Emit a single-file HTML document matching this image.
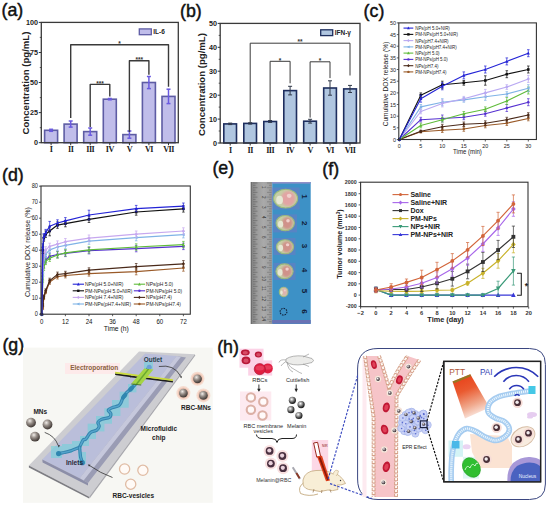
<!DOCTYPE html>
<html><head><meta charset="utf-8"><style>
html,body{margin:0;padding:0;background:#fff;}
svg{display:block;}
</style></head><body>
<svg width="550" height="507" viewBox="0 0 550 507">
<defs>
<radialGradient id="sph" cx="0.38" cy="0.32" r="0.72"><stop offset="0" stop-color="#f2eeea"/><stop offset="0.4" stop-color="#9a928c"/><stop offset="0.85" stop-color="#4e4642"/><stop offset="1" stop-color="#3a3430"/></radialGradient>
<radialGradient id="sph2" cx="0.38" cy="0.36" r="0.68"><stop offset="0" stop-color="#ffffff"/><stop offset="0.3" stop-color="#a8a0a4"/><stop offset="0.8" stop-color="#4a4044"/><stop offset="1" stop-color="#2a2226"/></radialGradient>
<radialGradient id="halo" cx="0.5" cy="0.5" r="0.5"><stop offset="0.55" stop-color="#f4c8b8"/><stop offset="1" stop-color="#fbe9e2"/></radialGradient>
<radialGradient id="rbc" cx="0.5" cy="0.5" r="0.5"><stop offset="0" stop-color="#f06070"/><stop offset="0.5" stop-color="#d8203a"/><stop offset="1" stop-color="#a01020"/></radialGradient>
<radialGradient id="tum" cx="0.55" cy="0.5" r="0.55"><stop offset="0" stop-color="#e8a0a0"/><stop offset="0.55" stop-color="#e0a8a0"/><stop offset="0.8" stop-color="#c8c898"/><stop offset="1" stop-color="#98b880"/></radialGradient>
<linearGradient id="ptt" x1="0.1" y1="0" x2="0.45" y2="1"><stop offset="0" stop-color="#e83c14"/><stop offset="0.4" stop-color="#ea5a30"/><stop offset="0.75" stop-color="#f0a88c"/><stop offset="1" stop-color="#fae6de"/></linearGradient>
<linearGradient id="ruler" x1="0" y1="0" x2="1" y2="0"><stop offset="0" stop-color="#808080"/><stop offset="0.3" stop-color="#9c9c9c"/><stop offset="0.6" stop-color="#aaaaaa"/><stop offset="0.85" stop-color="#a0a0a0"/><stop offset="1" stop-color="#969696"/></linearGradient>
<radialGradient id="nuc" cx="0.6" cy="0.65" r="0.6"><stop offset="0" stop-color="#3050b0"/><stop offset="0.6" stop-color="#5868c0"/><stop offset="1" stop-color="#a898d8"/></radialGradient>
<radialGradient id="sph3" cx="0.4" cy="0.36" r="0.66"><stop offset="0" stop-color="#ffffff"/><stop offset="0.3" stop-color="#b0b0b0"/><stop offset="0.75" stop-color="#3a3a3a"/><stop offset="1" stop-color="#1a1a1a"/></radialGradient>
<filter id="bl1" x="-50%" y="-50%" width="200%" height="200%"><feGaussianBlur stdDeviation="1.0"/></filter>
<filter id="bl05" x="-50%" y="-50%" width="200%" height="200%"><feGaussianBlur stdDeviation="0.5"/></filter>
</defs>
<rect x="0.0" y="0.0" width="550.0" height="507.0" fill="#ffffff" stroke="none" stroke-width="1" />
<text x="1.5" y="16.3" font-size="17.8" text-anchor="start" font-weight="normal" fill="#111" font-family='"Liberation Sans", sans-serif' stroke="#111" stroke-width="0.45">(a)</text>
<rect x="44.6" y="130.3" width="13.0" height="12.4" fill="#c0bdea" stroke="#5e5ca4" stroke-width="1.6" />
<line x1="51.1" y1="129.3" x2="51.1" y2="131.3" stroke="#6a5ae0" stroke-width="1.5" />
<line x1="49.1" y1="129.3" x2="53.1" y2="129.3" stroke="#6a5ae0" stroke-width="1.5" />
<line x1="49.1" y1="131.3" x2="53.1" y2="131.3" stroke="#6a5ae0" stroke-width="1.5" />
<line x1="51.1" y1="142.7" x2="51.1" y2="145.2" stroke="#333" stroke-width="1" />
<text x="51.1" y="152.2" font-size="8.2" text-anchor="middle" font-weight="bold" fill="#222" font-family='"Liberation Serif", serif' letter-spacing="-0.6">I</text>
<rect x="64.1" y="124.1" width="13.0" height="18.6" fill="#c0bdea" stroke="#5e5ca4" stroke-width="1.6" />
<line x1="70.7" y1="121.0" x2="70.7" y2="127.1" stroke="#6a5ae0" stroke-width="1.5" />
<line x1="68.7" y1="121.0" x2="72.7" y2="121.0" stroke="#6a5ae0" stroke-width="1.5" />
<line x1="68.7" y1="127.1" x2="72.7" y2="127.1" stroke="#6a5ae0" stroke-width="1.5" />
<line x1="70.7" y1="142.7" x2="70.7" y2="145.2" stroke="#333" stroke-width="1" />
<text x="70.7" y="152.2" font-size="8.2" text-anchor="middle" font-weight="bold" fill="#222" font-family='"Liberation Serif", serif' letter-spacing="-0.6">II</text>
<rect x="83.7" y="131.6" width="13.0" height="11.1" fill="#c0bdea" stroke="#5e5ca4" stroke-width="1.6" />
<line x1="90.2" y1="128.0" x2="90.2" y2="135.2" stroke="#6a5ae0" stroke-width="1.5" />
<line x1="88.2" y1="128.0" x2="92.2" y2="128.0" stroke="#6a5ae0" stroke-width="1.5" />
<line x1="88.2" y1="135.2" x2="92.2" y2="135.2" stroke="#6a5ae0" stroke-width="1.5" />
<line x1="90.2" y1="142.7" x2="90.2" y2="145.2" stroke="#333" stroke-width="1" />
<text x="90.2" y="152.2" font-size="8.2" text-anchor="middle" font-weight="bold" fill="#222" font-family='"Liberation Serif", serif' letter-spacing="-0.6">III</text>
<rect x="103.3" y="99.2" width="13.0" height="43.5" fill="#c0bdea" stroke="#5e5ca4" stroke-width="1.6" />
<line x1="109.8" y1="98.5" x2="109.8" y2="99.8" stroke="#6a5ae0" stroke-width="1.5" />
<line x1="107.8" y1="98.5" x2="111.8" y2="98.5" stroke="#6a5ae0" stroke-width="1.5" />
<line x1="107.8" y1="99.8" x2="111.8" y2="99.8" stroke="#6a5ae0" stroke-width="1.5" />
<line x1="109.8" y1="142.7" x2="109.8" y2="145.2" stroke="#333" stroke-width="1" />
<text x="109.8" y="152.2" font-size="8.2" text-anchor="middle" font-weight="bold" fill="#222" font-family='"Liberation Serif", serif' letter-spacing="-0.6">IV</text>
<rect x="122.9" y="134.6" width="13.0" height="8.1" fill="#c0bdea" stroke="#5e5ca4" stroke-width="1.6" />
<line x1="129.4" y1="131.0" x2="129.4" y2="138.2" stroke="#6a5ae0" stroke-width="1.5" />
<line x1="127.4" y1="131.0" x2="131.4" y2="131.0" stroke="#6a5ae0" stroke-width="1.5" />
<line x1="127.4" y1="138.2" x2="131.4" y2="138.2" stroke="#6a5ae0" stroke-width="1.5" />
<line x1="129.4" y1="142.7" x2="129.4" y2="145.2" stroke="#333" stroke-width="1" />
<text x="129.4" y="152.2" font-size="8.2" text-anchor="middle" font-weight="bold" fill="#222" font-family='"Liberation Serif", serif' letter-spacing="-0.6">V</text>
<rect x="142.4" y="82.5" width="13.0" height="60.1" fill="#c0bdea" stroke="#5e5ca4" stroke-width="1.6" />
<line x1="148.9" y1="76.5" x2="148.9" y2="88.6" stroke="#6a5ae0" stroke-width="1.5" />
<line x1="146.9" y1="76.5" x2="150.9" y2="76.5" stroke="#6a5ae0" stroke-width="1.5" />
<line x1="146.9" y1="88.6" x2="150.9" y2="88.6" stroke="#6a5ae0" stroke-width="1.5" />
<line x1="148.9" y1="142.7" x2="148.9" y2="145.2" stroke="#333" stroke-width="1" />
<text x="148.9" y="152.2" font-size="8.2" text-anchor="middle" font-weight="bold" fill="#222" font-family='"Liberation Serif", serif' letter-spacing="-0.6">VI</text>
<rect x="162.0" y="96.4" width="13.0" height="46.3" fill="#c0bdea" stroke="#5e5ca4" stroke-width="1.6" />
<line x1="168.5" y1="89.2" x2="168.5" y2="103.6" stroke="#6a5ae0" stroke-width="1.5" />
<line x1="166.5" y1="89.2" x2="170.5" y2="89.2" stroke="#6a5ae0" stroke-width="1.5" />
<line x1="166.5" y1="103.6" x2="170.5" y2="103.6" stroke="#6a5ae0" stroke-width="1.5" />
<line x1="168.5" y1="142.7" x2="168.5" y2="145.2" stroke="#333" stroke-width="1" />
<text x="168.5" y="152.2" font-size="8.2" text-anchor="middle" font-weight="bold" fill="#222" font-family='"Liberation Serif", serif' letter-spacing="-0.6">VII</text>
<rect x="41.3" y="22.4" width="137.0" height="120.3" fill="none" stroke="#3a3a3a" stroke-width="1.3" />
<line x1="38.8" y1="142.7" x2="41.3" y2="142.7" stroke="#333" stroke-width="1" />
<text x="38.0" y="145.2" font-size="7.2" text-anchor="end" font-weight="bold" fill="#222" font-family='"Liberation Sans", sans-serif' >0</text>
<line x1="38.8" y1="112.6" x2="41.3" y2="112.6" stroke="#333" stroke-width="1" />
<text x="38.0" y="115.1" font-size="7.2" text-anchor="end" font-weight="bold" fill="#222" font-family='"Liberation Sans", sans-serif' >25</text>
<line x1="38.8" y1="82.5" x2="41.3" y2="82.5" stroke="#333" stroke-width="1" />
<text x="38.0" y="85.0" font-size="7.2" text-anchor="end" font-weight="bold" fill="#222" font-family='"Liberation Sans", sans-serif' >50</text>
<line x1="38.8" y1="52.5" x2="41.3" y2="52.5" stroke="#333" stroke-width="1" />
<text x="38.0" y="55.0" font-size="7.2" text-anchor="end" font-weight="bold" fill="#222" font-family='"Liberation Sans", sans-serif' >75</text>
<line x1="38.8" y1="22.4" x2="41.3" y2="22.4" stroke="#333" stroke-width="1" />
<text x="38.0" y="24.9" font-size="7.2" text-anchor="end" font-weight="bold" fill="#222" font-family='"Liberation Sans", sans-serif' >100</text>
<line x1="39.8" y1="127.7" x2="41.3" y2="127.7" stroke="#333" stroke-width="0.8" />
<line x1="39.8" y1="97.6" x2="41.3" y2="97.6" stroke="#333" stroke-width="0.8" />
<line x1="39.8" y1="67.5" x2="41.3" y2="67.5" stroke="#333" stroke-width="0.8" />
<line x1="39.8" y1="37.4" x2="41.3" y2="37.4" stroke="#333" stroke-width="0.8" />
<text x="28.6" y="83.0" font-size="9.6" text-anchor="middle" font-weight="bold" fill="#222" font-family='"Liberation Sans", sans-serif' transform="rotate(-90 28.6 83)">Concentration (pg/mL)</text>
<rect x="139.3" y="28.9" width="12.0" height="5.8" fill="#c0bdea" stroke="#5e5ca4" stroke-width="1.3" />
<text x="153.3" y="34.2" font-size="6.5" text-anchor="start" font-weight="bold" fill="#222" font-family='"Liberation Sans", sans-serif' >IL-6</text>
<polyline points="70.7,118.0 70.7,44.7 168.5,44.7 168.5,86.7" fill="none" stroke="#3a3a3a" stroke-width="1.4" stroke-linejoin="round" />
<text x="119.6" y="45.9" font-size="6.5" text-anchor="middle" font-weight="bold" fill="#333" font-family='"Liberation Sans", sans-serif' >*</text>
<polyline points="90.2,126.9 90.2,84.4 109.8,84.4 109.8,96.4" fill="none" stroke="#3a3a3a" stroke-width="1.4" stroke-linejoin="round" />
<text x="100.0" y="85.6" font-size="6.5" text-anchor="middle" font-weight="bold" fill="#333" font-family='"Liberation Sans", sans-serif' >***</text>
<polyline points="129.4,132.0 129.4,60.7 148.9,60.7 148.9,74.7" fill="none" stroke="#3a3a3a" stroke-width="1.4" stroke-linejoin="round" />
<text x="139.2" y="61.9" font-size="6.5" text-anchor="middle" font-weight="bold" fill="#333" font-family='"Liberation Sans", sans-serif' >***</text>
<text x="180.0" y="16.5" font-size="17.8" text-anchor="start" font-weight="normal" fill="#111" font-family='"Liberation Sans", sans-serif' stroke="#111" stroke-width="0.45">(b)</text>
<rect x="223.8" y="123.9" width="12.7" height="19.1" fill="#b0c6e0" stroke="#1e2e5e" stroke-width="1.6" />
<line x1="230.2" y1="123.1" x2="230.2" y2="124.6" stroke="#303848" stroke-width="1.0" />
<line x1="228.2" y1="123.1" x2="232.2" y2="123.1" stroke="#303848" stroke-width="1.0" />
<line x1="228.2" y1="124.6" x2="232.2" y2="124.6" stroke="#303848" stroke-width="1.0" />
<line x1="230.2" y1="143.0" x2="230.2" y2="145.5" stroke="#333" stroke-width="1" />
<text x="230.2" y="152.5" font-size="8.2" text-anchor="middle" font-weight="bold" fill="#222" font-family='"Liberation Serif", serif' letter-spacing="-0.6">I</text>
<rect x="243.8" y="123.4" width="12.7" height="19.6" fill="#b0c6e0" stroke="#1e2e5e" stroke-width="1.6" />
<line x1="250.2" y1="122.7" x2="250.2" y2="124.1" stroke="#303848" stroke-width="1.0" />
<line x1="248.2" y1="122.7" x2="252.2" y2="122.7" stroke="#303848" stroke-width="1.0" />
<line x1="248.2" y1="124.1" x2="252.2" y2="124.1" stroke="#303848" stroke-width="1.0" />
<line x1="250.2" y1="143.0" x2="250.2" y2="145.5" stroke="#333" stroke-width="1" />
<text x="250.2" y="152.5" font-size="8.2" text-anchor="middle" font-weight="bold" fill="#222" font-family='"Liberation Serif", serif' letter-spacing="-0.6">II</text>
<rect x="263.8" y="121.5" width="12.7" height="21.5" fill="#b0c6e0" stroke="#1e2e5e" stroke-width="1.6" />
<line x1="270.1" y1="120.5" x2="270.1" y2="122.4" stroke="#303848" stroke-width="1.0" />
<line x1="268.1" y1="120.5" x2="272.1" y2="120.5" stroke="#303848" stroke-width="1.0" />
<line x1="268.1" y1="122.4" x2="272.1" y2="122.4" stroke="#303848" stroke-width="1.0" />
<line x1="270.1" y1="143.0" x2="270.1" y2="145.5" stroke="#333" stroke-width="1" />
<text x="270.1" y="152.5" font-size="8.2" text-anchor="middle" font-weight="bold" fill="#222" font-family='"Liberation Serif", serif' letter-spacing="-0.6">III</text>
<rect x="283.8" y="90.6" width="12.7" height="52.4" fill="#b0c6e0" stroke="#1e2e5e" stroke-width="1.6" />
<line x1="290.1" y1="86.3" x2="290.1" y2="94.9" stroke="#303848" stroke-width="1.0" />
<line x1="288.1" y1="86.3" x2="292.1" y2="86.3" stroke="#303848" stroke-width="1.0" />
<line x1="288.1" y1="94.9" x2="292.1" y2="94.9" stroke="#303848" stroke-width="1.0" />
<line x1="290.1" y1="143.0" x2="290.1" y2="145.5" stroke="#333" stroke-width="1" />
<text x="290.1" y="152.5" font-size="8.2" text-anchor="middle" font-weight="bold" fill="#222" font-family='"Liberation Serif", serif' letter-spacing="-0.6">IV</text>
<rect x="303.7" y="121.2" width="12.7" height="21.8" fill="#b0c6e0" stroke="#1e2e5e" stroke-width="1.6" />
<line x1="310.1" y1="119.3" x2="310.1" y2="123.1" stroke="#303848" stroke-width="1.0" />
<line x1="308.1" y1="119.3" x2="312.1" y2="119.3" stroke="#303848" stroke-width="1.0" />
<line x1="308.1" y1="123.1" x2="312.1" y2="123.1" stroke="#303848" stroke-width="1.0" />
<line x1="310.1" y1="143.0" x2="310.1" y2="145.5" stroke="#333" stroke-width="1" />
<text x="310.1" y="152.5" font-size="8.2" text-anchor="middle" font-weight="bold" fill="#222" font-family='"Liberation Serif", serif' letter-spacing="-0.6">V</text>
<rect x="323.7" y="88.0" width="12.7" height="55.0" fill="#b0c6e0" stroke="#1e2e5e" stroke-width="1.6" />
<line x1="330.0" y1="80.8" x2="330.0" y2="95.2" stroke="#303848" stroke-width="1.0" />
<line x1="328.0" y1="80.8" x2="332.0" y2="80.8" stroke="#303848" stroke-width="1.0" />
<line x1="328.0" y1="95.2" x2="332.0" y2="95.2" stroke="#303848" stroke-width="1.0" />
<line x1="330.0" y1="143.0" x2="330.0" y2="145.5" stroke="#333" stroke-width="1" />
<text x="330.0" y="152.5" font-size="8.2" text-anchor="middle" font-weight="bold" fill="#222" font-family='"Liberation Serif", serif' letter-spacing="-0.6">VI</text>
<rect x="343.7" y="88.9" width="12.7" height="54.1" fill="#b0c6e0" stroke="#1e2e5e" stroke-width="1.6" />
<line x1="350.0" y1="85.4" x2="350.0" y2="92.5" stroke="#303848" stroke-width="1.0" />
<line x1="348.0" y1="85.4" x2="352.0" y2="85.4" stroke="#303848" stroke-width="1.0" />
<line x1="348.0" y1="92.5" x2="352.0" y2="92.5" stroke="#303848" stroke-width="1.0" />
<line x1="350.0" y1="143.0" x2="350.0" y2="145.5" stroke="#333" stroke-width="1" />
<text x="350.0" y="152.5" font-size="8.2" text-anchor="middle" font-weight="bold" fill="#222" font-family='"Liberation Serif", serif' letter-spacing="-0.6">VII</text>
<rect x="220.2" y="23.4" width="139.8" height="119.6" fill="none" stroke="#3a3a3a" stroke-width="1.3" />
<line x1="217.7" y1="143.0" x2="220.2" y2="143.0" stroke="#333" stroke-width="1" />
<text x="216.9" y="145.5" font-size="7.2" text-anchor="end" font-weight="bold" fill="#222" font-family='"Liberation Sans", sans-serif' >0</text>
<line x1="217.7" y1="119.1" x2="220.2" y2="119.1" stroke="#333" stroke-width="1" />
<text x="216.9" y="121.6" font-size="7.2" text-anchor="end" font-weight="bold" fill="#222" font-family='"Liberation Sans", sans-serif' >10</text>
<line x1="217.7" y1="95.2" x2="220.2" y2="95.2" stroke="#333" stroke-width="1" />
<text x="216.9" y="97.7" font-size="7.2" text-anchor="end" font-weight="bold" fill="#222" font-family='"Liberation Sans", sans-serif' >20</text>
<line x1="217.7" y1="71.2" x2="220.2" y2="71.2" stroke="#333" stroke-width="1" />
<text x="216.9" y="73.7" font-size="7.2" text-anchor="end" font-weight="bold" fill="#222" font-family='"Liberation Sans", sans-serif' >30</text>
<line x1="217.7" y1="47.3" x2="220.2" y2="47.3" stroke="#333" stroke-width="1" />
<text x="216.9" y="49.8" font-size="7.2" text-anchor="end" font-weight="bold" fill="#222" font-family='"Liberation Sans", sans-serif' >40</text>
<line x1="217.7" y1="23.4" x2="220.2" y2="23.4" stroke="#333" stroke-width="1" />
<text x="216.9" y="25.9" font-size="7.2" text-anchor="end" font-weight="bold" fill="#222" font-family='"Liberation Sans", sans-serif' >50</text>
<line x1="218.7" y1="131.0" x2="220.2" y2="131.0" stroke="#333" stroke-width="0.8" />
<line x1="218.7" y1="107.1" x2="220.2" y2="107.1" stroke="#333" stroke-width="0.8" />
<line x1="218.7" y1="83.2" x2="220.2" y2="83.2" stroke="#333" stroke-width="0.8" />
<line x1="218.7" y1="59.3" x2="220.2" y2="59.3" stroke="#333" stroke-width="0.8" />
<line x1="218.7" y1="35.4" x2="220.2" y2="35.4" stroke="#333" stroke-width="0.8" />
<text x="205.3" y="84.5" font-size="9.6" text-anchor="middle" font-weight="bold" fill="#222" font-family='"Liberation Sans", sans-serif' transform="rotate(-90 205.3 84.5)">Concentration (pg/mL)</text>
<rect x="320.7" y="29.8" width="12.0" height="5.8" fill="#b0c6e0" stroke="#1e2e5e" stroke-width="1.3" />
<text x="334.7" y="35.1" font-size="6.5" text-anchor="start" font-weight="bold" fill="#222" font-family='"Liberation Sans", sans-serif' >IFN-γ</text>
<polyline points="250.2,122.0 250.2,43.2 350.0,43.2 350.0,75.5" fill="none" stroke="#3a3a3a" stroke-width="1.0" stroke-linejoin="round" />
<text x="300.1" y="44.4" font-size="6.5" text-anchor="middle" font-weight="bold" fill="#333" font-family='"Liberation Sans", sans-serif' >**</text>
<polyline points="270.1,120.2 270.1,61.3 290.1,61.3 290.1,83.3" fill="none" stroke="#3a3a3a" stroke-width="1.0" stroke-linejoin="round" />
<text x="280.1" y="62.5" font-size="6.5" text-anchor="middle" font-weight="bold" fill="#333" font-family='"Liberation Sans", sans-serif' >*</text>
<polyline points="310.1,117.6 310.1,61.8 330.0,61.8 330.0,78.1" fill="none" stroke="#3a3a3a" stroke-width="1.0" stroke-linejoin="round" />
<text x="320.1" y="63.0" font-size="6.5" text-anchor="middle" font-weight="bold" fill="#333" font-family='"Liberation Sans", sans-serif' >*</text>
<text x="363.6" y="16.6" font-size="17.8" text-anchor="start" font-weight="normal" fill="#111" font-family='"Liberation Sans", sans-serif' stroke="#111" stroke-width="0.45">(c)</text>
<polyline points="399.3,139.5 420.8,131.8 442.3,130.2 463.8,129.0 485.3,125.5 506.8,123.2 528.3,118.5" fill="none" stroke="#9a5a28" stroke-width="1.1" stroke-linejoin="round" />
<line x1="420.8" y1="130.6" x2="420.8" y2="133.0" stroke="#9a5a28" stroke-width="0.7" />
<line x1="419.5" y1="130.6" x2="422.1" y2="130.6" stroke="#9a5a28" stroke-width="0.7" />
<line x1="419.5" y1="133.0" x2="422.1" y2="133.0" stroke="#9a5a28" stroke-width="0.7" />
<line x1="442.3" y1="127.8" x2="442.3" y2="132.5" stroke="#9a5a28" stroke-width="0.7" />
<line x1="441.0" y1="127.8" x2="443.6" y2="127.8" stroke="#9a5a28" stroke-width="0.7" />
<line x1="441.0" y1="132.5" x2="443.6" y2="132.5" stroke="#9a5a28" stroke-width="0.7" />
<line x1="463.8" y1="126.7" x2="463.8" y2="131.3" stroke="#9a5a28" stroke-width="0.7" />
<line x1="462.5" y1="126.7" x2="465.1" y2="126.7" stroke="#9a5a28" stroke-width="0.7" />
<line x1="462.5" y1="131.3" x2="465.1" y2="131.3" stroke="#9a5a28" stroke-width="0.7" />
<line x1="485.3" y1="123.2" x2="485.3" y2="127.8" stroke="#9a5a28" stroke-width="0.7" />
<line x1="484.0" y1="123.2" x2="486.6" y2="123.2" stroke="#9a5a28" stroke-width="0.7" />
<line x1="484.0" y1="127.8" x2="486.6" y2="127.8" stroke="#9a5a28" stroke-width="0.7" />
<line x1="506.8" y1="120.8" x2="506.8" y2="125.5" stroke="#9a5a28" stroke-width="0.7" />
<line x1="505.5" y1="120.8" x2="508.1" y2="120.8" stroke="#9a5a28" stroke-width="0.7" />
<line x1="505.5" y1="125.5" x2="508.1" y2="125.5" stroke="#9a5a28" stroke-width="0.7" />
<line x1="528.3" y1="116.2" x2="528.3" y2="120.8" stroke="#9a5a28" stroke-width="0.7" />
<line x1="527.0" y1="116.2" x2="529.6" y2="116.2" stroke="#9a5a28" stroke-width="0.7" />
<line x1="527.0" y1="120.8" x2="529.6" y2="120.8" stroke="#9a5a28" stroke-width="0.7" />
<circle cx="399.3" cy="139.5" r="1.3" fill="#9a5a28" stroke="none" stroke-width="1" />
<circle cx="420.8" cy="131.8" r="1.3" fill="#9a5a28" stroke="none" stroke-width="1" />
<circle cx="442.3" cy="130.2" r="1.3" fill="#9a5a28" stroke="none" stroke-width="1" />
<circle cx="463.8" cy="129.0" r="1.3" fill="#9a5a28" stroke="none" stroke-width="1" />
<circle cx="485.3" cy="125.5" r="1.3" fill="#9a5a28" stroke="none" stroke-width="1" />
<circle cx="506.8" cy="123.2" r="1.3" fill="#9a5a28" stroke="none" stroke-width="1" />
<circle cx="528.3" cy="118.5" r="1.3" fill="#9a5a28" stroke="none" stroke-width="1" />
<polyline points="399.3,139.5 420.8,131.3 442.3,126.7 463.8,124.3 485.3,123.2 506.8,119.7 528.3,115.0" fill="none" stroke="#4a2a1a" stroke-width="1.1" stroke-linejoin="round" />
<line x1="420.8" y1="130.2" x2="420.8" y2="132.5" stroke="#4a2a1a" stroke-width="0.7" />
<line x1="419.5" y1="130.2" x2="422.1" y2="130.2" stroke="#4a2a1a" stroke-width="0.7" />
<line x1="419.5" y1="132.5" x2="422.1" y2="132.5" stroke="#4a2a1a" stroke-width="0.7" />
<line x1="442.3" y1="124.3" x2="442.3" y2="129.0" stroke="#4a2a1a" stroke-width="0.7" />
<line x1="441.0" y1="124.3" x2="443.6" y2="124.3" stroke="#4a2a1a" stroke-width="0.7" />
<line x1="441.0" y1="129.0" x2="443.6" y2="129.0" stroke="#4a2a1a" stroke-width="0.7" />
<line x1="463.8" y1="122.0" x2="463.8" y2="126.7" stroke="#4a2a1a" stroke-width="0.7" />
<line x1="462.5" y1="122.0" x2="465.1" y2="122.0" stroke="#4a2a1a" stroke-width="0.7" />
<line x1="462.5" y1="126.7" x2="465.1" y2="126.7" stroke="#4a2a1a" stroke-width="0.7" />
<line x1="485.3" y1="120.8" x2="485.3" y2="125.5" stroke="#4a2a1a" stroke-width="0.7" />
<line x1="484.0" y1="120.8" x2="486.6" y2="120.8" stroke="#4a2a1a" stroke-width="0.7" />
<line x1="484.0" y1="125.5" x2="486.6" y2="125.5" stroke="#4a2a1a" stroke-width="0.7" />
<line x1="506.8" y1="117.3" x2="506.8" y2="122.0" stroke="#4a2a1a" stroke-width="0.7" />
<line x1="505.5" y1="117.3" x2="508.1" y2="117.3" stroke="#4a2a1a" stroke-width="0.7" />
<line x1="505.5" y1="122.0" x2="508.1" y2="122.0" stroke="#4a2a1a" stroke-width="0.7" />
<line x1="528.3" y1="112.7" x2="528.3" y2="117.3" stroke="#4a2a1a" stroke-width="0.7" />
<line x1="527.0" y1="112.7" x2="529.6" y2="112.7" stroke="#4a2a1a" stroke-width="0.7" />
<line x1="527.0" y1="117.3" x2="529.6" y2="117.3" stroke="#4a2a1a" stroke-width="0.7" />
<polygon points="399.3,137.7 400.9,139.5 399.3,141.3 397.7,139.5" fill="#4a2a1a" stroke="none" stroke-width="1" />
<polygon points="420.8,129.5 422.4,131.3 420.8,133.2 419.2,131.3" fill="#4a2a1a" stroke="none" stroke-width="1" />
<polygon points="442.3,124.9 443.9,126.7 442.3,128.5 440.7,126.7" fill="#4a2a1a" stroke="none" stroke-width="1" />
<polygon points="463.8,122.5 465.4,124.3 463.8,126.2 462.2,124.3" fill="#4a2a1a" stroke="none" stroke-width="1" />
<polygon points="485.3,121.4 486.9,123.2 485.3,125.0 483.7,123.2" fill="#4a2a1a" stroke="none" stroke-width="1" />
<polygon points="506.8,117.9 508.4,119.7 506.8,121.5 505.2,119.7" fill="#4a2a1a" stroke="none" stroke-width="1" />
<polygon points="528.3,113.2 529.9,115.0 528.3,116.8 526.7,115.0" fill="#4a2a1a" stroke="none" stroke-width="1" />
<polyline points="399.3,139.5 420.8,119.7 442.3,118.5 463.8,117.3 485.3,113.8 506.8,108.0 528.3,102.2" fill="none" stroke="#5530d0" stroke-width="1.1" stroke-linejoin="round" />
<line x1="420.8" y1="117.3" x2="420.8" y2="122.0" stroke="#5530d0" stroke-width="0.7" />
<line x1="419.5" y1="117.3" x2="422.1" y2="117.3" stroke="#5530d0" stroke-width="0.7" />
<line x1="419.5" y1="122.0" x2="422.1" y2="122.0" stroke="#5530d0" stroke-width="0.7" />
<line x1="442.3" y1="115.0" x2="442.3" y2="122.0" stroke="#5530d0" stroke-width="0.7" />
<line x1="441.0" y1="115.0" x2="443.6" y2="115.0" stroke="#5530d0" stroke-width="0.7" />
<line x1="441.0" y1="122.0" x2="443.6" y2="122.0" stroke="#5530d0" stroke-width="0.7" />
<line x1="463.8" y1="115.0" x2="463.8" y2="119.7" stroke="#5530d0" stroke-width="0.7" />
<line x1="462.5" y1="115.0" x2="465.1" y2="115.0" stroke="#5530d0" stroke-width="0.7" />
<line x1="462.5" y1="119.7" x2="465.1" y2="119.7" stroke="#5530d0" stroke-width="0.7" />
<line x1="485.3" y1="111.5" x2="485.3" y2="116.2" stroke="#5530d0" stroke-width="0.7" />
<line x1="484.0" y1="111.5" x2="486.6" y2="111.5" stroke="#5530d0" stroke-width="0.7" />
<line x1="484.0" y1="116.2" x2="486.6" y2="116.2" stroke="#5530d0" stroke-width="0.7" />
<line x1="506.8" y1="104.5" x2="506.8" y2="111.5" stroke="#5530d0" stroke-width="0.7" />
<line x1="505.5" y1="104.5" x2="508.1" y2="104.5" stroke="#5530d0" stroke-width="0.7" />
<line x1="505.5" y1="111.5" x2="508.1" y2="111.5" stroke="#5530d0" stroke-width="0.7" />
<line x1="528.3" y1="98.7" x2="528.3" y2="105.7" stroke="#5530d0" stroke-width="0.7" />
<line x1="527.0" y1="98.7" x2="529.6" y2="98.7" stroke="#5530d0" stroke-width="0.7" />
<line x1="527.0" y1="105.7" x2="529.6" y2="105.7" stroke="#5530d0" stroke-width="0.7" />
<circle cx="399.3" cy="139.5" r="1.3" fill="#5530d0" stroke="none" stroke-width="1" />
<circle cx="420.8" cy="119.7" r="1.3" fill="#5530d0" stroke="none" stroke-width="1" />
<circle cx="442.3" cy="118.5" r="1.3" fill="#5530d0" stroke="none" stroke-width="1" />
<circle cx="463.8" cy="117.3" r="1.3" fill="#5530d0" stroke="none" stroke-width="1" />
<circle cx="485.3" cy="113.8" r="1.3" fill="#5530d0" stroke="none" stroke-width="1" />
<circle cx="506.8" cy="108.0" r="1.3" fill="#5530d0" stroke="none" stroke-width="1" />
<circle cx="528.3" cy="102.2" r="1.3" fill="#5530d0" stroke="none" stroke-width="1" />
<polyline points="399.3,139.5 420.8,125.5 442.3,119.7 463.8,113.8 485.3,109.2 506.8,101.0 528.3,90.5" fill="none" stroke="#5fbb3a" stroke-width="1.1" stroke-linejoin="round" />
<line x1="420.8" y1="123.2" x2="420.8" y2="127.8" stroke="#5fbb3a" stroke-width="0.7" />
<line x1="419.5" y1="123.2" x2="422.1" y2="123.2" stroke="#5fbb3a" stroke-width="0.7" />
<line x1="419.5" y1="127.8" x2="422.1" y2="127.8" stroke="#5fbb3a" stroke-width="0.7" />
<line x1="442.3" y1="117.3" x2="442.3" y2="122.0" stroke="#5fbb3a" stroke-width="0.7" />
<line x1="441.0" y1="117.3" x2="443.6" y2="117.3" stroke="#5fbb3a" stroke-width="0.7" />
<line x1="441.0" y1="122.0" x2="443.6" y2="122.0" stroke="#5fbb3a" stroke-width="0.7" />
<line x1="463.8" y1="111.5" x2="463.8" y2="116.2" stroke="#5fbb3a" stroke-width="0.7" />
<line x1="462.5" y1="111.5" x2="465.1" y2="111.5" stroke="#5fbb3a" stroke-width="0.7" />
<line x1="462.5" y1="116.2" x2="465.1" y2="116.2" stroke="#5fbb3a" stroke-width="0.7" />
<line x1="485.3" y1="106.9" x2="485.3" y2="111.5" stroke="#5fbb3a" stroke-width="0.7" />
<line x1="484.0" y1="106.9" x2="486.6" y2="106.9" stroke="#5fbb3a" stroke-width="0.7" />
<line x1="484.0" y1="111.5" x2="486.6" y2="111.5" stroke="#5fbb3a" stroke-width="0.7" />
<line x1="506.8" y1="97.5" x2="506.8" y2="104.5" stroke="#5fbb3a" stroke-width="0.7" />
<line x1="505.5" y1="97.5" x2="508.1" y2="97.5" stroke="#5fbb3a" stroke-width="0.7" />
<line x1="505.5" y1="104.5" x2="508.1" y2="104.5" stroke="#5fbb3a" stroke-width="0.7" />
<line x1="528.3" y1="87.0" x2="528.3" y2="94.0" stroke="#5fbb3a" stroke-width="0.7" />
<line x1="527.0" y1="87.0" x2="529.6" y2="87.0" stroke="#5fbb3a" stroke-width="0.7" />
<line x1="527.0" y1="94.0" x2="529.6" y2="94.0" stroke="#5fbb3a" stroke-width="0.7" />
<polygon points="399.3,137.8 400.9,140.8 397.7,140.8" fill="#5fbb3a" stroke="none" stroke-width="1" />
<polygon points="420.8,123.8 422.4,126.8 419.2,126.8" fill="#5fbb3a" stroke="none" stroke-width="1" />
<polygon points="442.3,118.0 443.9,121.0 440.7,121.0" fill="#5fbb3a" stroke="none" stroke-width="1" />
<polygon points="463.8,112.2 465.4,115.1 462.2,115.1" fill="#5fbb3a" stroke="none" stroke-width="1" />
<polygon points="485.3,107.5 486.9,110.5 483.7,110.5" fill="#5fbb3a" stroke="none" stroke-width="1" />
<polygon points="506.8,99.3 508.4,102.3 505.2,102.3" fill="#5fbb3a" stroke="none" stroke-width="1" />
<polygon points="528.3,88.8 529.9,91.8 526.7,91.8" fill="#5fbb3a" stroke="none" stroke-width="1" />
<polyline points="399.3,139.5 420.8,106.9 442.3,102.2 463.8,99.9 485.3,96.8 506.8,94.0 528.3,88.2" fill="none" stroke="#7fb3e6" stroke-width="1.1" stroke-linejoin="round" />
<line x1="420.8" y1="104.5" x2="420.8" y2="109.2" stroke="#7fb3e6" stroke-width="0.7" />
<line x1="419.5" y1="104.5" x2="422.1" y2="104.5" stroke="#7fb3e6" stroke-width="0.7" />
<line x1="419.5" y1="109.2" x2="422.1" y2="109.2" stroke="#7fb3e6" stroke-width="0.7" />
<line x1="442.3" y1="98.7" x2="442.3" y2="105.7" stroke="#7fb3e6" stroke-width="0.7" />
<line x1="441.0" y1="98.7" x2="443.6" y2="98.7" stroke="#7fb3e6" stroke-width="0.7" />
<line x1="441.0" y1="105.7" x2="443.6" y2="105.7" stroke="#7fb3e6" stroke-width="0.7" />
<line x1="463.8" y1="97.5" x2="463.8" y2="102.2" stroke="#7fb3e6" stroke-width="0.7" />
<line x1="462.5" y1="97.5" x2="465.1" y2="97.5" stroke="#7fb3e6" stroke-width="0.7" />
<line x1="462.5" y1="102.2" x2="465.1" y2="102.2" stroke="#7fb3e6" stroke-width="0.7" />
<line x1="485.3" y1="93.3" x2="485.3" y2="100.3" stroke="#7fb3e6" stroke-width="0.7" />
<line x1="484.0" y1="93.3" x2="486.6" y2="93.3" stroke="#7fb3e6" stroke-width="0.7" />
<line x1="484.0" y1="100.3" x2="486.6" y2="100.3" stroke="#7fb3e6" stroke-width="0.7" />
<line x1="506.8" y1="91.7" x2="506.8" y2="96.4" stroke="#7fb3e6" stroke-width="0.7" />
<line x1="505.5" y1="91.7" x2="508.1" y2="91.7" stroke="#7fb3e6" stroke-width="0.7" />
<line x1="505.5" y1="96.4" x2="508.1" y2="96.4" stroke="#7fb3e6" stroke-width="0.7" />
<line x1="528.3" y1="84.7" x2="528.3" y2="91.7" stroke="#7fb3e6" stroke-width="0.7" />
<line x1="527.0" y1="84.7" x2="529.6" y2="84.7" stroke="#7fb3e6" stroke-width="0.7" />
<line x1="527.0" y1="91.7" x2="529.6" y2="91.7" stroke="#7fb3e6" stroke-width="0.7" />
<polygon points="397.6,139.5 400.6,137.9 400.6,141.1" fill="#7fb3e6" stroke="none" stroke-width="1" />
<polygon points="419.1,106.9 422.1,105.3 422.1,108.4" fill="#7fb3e6" stroke="none" stroke-width="1" />
<polygon points="440.6,102.2 443.6,100.6 443.6,103.7" fill="#7fb3e6" stroke="none" stroke-width="1" />
<polygon points="462.1,99.9 465.1,98.3 465.1,101.4" fill="#7fb3e6" stroke="none" stroke-width="1" />
<polygon points="483.6,96.8 486.6,95.3 486.6,98.4" fill="#7fb3e6" stroke="none" stroke-width="1" />
<polygon points="505.1,94.0 508.1,92.5 508.1,95.6" fill="#7fb3e6" stroke="none" stroke-width="1" />
<polygon points="526.6,88.2 529.6,86.6 529.6,89.8" fill="#7fb3e6" stroke="none" stroke-width="1" />
<polyline points="399.3,139.5 420.8,111.5 442.3,103.4 463.8,98.7 485.3,92.9 506.8,87.0 528.3,78.9" fill="none" stroke="#b9a9f2" stroke-width="1.1" stroke-linejoin="round" />
<line x1="420.8" y1="109.2" x2="420.8" y2="113.8" stroke="#b9a9f2" stroke-width="0.7" />
<line x1="419.5" y1="109.2" x2="422.1" y2="109.2" stroke="#b9a9f2" stroke-width="0.7" />
<line x1="419.5" y1="113.8" x2="422.1" y2="113.8" stroke="#b9a9f2" stroke-width="0.7" />
<line x1="442.3" y1="99.9" x2="442.3" y2="106.9" stroke="#b9a9f2" stroke-width="0.7" />
<line x1="441.0" y1="99.9" x2="443.6" y2="99.9" stroke="#b9a9f2" stroke-width="0.7" />
<line x1="441.0" y1="106.9" x2="443.6" y2="106.9" stroke="#b9a9f2" stroke-width="0.7" />
<line x1="463.8" y1="96.4" x2="463.8" y2="101.0" stroke="#b9a9f2" stroke-width="0.7" />
<line x1="462.5" y1="96.4" x2="465.1" y2="96.4" stroke="#b9a9f2" stroke-width="0.7" />
<line x1="462.5" y1="101.0" x2="465.1" y2="101.0" stroke="#b9a9f2" stroke-width="0.7" />
<line x1="485.3" y1="89.4" x2="485.3" y2="96.4" stroke="#b9a9f2" stroke-width="0.7" />
<line x1="484.0" y1="89.4" x2="486.6" y2="89.4" stroke="#b9a9f2" stroke-width="0.7" />
<line x1="484.0" y1="96.4" x2="486.6" y2="96.4" stroke="#b9a9f2" stroke-width="0.7" />
<line x1="506.8" y1="84.7" x2="506.8" y2="89.4" stroke="#b9a9f2" stroke-width="0.7" />
<line x1="505.5" y1="84.7" x2="508.1" y2="84.7" stroke="#b9a9f2" stroke-width="0.7" />
<line x1="505.5" y1="89.4" x2="508.1" y2="89.4" stroke="#b9a9f2" stroke-width="0.7" />
<line x1="528.3" y1="75.4" x2="528.3" y2="82.4" stroke="#b9a9f2" stroke-width="0.7" />
<line x1="527.0" y1="75.4" x2="529.6" y2="75.4" stroke="#b9a9f2" stroke-width="0.7" />
<line x1="527.0" y1="82.4" x2="529.6" y2="82.4" stroke="#b9a9f2" stroke-width="0.7" />
<polygon points="399.3,137.7 400.9,139.5 399.3,141.3 397.7,139.5" fill="#b9a9f2" stroke="none" stroke-width="1" />
<polygon points="420.8,109.7 422.4,111.5 420.8,113.3 419.2,111.5" fill="#b9a9f2" stroke="none" stroke-width="1" />
<polygon points="442.3,101.5 443.9,103.4 442.3,105.2 440.7,103.4" fill="#b9a9f2" stroke="none" stroke-width="1" />
<polygon points="463.8,96.9 465.4,98.7 463.8,100.5 462.2,98.7" fill="#b9a9f2" stroke="none" stroke-width="1" />
<polygon points="485.3,91.0 486.9,92.9 485.3,94.7 483.7,92.9" fill="#b9a9f2" stroke="none" stroke-width="1" />
<polygon points="506.8,85.2 508.4,87.0 506.8,88.8 505.2,87.0" fill="#b9a9f2" stroke="none" stroke-width="1" />
<polygon points="528.3,77.0 529.9,78.9 528.3,80.7 526.7,78.9" fill="#b9a9f2" stroke="none" stroke-width="1" />
<polyline points="399.3,139.5 420.8,95.2 442.3,84.7 463.8,82.8 485.3,80.5 506.8,74.2 528.3,69.5" fill="none" stroke="#111111" stroke-width="1.1" stroke-linejoin="round" />
<line x1="420.8" y1="92.9" x2="420.8" y2="97.5" stroke="#111111" stroke-width="0.7" />
<line x1="419.5" y1="92.9" x2="422.1" y2="92.9" stroke="#111111" stroke-width="0.7" />
<line x1="419.5" y1="97.5" x2="422.1" y2="97.5" stroke="#111111" stroke-width="0.7" />
<line x1="442.3" y1="81.2" x2="442.3" y2="88.2" stroke="#111111" stroke-width="0.7" />
<line x1="441.0" y1="81.2" x2="443.6" y2="81.2" stroke="#111111" stroke-width="0.7" />
<line x1="441.0" y1="88.2" x2="443.6" y2="88.2" stroke="#111111" stroke-width="0.7" />
<line x1="463.8" y1="80.5" x2="463.8" y2="85.2" stroke="#111111" stroke-width="0.7" />
<line x1="462.5" y1="80.5" x2="465.1" y2="80.5" stroke="#111111" stroke-width="0.7" />
<line x1="462.5" y1="85.2" x2="465.1" y2="85.2" stroke="#111111" stroke-width="0.7" />
<line x1="485.3" y1="75.8" x2="485.3" y2="85.2" stroke="#111111" stroke-width="0.7" />
<line x1="484.0" y1="75.8" x2="486.6" y2="75.8" stroke="#111111" stroke-width="0.7" />
<line x1="484.0" y1="85.2" x2="486.6" y2="85.2" stroke="#111111" stroke-width="0.7" />
<line x1="506.8" y1="70.7" x2="506.8" y2="77.7" stroke="#111111" stroke-width="0.7" />
<line x1="505.5" y1="70.7" x2="508.1" y2="70.7" stroke="#111111" stroke-width="0.7" />
<line x1="505.5" y1="77.7" x2="508.1" y2="77.7" stroke="#111111" stroke-width="0.7" />
<line x1="528.3" y1="66.0" x2="528.3" y2="73.0" stroke="#111111" stroke-width="0.7" />
<line x1="527.0" y1="66.0" x2="529.6" y2="66.0" stroke="#111111" stroke-width="0.7" />
<line x1="527.0" y1="73.0" x2="529.6" y2="73.0" stroke="#111111" stroke-width="0.7" />
<rect x="398.0" y="138.2" width="2.6" height="2.6" fill="#111111" stroke="none" stroke-width="1" />
<rect x="419.5" y="93.9" width="2.6" height="2.6" fill="#111111" stroke="none" stroke-width="1" />
<rect x="441.0" y="83.4" width="2.6" height="2.6" fill="#111111" stroke="none" stroke-width="1" />
<rect x="462.5" y="81.5" width="2.6" height="2.6" fill="#111111" stroke="none" stroke-width="1" />
<rect x="484.0" y="79.2" width="2.6" height="2.6" fill="#111111" stroke="none" stroke-width="1" />
<rect x="505.5" y="72.9" width="2.6" height="2.6" fill="#111111" stroke="none" stroke-width="1" />
<rect x="527.0" y="68.2" width="2.6" height="2.6" fill="#111111" stroke="none" stroke-width="1" />
<polyline points="399.3,139.5 420.8,98.7 442.3,86.3 463.8,75.4 485.3,69.5 506.8,61.4 528.3,53.2" fill="none" stroke="#2323d6" stroke-width="1.1" stroke-linejoin="round" />
<line x1="420.8" y1="95.2" x2="420.8" y2="102.2" stroke="#2323d6" stroke-width="0.7" />
<line x1="419.5" y1="95.2" x2="422.1" y2="95.2" stroke="#2323d6" stroke-width="0.7" />
<line x1="419.5" y1="102.2" x2="422.1" y2="102.2" stroke="#2323d6" stroke-width="0.7" />
<line x1="442.3" y1="82.8" x2="442.3" y2="89.8" stroke="#2323d6" stroke-width="0.7" />
<line x1="441.0" y1="82.8" x2="443.6" y2="82.8" stroke="#2323d6" stroke-width="0.7" />
<line x1="441.0" y1="89.8" x2="443.6" y2="89.8" stroke="#2323d6" stroke-width="0.7" />
<line x1="463.8" y1="71.9" x2="463.8" y2="78.9" stroke="#2323d6" stroke-width="0.7" />
<line x1="462.5" y1="71.9" x2="465.1" y2="71.9" stroke="#2323d6" stroke-width="0.7" />
<line x1="462.5" y1="78.9" x2="465.1" y2="78.9" stroke="#2323d6" stroke-width="0.7" />
<line x1="485.3" y1="66.0" x2="485.3" y2="73.0" stroke="#2323d6" stroke-width="0.7" />
<line x1="484.0" y1="66.0" x2="486.6" y2="66.0" stroke="#2323d6" stroke-width="0.7" />
<line x1="484.0" y1="73.0" x2="486.6" y2="73.0" stroke="#2323d6" stroke-width="0.7" />
<line x1="506.8" y1="57.9" x2="506.8" y2="64.9" stroke="#2323d6" stroke-width="0.7" />
<line x1="505.5" y1="57.9" x2="508.1" y2="57.9" stroke="#2323d6" stroke-width="0.7" />
<line x1="505.5" y1="64.9" x2="508.1" y2="64.9" stroke="#2323d6" stroke-width="0.7" />
<line x1="528.3" y1="49.7" x2="528.3" y2="56.7" stroke="#2323d6" stroke-width="0.7" />
<line x1="527.0" y1="49.7" x2="529.6" y2="49.7" stroke="#2323d6" stroke-width="0.7" />
<line x1="527.0" y1="56.7" x2="529.6" y2="56.7" stroke="#2323d6" stroke-width="0.7" />
<polygon points="399.3,137.8 400.9,140.8 397.7,140.8" fill="#2323d6" stroke="none" stroke-width="1" />
<polygon points="420.8,97.0 422.4,100.0 419.2,100.0" fill="#2323d6" stroke="none" stroke-width="1" />
<polygon points="442.3,84.6 443.9,87.6 440.7,87.6" fill="#2323d6" stroke="none" stroke-width="1" />
<polygon points="463.8,73.7 465.4,76.7 462.2,76.7" fill="#2323d6" stroke="none" stroke-width="1" />
<polygon points="485.3,67.9 486.9,70.8 483.7,70.8" fill="#2323d6" stroke="none" stroke-width="1" />
<polygon points="506.8,59.7 508.4,62.7 505.2,62.7" fill="#2323d6" stroke="none" stroke-width="1" />
<polygon points="528.3,51.5 529.9,54.5 526.7,54.5" fill="#2323d6" stroke="none" stroke-width="1" />
<rect x="398.8" y="22.9" width="137.6" height="116.6" fill="none" stroke="#333" stroke-width="1.1" />
<line x1="396.8" y1="139.5" x2="398.8" y2="139.5" stroke="#333" stroke-width="0.8" />
<text transform="translate(396.0 141.6) scale(0.9 1)" font-size="6.0" text-anchor="end" font-weight="normal" fill="#222" font-family='"Liberation Sans", sans-serif'>0</text>
<line x1="396.8" y1="127.8" x2="398.8" y2="127.8" stroke="#333" stroke-width="0.8" />
<text transform="translate(396.0 129.9) scale(0.9 1)" font-size="6.0" text-anchor="end" font-weight="normal" fill="#222" font-family='"Liberation Sans", sans-serif'>5</text>
<line x1="396.8" y1="116.2" x2="398.8" y2="116.2" stroke="#333" stroke-width="0.8" />
<text transform="translate(396.0 118.3) scale(0.9 1)" font-size="6.0" text-anchor="end" font-weight="normal" fill="#222" font-family='"Liberation Sans", sans-serif'>10</text>
<line x1="396.8" y1="104.5" x2="398.8" y2="104.5" stroke="#333" stroke-width="0.8" />
<text transform="translate(396.0 106.6) scale(0.9 1)" font-size="6.0" text-anchor="end" font-weight="normal" fill="#222" font-family='"Liberation Sans", sans-serif'>15</text>
<line x1="396.8" y1="92.9" x2="398.8" y2="92.9" stroke="#333" stroke-width="0.8" />
<text transform="translate(396.0 95.0) scale(0.9 1)" font-size="6.0" text-anchor="end" font-weight="normal" fill="#222" font-family='"Liberation Sans", sans-serif'>20</text>
<line x1="396.8" y1="81.2" x2="398.8" y2="81.2" stroke="#333" stroke-width="0.8" />
<text transform="translate(396.0 83.3) scale(0.9 1)" font-size="6.0" text-anchor="end" font-weight="normal" fill="#222" font-family='"Liberation Sans", sans-serif'>25</text>
<line x1="396.8" y1="69.5" x2="398.8" y2="69.5" stroke="#333" stroke-width="0.8" />
<text transform="translate(396.0 71.6) scale(0.9 1)" font-size="6.0" text-anchor="end" font-weight="normal" fill="#222" font-family='"Liberation Sans", sans-serif'>30</text>
<line x1="396.8" y1="57.9" x2="398.8" y2="57.9" stroke="#333" stroke-width="0.8" />
<text transform="translate(396.0 60.0) scale(0.9 1)" font-size="6.0" text-anchor="end" font-weight="normal" fill="#222" font-family='"Liberation Sans", sans-serif'>35</text>
<line x1="396.8" y1="46.2" x2="398.8" y2="46.2" stroke="#333" stroke-width="0.8" />
<text transform="translate(396.0 48.3) scale(0.9 1)" font-size="6.0" text-anchor="end" font-weight="normal" fill="#222" font-family='"Liberation Sans", sans-serif'>40</text>
<line x1="396.8" y1="34.6" x2="398.8" y2="34.6" stroke="#333" stroke-width="0.8" />
<text transform="translate(396.0 36.7) scale(0.9 1)" font-size="6.0" text-anchor="end" font-weight="normal" fill="#222" font-family='"Liberation Sans", sans-serif'>45</text>
<line x1="396.8" y1="22.9" x2="398.8" y2="22.9" stroke="#333" stroke-width="0.8" />
<text transform="translate(396.0 25.0) scale(0.9 1)" font-size="6.0" text-anchor="end" font-weight="normal" fill="#222" font-family='"Liberation Sans", sans-serif'>50</text>
<line x1="399.3" y1="139.5" x2="399.3" y2="141.5" stroke="#333" stroke-width="0.8" />
<text transform="translate(399.3 147.8) scale(0.9 1)" font-size="6.0" text-anchor="middle" font-weight="normal" fill="#222" font-family='"Liberation Sans", sans-serif'>0</text>
<line x1="420.8" y1="139.5" x2="420.8" y2="141.5" stroke="#333" stroke-width="0.8" />
<text transform="translate(420.8 147.8) scale(0.9 1)" font-size="6.0" text-anchor="middle" font-weight="normal" fill="#222" font-family='"Liberation Sans", sans-serif'>5</text>
<line x1="442.3" y1="139.5" x2="442.3" y2="141.5" stroke="#333" stroke-width="0.8" />
<text transform="translate(442.3 147.8) scale(0.9 1)" font-size="6.0" text-anchor="middle" font-weight="normal" fill="#222" font-family='"Liberation Sans", sans-serif'>10</text>
<line x1="463.8" y1="139.5" x2="463.8" y2="141.5" stroke="#333" stroke-width="0.8" />
<text transform="translate(463.8 147.8) scale(0.9 1)" font-size="6.0" text-anchor="middle" font-weight="normal" fill="#222" font-family='"Liberation Sans", sans-serif'>15</text>
<line x1="485.3" y1="139.5" x2="485.3" y2="141.5" stroke="#333" stroke-width="0.8" />
<text transform="translate(485.3 147.8) scale(0.9 1)" font-size="6.0" text-anchor="middle" font-weight="normal" fill="#222" font-family='"Liberation Sans", sans-serif'>20</text>
<line x1="506.8" y1="139.5" x2="506.8" y2="141.5" stroke="#333" stroke-width="0.8" />
<text transform="translate(506.8 147.8) scale(0.9 1)" font-size="6.0" text-anchor="middle" font-weight="normal" fill="#222" font-family='"Liberation Sans", sans-serif'>25</text>
<line x1="528.3" y1="139.5" x2="528.3" y2="141.5" stroke="#333" stroke-width="0.8" />
<text transform="translate(528.3 147.8) scale(0.9 1)" font-size="6.0" text-anchor="middle" font-weight="normal" fill="#222" font-family='"Liberation Sans", sans-serif'>30</text>
<text transform="translate(467.5 153.5) scale(0.95 1)" font-size="6.4" text-anchor="middle" font-weight="normal" fill="#222" font-family='"Liberation Sans", sans-serif'>Time (min)</text>
<text transform="translate(388.3 84) rotate(-90)" font-size="6.6" text-anchor="middle" fill="#222" font-family='"Liberation Sans", sans-serif'>Cumulative DOX release (%)</text>
<line x1="403.5" y1="28.1" x2="413.3" y2="28.1" stroke="#2323d6" stroke-width="1.1" />
<polygon points="408.4,26.5 409.8,29.3 407.0,29.3" fill="#2323d6" stroke="none" stroke-width="1" />
<text transform="translate(415.2 30.0) scale(0.84 1)" font-size="5.3" text-anchor="start" font-weight="normal" fill="#222" font-family='"Liberation Sans", sans-serif'>NPs(pH 5.0+NIR)</text>
<line x1="403.5" y1="34.4" x2="413.3" y2="34.4" stroke="#111111" stroke-width="1.1" />
<rect x="407.2" y="33.2" width="2.4" height="2.4" fill="#111111" stroke="none" stroke-width="1" />
<text transform="translate(415.2 36.3) scale(0.84 1)" font-size="5.3" text-anchor="start" font-weight="normal" fill="#222" font-family='"Liberation Sans", sans-serif'>PM-NPs(pH 5.0+NIR)</text>
<line x1="403.5" y1="40.6" x2="413.3" y2="40.6" stroke="#b9a9f2" stroke-width="1.1" />
<polygon points="408.4,38.9 409.8,40.6 408.4,42.3 407.0,40.6" fill="#b9a9f2" stroke="none" stroke-width="1" />
<text transform="translate(415.2 42.5) scale(0.84 1)" font-size="5.3" text-anchor="start" font-weight="normal" fill="#222" font-family='"Liberation Sans", sans-serif'>NPs(pH7.4+NIR)</text>
<line x1="403.5" y1="46.9" x2="413.3" y2="46.9" stroke="#7fb3e6" stroke-width="1.1" />
<polygon points="406.8,46.9 409.6,45.4 409.6,48.3" fill="#7fb3e6" stroke="none" stroke-width="1" />
<text transform="translate(415.2 48.8) scale(0.84 1)" font-size="5.3" text-anchor="start" font-weight="normal" fill="#222" font-family='"Liberation Sans", sans-serif'>PM-NPs(pH7.4+NIR)</text>
<line x1="403.5" y1="53.1" x2="413.3" y2="53.1" stroke="#5fbb3a" stroke-width="1.1" />
<polygon points="408.4,51.6 409.8,54.3 407.0,54.3" fill="#5fbb3a" stroke="none" stroke-width="1" />
<text transform="translate(415.2 55.0) scale(0.84 1)" font-size="5.3" text-anchor="start" font-weight="normal" fill="#222" font-family='"Liberation Sans", sans-serif'>NPs(pH 5.0)</text>
<line x1="403.5" y1="59.4" x2="413.3" y2="59.4" stroke="#5530d0" stroke-width="1.1" />
<circle cx="408.4" cy="59.4" r="1.2" fill="#5530d0" stroke="none" stroke-width="1" />
<text transform="translate(415.2 61.3) scale(0.84 1)" font-size="5.3" text-anchor="start" font-weight="normal" fill="#222" font-family='"Liberation Sans", sans-serif'>PM-NPs(pH 5.0)</text>
<line x1="403.5" y1="65.7" x2="413.3" y2="65.7" stroke="#4a2a1a" stroke-width="1.1" />
<polygon points="408.4,64.0 409.8,65.7 408.4,67.3 407.0,65.7" fill="#4a2a1a" stroke="none" stroke-width="1" />
<text transform="translate(415.2 67.6) scale(0.84 1)" font-size="5.3" text-anchor="start" font-weight="normal" fill="#222" font-family='"Liberation Sans", sans-serif'>NPs(pH7.4)</text>
<line x1="403.5" y1="71.9" x2="413.3" y2="71.9" stroke="#9a5a28" stroke-width="1.1" />
<circle cx="408.4" cy="71.9" r="1.2" fill="#9a5a28" stroke="none" stroke-width="1" />
<text transform="translate(415.2 73.8) scale(0.84 1)" font-size="5.3" text-anchor="start" font-weight="normal" fill="#222" font-family='"Liberation Sans", sans-serif'>PM-NPs(pH7.4)</text>
<text x="2.0" y="180.5" font-size="17.8" text-anchor="start" font-weight="normal" fill="#111" font-family='"Liberation Sans", sans-serif' stroke="#111" stroke-width="0.45">(d)</text>
<polyline points="41.8,314.2 42.8,308.0 43.8,297.9 45.7,292.0 49.7,281.9 57.5,276.6 65.4,275.5 89.0,273.7 136.2,271.6 183.4,268.0" fill="none" stroke="#9a5a28" stroke-width="1.2" stroke-linejoin="round" />
<line x1="42.8" y1="306.4" x2="42.8" y2="309.6" stroke="#9a5a28" stroke-width="0.7" />
<line x1="41.5" y1="306.4" x2="44.1" y2="306.4" stroke="#9a5a28" stroke-width="0.7" />
<line x1="41.5" y1="309.6" x2="44.1" y2="309.6" stroke="#9a5a28" stroke-width="0.7" />
<line x1="43.8" y1="296.3" x2="43.8" y2="299.5" stroke="#9a5a28" stroke-width="0.7" />
<line x1="42.5" y1="296.3" x2="45.1" y2="296.3" stroke="#9a5a28" stroke-width="0.7" />
<line x1="42.5" y1="299.5" x2="45.1" y2="299.5" stroke="#9a5a28" stroke-width="0.7" />
<line x1="45.7" y1="290.4" x2="45.7" y2="293.6" stroke="#9a5a28" stroke-width="0.7" />
<line x1="44.4" y1="290.4" x2="47.0" y2="290.4" stroke="#9a5a28" stroke-width="0.7" />
<line x1="44.4" y1="293.6" x2="47.0" y2="293.6" stroke="#9a5a28" stroke-width="0.7" />
<line x1="49.7" y1="279.5" x2="49.7" y2="284.3" stroke="#9a5a28" stroke-width="0.7" />
<line x1="48.4" y1="279.5" x2="51.0" y2="279.5" stroke="#9a5a28" stroke-width="0.7" />
<line x1="48.4" y1="284.3" x2="51.0" y2="284.3" stroke="#9a5a28" stroke-width="0.7" />
<line x1="57.5" y1="274.2" x2="57.5" y2="279.0" stroke="#9a5a28" stroke-width="0.7" />
<line x1="56.2" y1="274.2" x2="58.8" y2="274.2" stroke="#9a5a28" stroke-width="0.7" />
<line x1="56.2" y1="279.0" x2="58.8" y2="279.0" stroke="#9a5a28" stroke-width="0.7" />
<line x1="65.4" y1="273.1" x2="65.4" y2="277.9" stroke="#9a5a28" stroke-width="0.7" />
<line x1="64.1" y1="273.1" x2="66.7" y2="273.1" stroke="#9a5a28" stroke-width="0.7" />
<line x1="64.1" y1="277.9" x2="66.7" y2="277.9" stroke="#9a5a28" stroke-width="0.7" />
<line x1="89.0" y1="271.3" x2="89.0" y2="276.1" stroke="#9a5a28" stroke-width="0.7" />
<line x1="87.7" y1="271.3" x2="90.3" y2="271.3" stroke="#9a5a28" stroke-width="0.7" />
<line x1="87.7" y1="276.1" x2="90.3" y2="276.1" stroke="#9a5a28" stroke-width="0.7" />
<line x1="136.2" y1="268.4" x2="136.2" y2="274.8" stroke="#9a5a28" stroke-width="0.7" />
<line x1="134.9" y1="268.4" x2="137.5" y2="268.4" stroke="#9a5a28" stroke-width="0.7" />
<line x1="134.9" y1="274.8" x2="137.5" y2="274.8" stroke="#9a5a28" stroke-width="0.7" />
<line x1="183.4" y1="264.8" x2="183.4" y2="271.2" stroke="#9a5a28" stroke-width="0.7" />
<line x1="182.1" y1="264.8" x2="184.7" y2="264.8" stroke="#9a5a28" stroke-width="0.7" />
<line x1="182.1" y1="271.2" x2="184.7" y2="271.2" stroke="#9a5a28" stroke-width="0.7" />
<circle cx="41.8" cy="314.2" r="1.3" fill="#9a5a28" stroke="none" stroke-width="1" />
<circle cx="42.8" cy="308.0" r="1.3" fill="#9a5a28" stroke="none" stroke-width="1" />
<circle cx="43.8" cy="297.9" r="1.3" fill="#9a5a28" stroke="none" stroke-width="1" />
<circle cx="45.7" cy="292.0" r="1.3" fill="#9a5a28" stroke="none" stroke-width="1" />
<circle cx="49.7" cy="281.9" r="1.3" fill="#9a5a28" stroke="none" stroke-width="1" />
<circle cx="57.5" cy="276.6" r="1.3" fill="#9a5a28" stroke="none" stroke-width="1" />
<circle cx="65.4" cy="275.5" r="1.3" fill="#9a5a28" stroke="none" stroke-width="1" />
<circle cx="89.0" cy="273.7" r="1.3" fill="#9a5a28" stroke="none" stroke-width="1" />
<circle cx="136.2" cy="271.6" r="1.3" fill="#9a5a28" stroke="none" stroke-width="1" />
<circle cx="183.4" cy="268.0" r="1.3" fill="#9a5a28" stroke="none" stroke-width="1" />
<polyline points="41.8,314.2 42.8,305.1 43.8,296.6 45.7,290.5 49.7,280.6 57.5,274.5 65.4,273.7 89.0,270.2 136.2,266.7 183.4,263.8" fill="none" stroke="#4a2a1a" stroke-width="1.2" stroke-linejoin="round" />
<line x1="42.8" y1="303.5" x2="42.8" y2="306.7" stroke="#4a2a1a" stroke-width="0.7" />
<line x1="41.5" y1="303.5" x2="44.1" y2="303.5" stroke="#4a2a1a" stroke-width="0.7" />
<line x1="41.5" y1="306.7" x2="44.1" y2="306.7" stroke="#4a2a1a" stroke-width="0.7" />
<line x1="43.8" y1="295.0" x2="43.8" y2="298.2" stroke="#4a2a1a" stroke-width="0.7" />
<line x1="42.5" y1="295.0" x2="45.1" y2="295.0" stroke="#4a2a1a" stroke-width="0.7" />
<line x1="42.5" y1="298.2" x2="45.1" y2="298.2" stroke="#4a2a1a" stroke-width="0.7" />
<line x1="45.7" y1="288.9" x2="45.7" y2="292.1" stroke="#4a2a1a" stroke-width="0.7" />
<line x1="44.4" y1="288.9" x2="47.0" y2="288.9" stroke="#4a2a1a" stroke-width="0.7" />
<line x1="44.4" y1="292.1" x2="47.0" y2="292.1" stroke="#4a2a1a" stroke-width="0.7" />
<line x1="49.7" y1="278.2" x2="49.7" y2="283.0" stroke="#4a2a1a" stroke-width="0.7" />
<line x1="48.4" y1="278.2" x2="51.0" y2="278.2" stroke="#4a2a1a" stroke-width="0.7" />
<line x1="48.4" y1="283.0" x2="51.0" y2="283.0" stroke="#4a2a1a" stroke-width="0.7" />
<line x1="57.5" y1="272.1" x2="57.5" y2="276.9" stroke="#4a2a1a" stroke-width="0.7" />
<line x1="56.2" y1="272.1" x2="58.8" y2="272.1" stroke="#4a2a1a" stroke-width="0.7" />
<line x1="56.2" y1="276.9" x2="58.8" y2="276.9" stroke="#4a2a1a" stroke-width="0.7" />
<line x1="65.4" y1="271.3" x2="65.4" y2="276.1" stroke="#4a2a1a" stroke-width="0.7" />
<line x1="64.1" y1="271.3" x2="66.7" y2="271.3" stroke="#4a2a1a" stroke-width="0.7" />
<line x1="64.1" y1="276.1" x2="66.7" y2="276.1" stroke="#4a2a1a" stroke-width="0.7" />
<line x1="89.0" y1="267.8" x2="89.0" y2="272.6" stroke="#4a2a1a" stroke-width="0.7" />
<line x1="87.7" y1="267.8" x2="90.3" y2="267.8" stroke="#4a2a1a" stroke-width="0.7" />
<line x1="87.7" y1="272.6" x2="90.3" y2="272.6" stroke="#4a2a1a" stroke-width="0.7" />
<line x1="136.2" y1="263.5" x2="136.2" y2="269.9" stroke="#4a2a1a" stroke-width="0.7" />
<line x1="134.9" y1="263.5" x2="137.5" y2="263.5" stroke="#4a2a1a" stroke-width="0.7" />
<line x1="134.9" y1="269.9" x2="137.5" y2="269.9" stroke="#4a2a1a" stroke-width="0.7" />
<line x1="183.4" y1="260.6" x2="183.4" y2="267.0" stroke="#4a2a1a" stroke-width="0.7" />
<line x1="182.1" y1="260.6" x2="184.7" y2="260.6" stroke="#4a2a1a" stroke-width="0.7" />
<line x1="182.1" y1="267.0" x2="184.7" y2="267.0" stroke="#4a2a1a" stroke-width="0.7" />
<polygon points="41.8,312.4 43.4,314.2 41.8,316.0 40.2,314.2" fill="#4a2a1a" stroke="none" stroke-width="1" />
<polygon points="42.8,303.3 44.3,305.1 42.8,306.9 41.2,305.1" fill="#4a2a1a" stroke="none" stroke-width="1" />
<polygon points="43.8,294.8 45.3,296.6 43.8,298.4 42.2,296.6" fill="#4a2a1a" stroke="none" stroke-width="1" />
<polygon points="45.7,288.7 47.3,290.5 45.7,292.3 44.2,290.5" fill="#4a2a1a" stroke="none" stroke-width="1" />
<polygon points="49.7,278.8 51.2,280.6 49.7,282.4 48.1,280.6" fill="#4a2a1a" stroke="none" stroke-width="1" />
<polygon points="57.5,272.7 59.1,274.5 57.5,276.3 56.0,274.5" fill="#4a2a1a" stroke="none" stroke-width="1" />
<polygon points="65.4,271.9 67.0,273.7 65.4,275.5 63.8,273.7" fill="#4a2a1a" stroke="none" stroke-width="1" />
<polygon points="89.0,268.4 90.6,270.2 89.0,272.0 87.4,270.2" fill="#4a2a1a" stroke="none" stroke-width="1" />
<polygon points="136.2,264.9 137.8,266.7 136.2,268.5 134.7,266.7" fill="#4a2a1a" stroke="none" stroke-width="1" />
<polygon points="183.4,262.0 185.0,263.8 183.4,265.6 181.9,263.8" fill="#4a2a1a" stroke="none" stroke-width="1" />
<polyline points="41.8,314.2 42.8,273.1 43.8,264.6 45.7,260.0 49.7,256.3 57.5,254.5 65.4,253.4 89.0,250.7 136.2,248.6 183.4,246.4" fill="none" stroke="#5530d0" stroke-width="1.2" stroke-linejoin="round" />
<line x1="42.8" y1="269.9" x2="42.8" y2="276.3" stroke="#5530d0" stroke-width="0.7" />
<line x1="41.5" y1="269.9" x2="44.1" y2="269.9" stroke="#5530d0" stroke-width="0.7" />
<line x1="41.5" y1="276.3" x2="44.1" y2="276.3" stroke="#5530d0" stroke-width="0.7" />
<line x1="43.8" y1="261.4" x2="43.8" y2="267.8" stroke="#5530d0" stroke-width="0.7" />
<line x1="42.5" y1="261.4" x2="45.1" y2="261.4" stroke="#5530d0" stroke-width="0.7" />
<line x1="42.5" y1="267.8" x2="45.1" y2="267.8" stroke="#5530d0" stroke-width="0.7" />
<line x1="45.7" y1="256.8" x2="45.7" y2="263.2" stroke="#5530d0" stroke-width="0.7" />
<line x1="44.4" y1="256.8" x2="47.0" y2="256.8" stroke="#5530d0" stroke-width="0.7" />
<line x1="44.4" y1="263.2" x2="47.0" y2="263.2" stroke="#5530d0" stroke-width="0.7" />
<line x1="49.7" y1="253.1" x2="49.7" y2="259.5" stroke="#5530d0" stroke-width="0.7" />
<line x1="48.4" y1="253.1" x2="51.0" y2="253.1" stroke="#5530d0" stroke-width="0.7" />
<line x1="48.4" y1="259.5" x2="51.0" y2="259.5" stroke="#5530d0" stroke-width="0.7" />
<line x1="57.5" y1="251.3" x2="57.5" y2="257.7" stroke="#5530d0" stroke-width="0.7" />
<line x1="56.2" y1="251.3" x2="58.8" y2="251.3" stroke="#5530d0" stroke-width="0.7" />
<line x1="56.2" y1="257.7" x2="58.8" y2="257.7" stroke="#5530d0" stroke-width="0.7" />
<line x1="65.4" y1="250.2" x2="65.4" y2="256.6" stroke="#5530d0" stroke-width="0.7" />
<line x1="64.1" y1="250.2" x2="66.7" y2="250.2" stroke="#5530d0" stroke-width="0.7" />
<line x1="64.1" y1="256.6" x2="66.7" y2="256.6" stroke="#5530d0" stroke-width="0.7" />
<line x1="89.0" y1="247.5" x2="89.0" y2="253.9" stroke="#5530d0" stroke-width="0.7" />
<line x1="87.7" y1="247.5" x2="90.3" y2="247.5" stroke="#5530d0" stroke-width="0.7" />
<line x1="87.7" y1="253.9" x2="90.3" y2="253.9" stroke="#5530d0" stroke-width="0.7" />
<line x1="136.2" y1="245.4" x2="136.2" y2="251.8" stroke="#5530d0" stroke-width="0.7" />
<line x1="134.9" y1="245.4" x2="137.5" y2="245.4" stroke="#5530d0" stroke-width="0.7" />
<line x1="134.9" y1="251.8" x2="137.5" y2="251.8" stroke="#5530d0" stroke-width="0.7" />
<line x1="183.4" y1="243.2" x2="183.4" y2="249.6" stroke="#5530d0" stroke-width="0.7" />
<line x1="182.1" y1="243.2" x2="184.7" y2="243.2" stroke="#5530d0" stroke-width="0.7" />
<line x1="182.1" y1="249.6" x2="184.7" y2="249.6" stroke="#5530d0" stroke-width="0.7" />
<circle cx="41.8" cy="314.2" r="1.3" fill="#5530d0" stroke="none" stroke-width="1" />
<circle cx="42.8" cy="273.1" r="1.3" fill="#5530d0" stroke="none" stroke-width="1" />
<circle cx="43.8" cy="264.6" r="1.3" fill="#5530d0" stroke="none" stroke-width="1" />
<circle cx="45.7" cy="260.0" r="1.3" fill="#5530d0" stroke="none" stroke-width="1" />
<circle cx="49.7" cy="256.3" r="1.3" fill="#5530d0" stroke="none" stroke-width="1" />
<circle cx="57.5" cy="254.5" r="1.3" fill="#5530d0" stroke="none" stroke-width="1" />
<circle cx="65.4" cy="253.4" r="1.3" fill="#5530d0" stroke="none" stroke-width="1" />
<circle cx="89.0" cy="250.7" r="1.3" fill="#5530d0" stroke="none" stroke-width="1" />
<circle cx="136.2" cy="248.6" r="1.3" fill="#5530d0" stroke="none" stroke-width="1" />
<circle cx="183.4" cy="246.4" r="1.3" fill="#5530d0" stroke="none" stroke-width="1" />
<polyline points="41.8,314.2 42.8,279.0 43.8,267.3 45.7,261.4 49.7,258.2 57.5,255.0 65.4,252.8 89.0,249.9 136.2,247.0 183.4,244.6" fill="none" stroke="#5fbb3a" stroke-width="1.2" stroke-linejoin="round" />
<line x1="42.8" y1="275.8" x2="42.8" y2="282.2" stroke="#5fbb3a" stroke-width="0.7" />
<line x1="41.5" y1="275.8" x2="44.1" y2="275.8" stroke="#5fbb3a" stroke-width="0.7" />
<line x1="41.5" y1="282.2" x2="44.1" y2="282.2" stroke="#5fbb3a" stroke-width="0.7" />
<line x1="43.8" y1="264.1" x2="43.8" y2="270.5" stroke="#5fbb3a" stroke-width="0.7" />
<line x1="42.5" y1="264.1" x2="45.1" y2="264.1" stroke="#5fbb3a" stroke-width="0.7" />
<line x1="42.5" y1="270.5" x2="45.1" y2="270.5" stroke="#5fbb3a" stroke-width="0.7" />
<line x1="45.7" y1="258.2" x2="45.7" y2="264.6" stroke="#5fbb3a" stroke-width="0.7" />
<line x1="44.4" y1="258.2" x2="47.0" y2="258.2" stroke="#5fbb3a" stroke-width="0.7" />
<line x1="44.4" y1="264.6" x2="47.0" y2="264.6" stroke="#5fbb3a" stroke-width="0.7" />
<line x1="49.7" y1="255.0" x2="49.7" y2="261.4" stroke="#5fbb3a" stroke-width="0.7" />
<line x1="48.4" y1="255.0" x2="51.0" y2="255.0" stroke="#5fbb3a" stroke-width="0.7" />
<line x1="48.4" y1="261.4" x2="51.0" y2="261.4" stroke="#5fbb3a" stroke-width="0.7" />
<line x1="57.5" y1="251.8" x2="57.5" y2="258.2" stroke="#5fbb3a" stroke-width="0.7" />
<line x1="56.2" y1="251.8" x2="58.8" y2="251.8" stroke="#5fbb3a" stroke-width="0.7" />
<line x1="56.2" y1="258.2" x2="58.8" y2="258.2" stroke="#5fbb3a" stroke-width="0.7" />
<line x1="65.4" y1="249.6" x2="65.4" y2="256.0" stroke="#5fbb3a" stroke-width="0.7" />
<line x1="64.1" y1="249.6" x2="66.7" y2="249.6" stroke="#5fbb3a" stroke-width="0.7" />
<line x1="64.1" y1="256.0" x2="66.7" y2="256.0" stroke="#5fbb3a" stroke-width="0.7" />
<line x1="89.0" y1="246.7" x2="89.0" y2="253.1" stroke="#5fbb3a" stroke-width="0.7" />
<line x1="87.7" y1="246.7" x2="90.3" y2="246.7" stroke="#5fbb3a" stroke-width="0.7" />
<line x1="87.7" y1="253.1" x2="90.3" y2="253.1" stroke="#5fbb3a" stroke-width="0.7" />
<line x1="136.2" y1="243.8" x2="136.2" y2="250.2" stroke="#5fbb3a" stroke-width="0.7" />
<line x1="134.9" y1="243.8" x2="137.5" y2="243.8" stroke="#5fbb3a" stroke-width="0.7" />
<line x1="134.9" y1="250.2" x2="137.5" y2="250.2" stroke="#5fbb3a" stroke-width="0.7" />
<line x1="183.4" y1="241.4" x2="183.4" y2="247.8" stroke="#5fbb3a" stroke-width="0.7" />
<line x1="182.1" y1="241.4" x2="184.7" y2="241.4" stroke="#5fbb3a" stroke-width="0.7" />
<line x1="182.1" y1="247.8" x2="184.7" y2="247.8" stroke="#5fbb3a" stroke-width="0.7" />
<polygon points="41.8,312.5 43.4,315.5 40.2,315.5" fill="#5fbb3a" stroke="none" stroke-width="1" />
<polygon points="42.8,277.3 44.3,280.3 41.2,280.3" fill="#5fbb3a" stroke="none" stroke-width="1" />
<polygon points="43.8,265.6 45.3,268.6 42.2,268.6" fill="#5fbb3a" stroke="none" stroke-width="1" />
<polygon points="45.7,259.7 47.3,262.7 44.2,262.7" fill="#5fbb3a" stroke="none" stroke-width="1" />
<polygon points="49.7,256.5 51.2,259.5 48.1,259.5" fill="#5fbb3a" stroke="none" stroke-width="1" />
<polygon points="57.5,253.3 59.1,256.3 56.0,256.3" fill="#5fbb3a" stroke="none" stroke-width="1" />
<polygon points="65.4,251.1 67.0,254.1 63.8,254.1" fill="#5fbb3a" stroke="none" stroke-width="1" />
<polygon points="89.0,248.2 90.6,251.2 87.4,251.2" fill="#5fbb3a" stroke="none" stroke-width="1" />
<polygon points="136.2,245.3 137.8,248.3 134.7,248.3" fill="#5fbb3a" stroke="none" stroke-width="1" />
<polygon points="183.4,242.9 185.0,245.9 181.9,245.9" fill="#5fbb3a" stroke="none" stroke-width="1" />
<polyline points="41.8,314.2 42.8,273.1 43.8,260.0 45.7,254.2 49.7,249.9 57.5,247.0 65.4,245.4 89.0,241.1 136.2,237.6 183.4,234.7" fill="none" stroke="#7fb3e6" stroke-width="1.2" stroke-linejoin="round" />
<line x1="42.8" y1="269.9" x2="42.8" y2="276.3" stroke="#7fb3e6" stroke-width="0.7" />
<line x1="41.5" y1="269.9" x2="44.1" y2="269.9" stroke="#7fb3e6" stroke-width="0.7" />
<line x1="41.5" y1="276.3" x2="44.1" y2="276.3" stroke="#7fb3e6" stroke-width="0.7" />
<line x1="43.8" y1="256.8" x2="43.8" y2="263.2" stroke="#7fb3e6" stroke-width="0.7" />
<line x1="42.5" y1="256.8" x2="45.1" y2="256.8" stroke="#7fb3e6" stroke-width="0.7" />
<line x1="42.5" y1="263.2" x2="45.1" y2="263.2" stroke="#7fb3e6" stroke-width="0.7" />
<line x1="45.7" y1="251.0" x2="45.7" y2="257.4" stroke="#7fb3e6" stroke-width="0.7" />
<line x1="44.4" y1="251.0" x2="47.0" y2="251.0" stroke="#7fb3e6" stroke-width="0.7" />
<line x1="44.4" y1="257.4" x2="47.0" y2="257.4" stroke="#7fb3e6" stroke-width="0.7" />
<line x1="49.7" y1="246.7" x2="49.7" y2="253.1" stroke="#7fb3e6" stroke-width="0.7" />
<line x1="48.4" y1="246.7" x2="51.0" y2="246.7" stroke="#7fb3e6" stroke-width="0.7" />
<line x1="48.4" y1="253.1" x2="51.0" y2="253.1" stroke="#7fb3e6" stroke-width="0.7" />
<line x1="57.5" y1="243.8" x2="57.5" y2="250.2" stroke="#7fb3e6" stroke-width="0.7" />
<line x1="56.2" y1="243.8" x2="58.8" y2="243.8" stroke="#7fb3e6" stroke-width="0.7" />
<line x1="56.2" y1="250.2" x2="58.8" y2="250.2" stroke="#7fb3e6" stroke-width="0.7" />
<line x1="65.4" y1="242.2" x2="65.4" y2="248.6" stroke="#7fb3e6" stroke-width="0.7" />
<line x1="64.1" y1="242.2" x2="66.7" y2="242.2" stroke="#7fb3e6" stroke-width="0.7" />
<line x1="64.1" y1="248.6" x2="66.7" y2="248.6" stroke="#7fb3e6" stroke-width="0.7" />
<line x1="89.0" y1="237.9" x2="89.0" y2="244.3" stroke="#7fb3e6" stroke-width="0.7" />
<line x1="87.7" y1="237.9" x2="90.3" y2="237.9" stroke="#7fb3e6" stroke-width="0.7" />
<line x1="87.7" y1="244.3" x2="90.3" y2="244.3" stroke="#7fb3e6" stroke-width="0.7" />
<line x1="136.2" y1="234.4" x2="136.2" y2="240.8" stroke="#7fb3e6" stroke-width="0.7" />
<line x1="134.9" y1="234.4" x2="137.5" y2="234.4" stroke="#7fb3e6" stroke-width="0.7" />
<line x1="134.9" y1="240.8" x2="137.5" y2="240.8" stroke="#7fb3e6" stroke-width="0.7" />
<line x1="183.4" y1="231.5" x2="183.4" y2="237.9" stroke="#7fb3e6" stroke-width="0.7" />
<line x1="182.1" y1="231.5" x2="184.7" y2="231.5" stroke="#7fb3e6" stroke-width="0.7" />
<line x1="182.1" y1="237.9" x2="184.7" y2="237.9" stroke="#7fb3e6" stroke-width="0.7" />
<polygon points="40.1,314.2 43.1,312.6 43.1,315.8" fill="#7fb3e6" stroke="none" stroke-width="1" />
<polygon points="41.1,273.1 44.1,271.5 44.1,274.6" fill="#7fb3e6" stroke="none" stroke-width="1" />
<polygon points="42.1,260.0 45.1,258.4 45.1,261.5" fill="#7fb3e6" stroke="none" stroke-width="1" />
<polygon points="44.0,254.2 47.0,252.6 47.0,255.8" fill="#7fb3e6" stroke="none" stroke-width="1" />
<polygon points="48.0,249.9 51.0,248.3 51.0,251.4" fill="#7fb3e6" stroke="none" stroke-width="1" />
<polygon points="55.8,247.0 58.8,245.4 58.8,248.6" fill="#7fb3e6" stroke="none" stroke-width="1" />
<polygon points="63.7,245.4 66.7,243.8 66.7,247.0" fill="#7fb3e6" stroke="none" stroke-width="1" />
<polygon points="87.3,241.1 90.3,239.5 90.3,242.6" fill="#7fb3e6" stroke="none" stroke-width="1" />
<polygon points="134.5,237.6 137.5,236.0 137.5,239.1" fill="#7fb3e6" stroke="none" stroke-width="1" />
<polygon points="181.7,234.7 184.7,233.1 184.7,236.2" fill="#7fb3e6" stroke="none" stroke-width="1" />
<polyline points="41.8,314.2 42.8,267.0 43.8,255.6 45.7,249.9 49.7,246.4 57.5,244.1 65.4,241.7 89.0,238.2 136.2,234.2 183.4,231.0" fill="none" stroke="#c7a8ef" stroke-width="1.2" stroke-linejoin="round" />
<line x1="42.8" y1="263.8" x2="42.8" y2="270.2" stroke="#c7a8ef" stroke-width="0.7" />
<line x1="41.5" y1="263.8" x2="44.1" y2="263.8" stroke="#c7a8ef" stroke-width="0.7" />
<line x1="41.5" y1="270.2" x2="44.1" y2="270.2" stroke="#c7a8ef" stroke-width="0.7" />
<line x1="43.8" y1="252.4" x2="43.8" y2="258.8" stroke="#c7a8ef" stroke-width="0.7" />
<line x1="42.5" y1="252.4" x2="45.1" y2="252.4" stroke="#c7a8ef" stroke-width="0.7" />
<line x1="42.5" y1="258.8" x2="45.1" y2="258.8" stroke="#c7a8ef" stroke-width="0.7" />
<line x1="45.7" y1="246.7" x2="45.7" y2="253.1" stroke="#c7a8ef" stroke-width="0.7" />
<line x1="44.4" y1="246.7" x2="47.0" y2="246.7" stroke="#c7a8ef" stroke-width="0.7" />
<line x1="44.4" y1="253.1" x2="47.0" y2="253.1" stroke="#c7a8ef" stroke-width="0.7" />
<line x1="49.7" y1="243.2" x2="49.7" y2="249.6" stroke="#c7a8ef" stroke-width="0.7" />
<line x1="48.4" y1="243.2" x2="51.0" y2="243.2" stroke="#c7a8ef" stroke-width="0.7" />
<line x1="48.4" y1="249.6" x2="51.0" y2="249.6" stroke="#c7a8ef" stroke-width="0.7" />
<line x1="57.5" y1="240.9" x2="57.5" y2="247.3" stroke="#c7a8ef" stroke-width="0.7" />
<line x1="56.2" y1="240.9" x2="58.8" y2="240.9" stroke="#c7a8ef" stroke-width="0.7" />
<line x1="56.2" y1="247.3" x2="58.8" y2="247.3" stroke="#c7a8ef" stroke-width="0.7" />
<line x1="65.4" y1="238.5" x2="65.4" y2="244.9" stroke="#c7a8ef" stroke-width="0.7" />
<line x1="64.1" y1="238.5" x2="66.7" y2="238.5" stroke="#c7a8ef" stroke-width="0.7" />
<line x1="64.1" y1="244.9" x2="66.7" y2="244.9" stroke="#c7a8ef" stroke-width="0.7" />
<line x1="89.0" y1="235.0" x2="89.0" y2="241.4" stroke="#c7a8ef" stroke-width="0.7" />
<line x1="87.7" y1="235.0" x2="90.3" y2="235.0" stroke="#c7a8ef" stroke-width="0.7" />
<line x1="87.7" y1="241.4" x2="90.3" y2="241.4" stroke="#c7a8ef" stroke-width="0.7" />
<line x1="136.2" y1="231.0" x2="136.2" y2="237.4" stroke="#c7a8ef" stroke-width="0.7" />
<line x1="134.9" y1="231.0" x2="137.5" y2="231.0" stroke="#c7a8ef" stroke-width="0.7" />
<line x1="134.9" y1="237.4" x2="137.5" y2="237.4" stroke="#c7a8ef" stroke-width="0.7" />
<line x1="183.4" y1="227.8" x2="183.4" y2="234.2" stroke="#c7a8ef" stroke-width="0.7" />
<line x1="182.1" y1="227.8" x2="184.7" y2="227.8" stroke="#c7a8ef" stroke-width="0.7" />
<line x1="182.1" y1="234.2" x2="184.7" y2="234.2" stroke="#c7a8ef" stroke-width="0.7" />
<polygon points="41.8,312.4 43.4,314.2 41.8,316.0 40.2,314.2" fill="#c7a8ef" stroke="none" stroke-width="1" />
<polygon points="42.8,265.2 44.3,267.0 42.8,268.8 41.2,267.0" fill="#c7a8ef" stroke="none" stroke-width="1" />
<polygon points="43.8,253.8 45.3,255.6 43.8,257.5 42.2,255.6" fill="#c7a8ef" stroke="none" stroke-width="1" />
<polygon points="45.7,248.1 47.3,249.9 45.7,251.7 44.2,249.9" fill="#c7a8ef" stroke="none" stroke-width="1" />
<polygon points="49.7,244.5 51.2,246.4 49.7,248.2 48.1,246.4" fill="#c7a8ef" stroke="none" stroke-width="1" />
<polygon points="57.5,242.3 59.1,244.1 57.5,245.9 56.0,244.1" fill="#c7a8ef" stroke="none" stroke-width="1" />
<polygon points="65.4,239.9 67.0,241.7 65.4,243.5 63.8,241.7" fill="#c7a8ef" stroke="none" stroke-width="1" />
<polygon points="89.0,236.4 90.6,238.2 89.0,240.0 87.4,238.2" fill="#c7a8ef" stroke="none" stroke-width="1" />
<polygon points="136.2,232.4 137.8,234.2 136.2,236.0 134.7,234.2" fill="#c7a8ef" stroke="none" stroke-width="1" />
<polygon points="183.4,229.2 185.0,231.0 183.4,232.8 181.9,231.0" fill="#c7a8ef" stroke="none" stroke-width="1" />
<polyline points="41.8,314.2 42.8,250.2 43.8,238.0 45.7,234.2 49.7,231.0 57.5,225.1 65.4,223.6 89.0,219.3 136.2,212.0 183.4,208.9" fill="none" stroke="#111111" stroke-width="1.2" stroke-linejoin="round" />
<line x1="42.8" y1="247.0" x2="42.8" y2="253.4" stroke="#111111" stroke-width="0.7" />
<line x1="41.5" y1="247.0" x2="44.1" y2="247.0" stroke="#111111" stroke-width="0.7" />
<line x1="41.5" y1="253.4" x2="44.1" y2="253.4" stroke="#111111" stroke-width="0.7" />
<line x1="43.8" y1="234.8" x2="43.8" y2="241.2" stroke="#111111" stroke-width="0.7" />
<line x1="42.5" y1="234.8" x2="45.1" y2="234.8" stroke="#111111" stroke-width="0.7" />
<line x1="42.5" y1="241.2" x2="45.1" y2="241.2" stroke="#111111" stroke-width="0.7" />
<line x1="45.7" y1="231.0" x2="45.7" y2="237.4" stroke="#111111" stroke-width="0.7" />
<line x1="44.4" y1="231.0" x2="47.0" y2="231.0" stroke="#111111" stroke-width="0.7" />
<line x1="44.4" y1="237.4" x2="47.0" y2="237.4" stroke="#111111" stroke-width="0.7" />
<line x1="49.7" y1="226.2" x2="49.7" y2="235.8" stroke="#111111" stroke-width="0.7" />
<line x1="48.4" y1="226.2" x2="51.0" y2="226.2" stroke="#111111" stroke-width="0.7" />
<line x1="48.4" y1="235.8" x2="51.0" y2="235.8" stroke="#111111" stroke-width="0.7" />
<line x1="57.5" y1="221.9" x2="57.5" y2="228.3" stroke="#111111" stroke-width="0.7" />
<line x1="56.2" y1="221.9" x2="58.8" y2="221.9" stroke="#111111" stroke-width="0.7" />
<line x1="56.2" y1="228.3" x2="58.8" y2="228.3" stroke="#111111" stroke-width="0.7" />
<line x1="65.4" y1="220.4" x2="65.4" y2="226.8" stroke="#111111" stroke-width="0.7" />
<line x1="64.1" y1="220.4" x2="66.7" y2="220.4" stroke="#111111" stroke-width="0.7" />
<line x1="64.1" y1="226.8" x2="66.7" y2="226.8" stroke="#111111" stroke-width="0.7" />
<line x1="89.0" y1="216.1" x2="89.0" y2="222.5" stroke="#111111" stroke-width="0.7" />
<line x1="87.7" y1="216.1" x2="90.3" y2="216.1" stroke="#111111" stroke-width="0.7" />
<line x1="87.7" y1="222.5" x2="90.3" y2="222.5" stroke="#111111" stroke-width="0.7" />
<line x1="136.2" y1="208.8" x2="136.2" y2="215.2" stroke="#111111" stroke-width="0.7" />
<line x1="134.9" y1="208.8" x2="137.5" y2="208.8" stroke="#111111" stroke-width="0.7" />
<line x1="134.9" y1="215.2" x2="137.5" y2="215.2" stroke="#111111" stroke-width="0.7" />
<line x1="183.4" y1="205.7" x2="183.4" y2="212.1" stroke="#111111" stroke-width="0.7" />
<line x1="182.1" y1="205.7" x2="184.7" y2="205.7" stroke="#111111" stroke-width="0.7" />
<line x1="182.1" y1="212.1" x2="184.7" y2="212.1" stroke="#111111" stroke-width="0.7" />
<rect x="40.5" y="312.9" width="2.6" height="2.6" fill="#111111" stroke="none" stroke-width="1" />
<rect x="41.5" y="248.9" width="2.6" height="2.6" fill="#111111" stroke="none" stroke-width="1" />
<rect x="42.5" y="236.7" width="2.6" height="2.6" fill="#111111" stroke="none" stroke-width="1" />
<rect x="44.4" y="232.9" width="2.6" height="2.6" fill="#111111" stroke="none" stroke-width="1" />
<rect x="48.4" y="229.7" width="2.6" height="2.6" fill="#111111" stroke="none" stroke-width="1" />
<rect x="56.2" y="223.8" width="2.6" height="2.6" fill="#111111" stroke="none" stroke-width="1" />
<rect x="64.1" y="222.3" width="2.6" height="2.6" fill="#111111" stroke="none" stroke-width="1" />
<rect x="87.7" y="218.0" width="2.6" height="2.6" fill="#111111" stroke="none" stroke-width="1" />
<rect x="134.9" y="210.7" width="2.6" height="2.6" fill="#111111" stroke="none" stroke-width="1" />
<rect x="182.1" y="207.6" width="2.6" height="2.6" fill="#111111" stroke="none" stroke-width="1" />
<polyline points="41.8,314.2 42.8,247.0 43.8,236.8 45.7,232.6 49.7,226.2 57.5,223.0 65.4,220.8 89.0,215.0 136.2,208.6 183.4,206.2" fill="none" stroke="#2323d6" stroke-width="1.2" stroke-linejoin="round" />
<line x1="42.8" y1="243.8" x2="42.8" y2="250.2" stroke="#2323d6" stroke-width="0.7" />
<line x1="41.5" y1="243.8" x2="44.1" y2="243.8" stroke="#2323d6" stroke-width="0.7" />
<line x1="41.5" y1="250.2" x2="44.1" y2="250.2" stroke="#2323d6" stroke-width="0.7" />
<line x1="43.8" y1="233.6" x2="43.8" y2="240.0" stroke="#2323d6" stroke-width="0.7" />
<line x1="42.5" y1="233.6" x2="45.1" y2="233.6" stroke="#2323d6" stroke-width="0.7" />
<line x1="42.5" y1="240.0" x2="45.1" y2="240.0" stroke="#2323d6" stroke-width="0.7" />
<line x1="45.7" y1="229.4" x2="45.7" y2="235.8" stroke="#2323d6" stroke-width="0.7" />
<line x1="44.4" y1="229.4" x2="47.0" y2="229.4" stroke="#2323d6" stroke-width="0.7" />
<line x1="44.4" y1="235.8" x2="47.0" y2="235.8" stroke="#2323d6" stroke-width="0.7" />
<line x1="49.7" y1="221.4" x2="49.7" y2="231.0" stroke="#2323d6" stroke-width="0.7" />
<line x1="48.4" y1="221.4" x2="51.0" y2="221.4" stroke="#2323d6" stroke-width="0.7" />
<line x1="48.4" y1="231.0" x2="51.0" y2="231.0" stroke="#2323d6" stroke-width="0.7" />
<line x1="57.5" y1="219.8" x2="57.5" y2="226.2" stroke="#2323d6" stroke-width="0.7" />
<line x1="56.2" y1="219.8" x2="58.8" y2="219.8" stroke="#2323d6" stroke-width="0.7" />
<line x1="56.2" y1="226.2" x2="58.8" y2="226.2" stroke="#2323d6" stroke-width="0.7" />
<line x1="65.4" y1="217.6" x2="65.4" y2="224.0" stroke="#2323d6" stroke-width="0.7" />
<line x1="64.1" y1="217.6" x2="66.7" y2="217.6" stroke="#2323d6" stroke-width="0.7" />
<line x1="64.1" y1="224.0" x2="66.7" y2="224.0" stroke="#2323d6" stroke-width="0.7" />
<line x1="89.0" y1="210.2" x2="89.0" y2="219.8" stroke="#2323d6" stroke-width="0.7" />
<line x1="87.7" y1="210.2" x2="90.3" y2="210.2" stroke="#2323d6" stroke-width="0.7" />
<line x1="87.7" y1="219.8" x2="90.3" y2="219.8" stroke="#2323d6" stroke-width="0.7" />
<line x1="136.2" y1="205.4" x2="136.2" y2="211.8" stroke="#2323d6" stroke-width="0.7" />
<line x1="134.9" y1="205.4" x2="137.5" y2="205.4" stroke="#2323d6" stroke-width="0.7" />
<line x1="134.9" y1="211.8" x2="137.5" y2="211.8" stroke="#2323d6" stroke-width="0.7" />
<line x1="183.4" y1="203.0" x2="183.4" y2="209.4" stroke="#2323d6" stroke-width="0.7" />
<line x1="182.1" y1="203.0" x2="184.7" y2="203.0" stroke="#2323d6" stroke-width="0.7" />
<line x1="182.1" y1="209.4" x2="184.7" y2="209.4" stroke="#2323d6" stroke-width="0.7" />
<polygon points="41.8,312.5 43.4,315.5 40.2,315.5" fill="#2323d6" stroke="none" stroke-width="1" />
<polygon points="42.8,245.3 44.3,248.3 41.2,248.3" fill="#2323d6" stroke="none" stroke-width="1" />
<polygon points="43.8,235.1 45.3,238.1 42.2,238.1" fill="#2323d6" stroke="none" stroke-width="1" />
<polygon points="45.7,230.9 47.3,233.9 44.2,233.9" fill="#2323d6" stroke="none" stroke-width="1" />
<polygon points="49.7,224.5 51.2,227.5 48.1,227.5" fill="#2323d6" stroke="none" stroke-width="1" />
<polygon points="57.5,221.3 59.1,224.3 56.0,224.3" fill="#2323d6" stroke="none" stroke-width="1" />
<polygon points="65.4,219.1 67.0,222.1 63.8,222.1" fill="#2323d6" stroke="none" stroke-width="1" />
<polygon points="89.0,213.3 90.6,216.3 87.4,216.3" fill="#2323d6" stroke="none" stroke-width="1" />
<polygon points="136.2,206.9 137.8,209.9 134.7,209.9" fill="#2323d6" stroke="none" stroke-width="1" />
<polygon points="183.4,204.5 185.0,207.5 181.9,207.5" fill="#2323d6" stroke="none" stroke-width="1" />
<rect x="41.0" y="186.0" width="149.3" height="128.2" fill="none" stroke="#333" stroke-width="1.1" />
<line x1="39.0" y1="314.2" x2="41.0" y2="314.2" stroke="#333" stroke-width="0.8" />
<text transform="translate(38.0 316.4) scale(0.9 1)" font-size="6.3" text-anchor="end" font-weight="normal" fill="#222" font-family='"Liberation Sans", sans-serif'>0</text>
<line x1="39.0" y1="298.2" x2="41.0" y2="298.2" stroke="#333" stroke-width="0.8" />
<text transform="translate(38.0 300.4) scale(0.9 1)" font-size="6.3" text-anchor="end" font-weight="normal" fill="#222" font-family='"Liberation Sans", sans-serif'>10</text>
<line x1="39.0" y1="282.2" x2="41.0" y2="282.2" stroke="#333" stroke-width="0.8" />
<text transform="translate(38.0 284.4) scale(0.9 1)" font-size="6.3" text-anchor="end" font-weight="normal" fill="#222" font-family='"Liberation Sans", sans-serif'>20</text>
<line x1="39.0" y1="266.2" x2="41.0" y2="266.2" stroke="#333" stroke-width="0.8" />
<text transform="translate(38.0 268.4) scale(0.9 1)" font-size="6.3" text-anchor="end" font-weight="normal" fill="#222" font-family='"Liberation Sans", sans-serif'>30</text>
<line x1="39.0" y1="250.2" x2="41.0" y2="250.2" stroke="#333" stroke-width="0.8" />
<text transform="translate(38.0 252.4) scale(0.9 1)" font-size="6.3" text-anchor="end" font-weight="normal" fill="#222" font-family='"Liberation Sans", sans-serif'>40</text>
<line x1="39.0" y1="234.2" x2="41.0" y2="234.2" stroke="#333" stroke-width="0.8" />
<text transform="translate(38.0 236.4) scale(0.9 1)" font-size="6.3" text-anchor="end" font-weight="normal" fill="#222" font-family='"Liberation Sans", sans-serif'>50</text>
<line x1="39.0" y1="218.2" x2="41.0" y2="218.2" stroke="#333" stroke-width="0.8" />
<text transform="translate(38.0 220.4) scale(0.9 1)" font-size="6.3" text-anchor="end" font-weight="normal" fill="#222" font-family='"Liberation Sans", sans-serif'>60</text>
<line x1="39.0" y1="202.2" x2="41.0" y2="202.2" stroke="#333" stroke-width="0.8" />
<text transform="translate(38.0 204.4) scale(0.9 1)" font-size="6.3" text-anchor="end" font-weight="normal" fill="#222" font-family='"Liberation Sans", sans-serif'>70</text>
<line x1="39.0" y1="186.2" x2="41.0" y2="186.2" stroke="#333" stroke-width="0.8" />
<text transform="translate(38.0 188.4) scale(0.9 1)" font-size="6.3" text-anchor="end" font-weight="normal" fill="#222" font-family='"Liberation Sans", sans-serif'>80</text>
<line x1="41.8" y1="314.2" x2="41.8" y2="316.2" stroke="#333" stroke-width="0.8" />
<text transform="translate(41.8 323.9) scale(0.92 1)" font-size="6.6" text-anchor="middle" font-weight="normal" fill="#111" font-family='"Liberation Sans", sans-serif'>0</text>
<line x1="65.4" y1="314.2" x2="65.4" y2="316.2" stroke="#333" stroke-width="0.8" />
<text transform="translate(65.4 323.9) scale(0.92 1)" font-size="6.6" text-anchor="middle" font-weight="normal" fill="#111" font-family='"Liberation Sans", sans-serif'>12</text>
<line x1="89.0" y1="314.2" x2="89.0" y2="316.2" stroke="#333" stroke-width="0.8" />
<text transform="translate(89.0 323.9) scale(0.92 1)" font-size="6.6" text-anchor="middle" font-weight="normal" fill="#111" font-family='"Liberation Sans", sans-serif'>24</text>
<line x1="112.6" y1="314.2" x2="112.6" y2="316.2" stroke="#333" stroke-width="0.8" />
<text transform="translate(112.6 323.9) scale(0.92 1)" font-size="6.6" text-anchor="middle" font-weight="normal" fill="#111" font-family='"Liberation Sans", sans-serif'>36</text>
<line x1="136.2" y1="314.2" x2="136.2" y2="316.2" stroke="#333" stroke-width="0.8" />
<text transform="translate(136.2 323.9) scale(0.92 1)" font-size="6.6" text-anchor="middle" font-weight="normal" fill="#111" font-family='"Liberation Sans", sans-serif'>48</text>
<line x1="159.8" y1="314.2" x2="159.8" y2="316.2" stroke="#333" stroke-width="0.8" />
<text transform="translate(159.8 323.9) scale(0.92 1)" font-size="6.6" text-anchor="middle" font-weight="normal" fill="#111" font-family='"Liberation Sans", sans-serif'>60</text>
<line x1="183.4" y1="314.2" x2="183.4" y2="316.2" stroke="#333" stroke-width="0.8" />
<text transform="translate(183.4 323.9) scale(0.92 1)" font-size="6.6" text-anchor="middle" font-weight="normal" fill="#111" font-family='"Liberation Sans", sans-serif'>72</text>
<text transform="translate(116.3 330.8) scale(0.97 1)" font-size="7.0" text-anchor="middle" font-weight="normal" fill="#111" font-family='"Liberation Sans", sans-serif'>Time (h)</text>
<text transform="translate(29.5 252) rotate(-90)" font-size="7.0" text-anchor="middle" fill="#222" font-family='"Liberation Sans", sans-serif'>Cumulative DOX release (%)</text>
<line x1="72.7" y1="284.2" x2="84.0" y2="284.2" stroke="#2323d6" stroke-width="1.1" />
<polygon points="78.3,282.6 79.7,285.4 76.9,285.4" fill="#2323d6" stroke="none" stroke-width="1" />
<text transform="translate(85.0 286.1) scale(0.88 1)" font-size="5.6" text-anchor="start" font-weight="normal" fill="#222" font-family='"Liberation Sans", sans-serif'>NPs(pH 5.0+NIR)</text>
<line x1="72.7" y1="290.8" x2="84.0" y2="290.8" stroke="#111111" stroke-width="1.1" />
<rect x="77.1" y="289.6" width="2.4" height="2.4" fill="#111111" stroke="none" stroke-width="1" />
<text transform="translate(85.0 292.7) scale(0.88 1)" font-size="5.6" text-anchor="start" font-weight="normal" fill="#222" font-family='"Liberation Sans", sans-serif'>PM-NPs(pH 5.0+NIR)</text>
<line x1="72.7" y1="297.4" x2="84.0" y2="297.4" stroke="#c7a8ef" stroke-width="1.1" />
<polygon points="78.3,295.7 79.7,297.4 78.3,299.1 76.9,297.4" fill="#c7a8ef" stroke="none" stroke-width="1" />
<text transform="translate(85.0 299.3) scale(0.88 1)" font-size="5.6" text-anchor="start" font-weight="normal" fill="#222" font-family='"Liberation Sans", sans-serif'>NPs(pH 7.4+NIR)</text>
<line x1="72.7" y1="304.0" x2="84.0" y2="304.0" stroke="#7fb3e6" stroke-width="1.1" />
<polygon points="76.7,304.0 79.5,302.6 79.5,305.4" fill="#7fb3e6" stroke="none" stroke-width="1" />
<text transform="translate(85.0 305.9) scale(0.88 1)" font-size="5.6" text-anchor="start" font-weight="normal" fill="#222" font-family='"Liberation Sans", sans-serif'>PM-NPs(pH7.4+NIR)</text>
<line x1="133.8" y1="284.2" x2="145.1" y2="284.2" stroke="#5fbb3a" stroke-width="1.1" />
<polygon points="139.4,282.6 140.8,285.4 138.0,285.4" fill="#5fbb3a" stroke="none" stroke-width="1" />
<text transform="translate(146.1 286.1) scale(0.88 1)" font-size="5.6" text-anchor="start" font-weight="normal" fill="#222" font-family='"Liberation Sans", sans-serif'>NPs(pH 5.0)</text>
<line x1="133.8" y1="290.8" x2="145.1" y2="290.8" stroke="#5530d0" stroke-width="1.1" />
<circle cx="139.4" cy="290.8" r="1.2" fill="#5530d0" stroke="none" stroke-width="1" />
<text transform="translate(146.1 292.7) scale(0.88 1)" font-size="5.6" text-anchor="start" font-weight="normal" fill="#222" font-family='"Liberation Sans", sans-serif'>PM-NPs(pH 5.0)</text>
<line x1="133.8" y1="297.4" x2="145.1" y2="297.4" stroke="#4a2a1a" stroke-width="1.1" />
<polygon points="139.4,295.7 140.8,297.4 139.4,299.1 138.0,297.4" fill="#4a2a1a" stroke="none" stroke-width="1" />
<text transform="translate(146.1 299.3) scale(0.88 1)" font-size="5.6" text-anchor="start" font-weight="normal" fill="#222" font-family='"Liberation Sans", sans-serif'>NPs(pH7.4)</text>
<line x1="133.8" y1="304.0" x2="145.1" y2="304.0" stroke="#9a5a28" stroke-width="1.1" />
<circle cx="139.4" cy="304.0" r="1.2" fill="#9a5a28" stroke="none" stroke-width="1" />
<text transform="translate(146.1 305.9) scale(0.88 1)" font-size="5.6" text-anchor="start" font-weight="normal" fill="#222" font-family='"Liberation Sans", sans-serif'>PM-NPs(pH7.4)</text>
<text x="212.4" y="173.5" font-size="17.8" text-anchor="start" font-weight="normal" fill="#111" font-family='"Liberation Sans", sans-serif' stroke="#111" stroke-width="0.45">(e)</text>
<rect x="250.8" y="182.0" width="21.4" height="142.0" fill="url(#ruler)" stroke="none" stroke-width="1" />
<line x1="251.3" y1="182.0" x2="251.3" y2="324.0" stroke="#6a6a6a" stroke-width="1.0" />
<line x1="253.0" y1="183.0" x2="257.5" y2="183.0" stroke="#5a5a5a" stroke-width="0.5" />
<line x1="267.0" y1="183.0" x2="271.5" y2="183.0" stroke="#6a6a6a" stroke-width="0.5" />
<line x1="253.0" y1="185.3" x2="255.5" y2="185.3" stroke="#5a5a5a" stroke-width="0.5" />
<line x1="269.0" y1="185.3" x2="271.5" y2="185.3" stroke="#6a6a6a" stroke-width="0.5" />
<line x1="253.0" y1="187.7" x2="257.5" y2="187.7" stroke="#5a5a5a" stroke-width="0.5" />
<line x1="267.0" y1="187.7" x2="271.5" y2="187.7" stroke="#6a6a6a" stroke-width="0.5" />
<line x1="253.0" y1="190.1" x2="255.5" y2="190.1" stroke="#5a5a5a" stroke-width="0.5" />
<line x1="269.0" y1="190.1" x2="271.5" y2="190.1" stroke="#6a6a6a" stroke-width="0.5" />
<line x1="253.0" y1="192.4" x2="257.5" y2="192.4" stroke="#5a5a5a" stroke-width="0.5" />
<line x1="267.0" y1="192.4" x2="271.5" y2="192.4" stroke="#6a6a6a" stroke-width="0.5" />
<line x1="253.0" y1="194.8" x2="255.5" y2="194.8" stroke="#5a5a5a" stroke-width="0.5" />
<line x1="269.0" y1="194.8" x2="271.5" y2="194.8" stroke="#6a6a6a" stroke-width="0.5" />
<line x1="253.0" y1="197.1" x2="257.5" y2="197.1" stroke="#5a5a5a" stroke-width="0.5" />
<line x1="267.0" y1="197.1" x2="271.5" y2="197.1" stroke="#6a6a6a" stroke-width="0.5" />
<line x1="253.0" y1="199.4" x2="255.5" y2="199.4" stroke="#5a5a5a" stroke-width="0.5" />
<line x1="269.0" y1="199.4" x2="271.5" y2="199.4" stroke="#6a6a6a" stroke-width="0.5" />
<line x1="253.0" y1="201.8" x2="257.5" y2="201.8" stroke="#5a5a5a" stroke-width="0.5" />
<line x1="267.0" y1="201.8" x2="271.5" y2="201.8" stroke="#6a6a6a" stroke-width="0.5" />
<line x1="253.0" y1="204.2" x2="255.5" y2="204.2" stroke="#5a5a5a" stroke-width="0.5" />
<line x1="269.0" y1="204.2" x2="271.5" y2="204.2" stroke="#6a6a6a" stroke-width="0.5" />
<line x1="253.0" y1="206.5" x2="257.5" y2="206.5" stroke="#5a5a5a" stroke-width="0.5" />
<line x1="267.0" y1="206.5" x2="271.5" y2="206.5" stroke="#6a6a6a" stroke-width="0.5" />
<line x1="253.0" y1="208.8" x2="255.5" y2="208.8" stroke="#5a5a5a" stroke-width="0.5" />
<line x1="269.0" y1="208.8" x2="271.5" y2="208.8" stroke="#6a6a6a" stroke-width="0.5" />
<line x1="253.0" y1="211.2" x2="257.5" y2="211.2" stroke="#5a5a5a" stroke-width="0.5" />
<line x1="267.0" y1="211.2" x2="271.5" y2="211.2" stroke="#6a6a6a" stroke-width="0.5" />
<line x1="253.0" y1="213.6" x2="255.5" y2="213.6" stroke="#5a5a5a" stroke-width="0.5" />
<line x1="269.0" y1="213.6" x2="271.5" y2="213.6" stroke="#6a6a6a" stroke-width="0.5" />
<line x1="253.0" y1="215.9" x2="257.5" y2="215.9" stroke="#5a5a5a" stroke-width="0.5" />
<line x1="267.0" y1="215.9" x2="271.5" y2="215.9" stroke="#6a6a6a" stroke-width="0.5" />
<line x1="253.0" y1="218.2" x2="255.5" y2="218.2" stroke="#5a5a5a" stroke-width="0.5" />
<line x1="269.0" y1="218.2" x2="271.5" y2="218.2" stroke="#6a6a6a" stroke-width="0.5" />
<line x1="253.0" y1="220.6" x2="257.5" y2="220.6" stroke="#5a5a5a" stroke-width="0.5" />
<line x1="267.0" y1="220.6" x2="271.5" y2="220.6" stroke="#6a6a6a" stroke-width="0.5" />
<line x1="253.0" y1="222.9" x2="255.5" y2="222.9" stroke="#5a5a5a" stroke-width="0.5" />
<line x1="269.0" y1="222.9" x2="271.5" y2="222.9" stroke="#6a6a6a" stroke-width="0.5" />
<line x1="253.0" y1="225.3" x2="257.5" y2="225.3" stroke="#5a5a5a" stroke-width="0.5" />
<line x1="267.0" y1="225.3" x2="271.5" y2="225.3" stroke="#6a6a6a" stroke-width="0.5" />
<line x1="253.0" y1="227.7" x2="255.5" y2="227.7" stroke="#5a5a5a" stroke-width="0.5" />
<line x1="269.0" y1="227.7" x2="271.5" y2="227.7" stroke="#6a6a6a" stroke-width="0.5" />
<line x1="253.0" y1="230.0" x2="257.5" y2="230.0" stroke="#5a5a5a" stroke-width="0.5" />
<line x1="267.0" y1="230.0" x2="271.5" y2="230.0" stroke="#6a6a6a" stroke-width="0.5" />
<line x1="253.0" y1="232.3" x2="255.5" y2="232.3" stroke="#5a5a5a" stroke-width="0.5" />
<line x1="269.0" y1="232.3" x2="271.5" y2="232.3" stroke="#6a6a6a" stroke-width="0.5" />
<line x1="253.0" y1="234.7" x2="257.5" y2="234.7" stroke="#5a5a5a" stroke-width="0.5" />
<line x1="267.0" y1="234.7" x2="271.5" y2="234.7" stroke="#6a6a6a" stroke-width="0.5" />
<line x1="253.0" y1="237.1" x2="255.5" y2="237.1" stroke="#5a5a5a" stroke-width="0.5" />
<line x1="269.0" y1="237.1" x2="271.5" y2="237.1" stroke="#6a6a6a" stroke-width="0.5" />
<line x1="253.0" y1="239.4" x2="257.5" y2="239.4" stroke="#5a5a5a" stroke-width="0.5" />
<line x1="267.0" y1="239.4" x2="271.5" y2="239.4" stroke="#6a6a6a" stroke-width="0.5" />
<line x1="253.0" y1="241.8" x2="255.5" y2="241.8" stroke="#5a5a5a" stroke-width="0.5" />
<line x1="269.0" y1="241.8" x2="271.5" y2="241.8" stroke="#6a6a6a" stroke-width="0.5" />
<line x1="253.0" y1="244.1" x2="257.5" y2="244.1" stroke="#5a5a5a" stroke-width="0.5" />
<line x1="267.0" y1="244.1" x2="271.5" y2="244.1" stroke="#6a6a6a" stroke-width="0.5" />
<line x1="253.0" y1="246.4" x2="255.5" y2="246.4" stroke="#5a5a5a" stroke-width="0.5" />
<line x1="269.0" y1="246.4" x2="271.5" y2="246.4" stroke="#6a6a6a" stroke-width="0.5" />
<line x1="253.0" y1="248.8" x2="257.5" y2="248.8" stroke="#5a5a5a" stroke-width="0.5" />
<line x1="267.0" y1="248.8" x2="271.5" y2="248.8" stroke="#6a6a6a" stroke-width="0.5" />
<line x1="253.0" y1="251.2" x2="255.5" y2="251.2" stroke="#5a5a5a" stroke-width="0.5" />
<line x1="269.0" y1="251.2" x2="271.5" y2="251.2" stroke="#6a6a6a" stroke-width="0.5" />
<line x1="253.0" y1="253.5" x2="257.5" y2="253.5" stroke="#5a5a5a" stroke-width="0.5" />
<line x1="267.0" y1="253.5" x2="271.5" y2="253.5" stroke="#6a6a6a" stroke-width="0.5" />
<line x1="253.0" y1="255.9" x2="255.5" y2="255.9" stroke="#5a5a5a" stroke-width="0.5" />
<line x1="269.0" y1="255.9" x2="271.5" y2="255.9" stroke="#6a6a6a" stroke-width="0.5" />
<line x1="253.0" y1="258.2" x2="257.5" y2="258.2" stroke="#5a5a5a" stroke-width="0.5" />
<line x1="267.0" y1="258.2" x2="271.5" y2="258.2" stroke="#6a6a6a" stroke-width="0.5" />
<line x1="253.0" y1="260.6" x2="255.5" y2="260.6" stroke="#5a5a5a" stroke-width="0.5" />
<line x1="269.0" y1="260.6" x2="271.5" y2="260.6" stroke="#6a6a6a" stroke-width="0.5" />
<line x1="253.0" y1="262.9" x2="257.5" y2="262.9" stroke="#5a5a5a" stroke-width="0.5" />
<line x1="267.0" y1="262.9" x2="271.5" y2="262.9" stroke="#6a6a6a" stroke-width="0.5" />
<line x1="253.0" y1="265.2" x2="255.5" y2="265.2" stroke="#5a5a5a" stroke-width="0.5" />
<line x1="269.0" y1="265.2" x2="271.5" y2="265.2" stroke="#6a6a6a" stroke-width="0.5" />
<line x1="253.0" y1="267.6" x2="257.5" y2="267.6" stroke="#5a5a5a" stroke-width="0.5" />
<line x1="267.0" y1="267.6" x2="271.5" y2="267.6" stroke="#6a6a6a" stroke-width="0.5" />
<line x1="253.0" y1="269.9" x2="255.5" y2="269.9" stroke="#5a5a5a" stroke-width="0.5" />
<line x1="269.0" y1="269.9" x2="271.5" y2="269.9" stroke="#6a6a6a" stroke-width="0.5" />
<line x1="253.0" y1="272.3" x2="257.5" y2="272.3" stroke="#5a5a5a" stroke-width="0.5" />
<line x1="267.0" y1="272.3" x2="271.5" y2="272.3" stroke="#6a6a6a" stroke-width="0.5" />
<line x1="253.0" y1="274.6" x2="255.5" y2="274.6" stroke="#5a5a5a" stroke-width="0.5" />
<line x1="269.0" y1="274.6" x2="271.5" y2="274.6" stroke="#6a6a6a" stroke-width="0.5" />
<line x1="253.0" y1="277.0" x2="257.5" y2="277.0" stroke="#5a5a5a" stroke-width="0.5" />
<line x1="267.0" y1="277.0" x2="271.5" y2="277.0" stroke="#6a6a6a" stroke-width="0.5" />
<line x1="253.0" y1="279.4" x2="255.5" y2="279.4" stroke="#5a5a5a" stroke-width="0.5" />
<line x1="269.0" y1="279.4" x2="271.5" y2="279.4" stroke="#6a6a6a" stroke-width="0.5" />
<line x1="253.0" y1="281.7" x2="257.5" y2="281.7" stroke="#5a5a5a" stroke-width="0.5" />
<line x1="267.0" y1="281.7" x2="271.5" y2="281.7" stroke="#6a6a6a" stroke-width="0.5" />
<line x1="253.0" y1="284.1" x2="255.5" y2="284.1" stroke="#5a5a5a" stroke-width="0.5" />
<line x1="269.0" y1="284.1" x2="271.5" y2="284.1" stroke="#6a6a6a" stroke-width="0.5" />
<line x1="253.0" y1="286.4" x2="257.5" y2="286.4" stroke="#5a5a5a" stroke-width="0.5" />
<line x1="267.0" y1="286.4" x2="271.5" y2="286.4" stroke="#6a6a6a" stroke-width="0.5" />
<line x1="253.0" y1="288.8" x2="255.5" y2="288.8" stroke="#5a5a5a" stroke-width="0.5" />
<line x1="269.0" y1="288.8" x2="271.5" y2="288.8" stroke="#6a6a6a" stroke-width="0.5" />
<line x1="253.0" y1="291.1" x2="257.5" y2="291.1" stroke="#5a5a5a" stroke-width="0.5" />
<line x1="267.0" y1="291.1" x2="271.5" y2="291.1" stroke="#6a6a6a" stroke-width="0.5" />
<line x1="253.0" y1="293.4" x2="255.5" y2="293.4" stroke="#5a5a5a" stroke-width="0.5" />
<line x1="269.0" y1="293.4" x2="271.5" y2="293.4" stroke="#6a6a6a" stroke-width="0.5" />
<line x1="253.0" y1="295.8" x2="257.5" y2="295.8" stroke="#5a5a5a" stroke-width="0.5" />
<line x1="267.0" y1="295.8" x2="271.5" y2="295.8" stroke="#6a6a6a" stroke-width="0.5" />
<line x1="253.0" y1="298.1" x2="255.5" y2="298.1" stroke="#5a5a5a" stroke-width="0.5" />
<line x1="269.0" y1="298.1" x2="271.5" y2="298.1" stroke="#6a6a6a" stroke-width="0.5" />
<line x1="253.0" y1="300.5" x2="257.5" y2="300.5" stroke="#5a5a5a" stroke-width="0.5" />
<line x1="267.0" y1="300.5" x2="271.5" y2="300.5" stroke="#6a6a6a" stroke-width="0.5" />
<line x1="253.0" y1="302.9" x2="255.5" y2="302.9" stroke="#5a5a5a" stroke-width="0.5" />
<line x1="269.0" y1="302.9" x2="271.5" y2="302.9" stroke="#6a6a6a" stroke-width="0.5" />
<line x1="253.0" y1="305.2" x2="257.5" y2="305.2" stroke="#5a5a5a" stroke-width="0.5" />
<line x1="267.0" y1="305.2" x2="271.5" y2="305.2" stroke="#6a6a6a" stroke-width="0.5" />
<line x1="253.0" y1="307.6" x2="255.5" y2="307.6" stroke="#5a5a5a" stroke-width="0.5" />
<line x1="269.0" y1="307.6" x2="271.5" y2="307.6" stroke="#6a6a6a" stroke-width="0.5" />
<line x1="253.0" y1="309.9" x2="257.5" y2="309.9" stroke="#5a5a5a" stroke-width="0.5" />
<line x1="267.0" y1="309.9" x2="271.5" y2="309.9" stroke="#6a6a6a" stroke-width="0.5" />
<line x1="253.0" y1="312.2" x2="255.5" y2="312.2" stroke="#5a5a5a" stroke-width="0.5" />
<line x1="269.0" y1="312.2" x2="271.5" y2="312.2" stroke="#6a6a6a" stroke-width="0.5" />
<line x1="253.0" y1="314.6" x2="257.5" y2="314.6" stroke="#5a5a5a" stroke-width="0.5" />
<line x1="267.0" y1="314.6" x2="271.5" y2="314.6" stroke="#6a6a6a" stroke-width="0.5" />
<line x1="253.0" y1="317.0" x2="255.5" y2="317.0" stroke="#5a5a5a" stroke-width="0.5" />
<line x1="269.0" y1="317.0" x2="271.5" y2="317.0" stroke="#6a6a6a" stroke-width="0.5" />
<line x1="253.0" y1="319.3" x2="257.5" y2="319.3" stroke="#5a5a5a" stroke-width="0.5" />
<line x1="267.0" y1="319.3" x2="271.5" y2="319.3" stroke="#6a6a6a" stroke-width="0.5" />
<line x1="253.0" y1="321.6" x2="255.5" y2="321.6" stroke="#5a5a5a" stroke-width="0.5" />
<line x1="269.0" y1="321.6" x2="271.5" y2="321.6" stroke="#6a6a6a" stroke-width="0.5" />
<text transform="translate(262.3 186.0) rotate(90)" font-size="4.6" fill="#333" font-family='"Liberation Sans", sans-serif'>1</text>
<text transform="translate(262.3 196.0) rotate(90)" font-size="4.6" fill="#333" font-family='"Liberation Sans", sans-serif'>2</text>
<text transform="translate(262.3 206.0) rotate(90)" font-size="4.6" fill="#333" font-family='"Liberation Sans", sans-serif'>3</text>
<text transform="translate(262.3 216.0) rotate(90)" font-size="4.6" fill="#333" font-family='"Liberation Sans", sans-serif'>4</text>
<text transform="translate(262.3 226.0) rotate(90)" font-size="4.6" fill="#333" font-family='"Liberation Sans", sans-serif'>5</text>
<text transform="translate(262.3 236.0) rotate(90)" font-size="4.6" fill="#333" font-family='"Liberation Sans", sans-serif'>6</text>
<text transform="translate(262.3 246.0) rotate(90)" font-size="4.6" fill="#333" font-family='"Liberation Sans", sans-serif'>7</text>
<text transform="translate(262.3 256.0) rotate(90)" font-size="4.6" fill="#333" font-family='"Liberation Sans", sans-serif'>8</text>
<text transform="translate(262.3 266.0) rotate(90)" font-size="4.6" fill="#333" font-family='"Liberation Sans", sans-serif'>9</text>
<text transform="translate(262.3 276.0) rotate(90)" font-size="4.6" fill="#333" font-family='"Liberation Sans", sans-serif'>10</text>
<text transform="translate(262.3 286.0) rotate(90)" font-size="4.6" fill="#333" font-family='"Liberation Sans", sans-serif'>11</text>
<text transform="translate(262.3 296.0) rotate(90)" font-size="4.6" fill="#333" font-family='"Liberation Sans", sans-serif'>12</text>
<text transform="translate(262.3 306.0) rotate(90)" font-size="4.6" fill="#333" font-family='"Liberation Sans", sans-serif'>13</text>
<text transform="translate(262.3 316.0) rotate(90)" font-size="4.6" fill="#333" font-family='"Liberation Sans", sans-serif'>14</text>
<rect x="272.2" y="182.0" width="38.5" height="142.0" fill="#3d91c6" stroke="none" stroke-width="1" />
<rect x="272.2" y="320.0" width="38.5" height="3.6" fill="#6a72b4" stroke="none" stroke-width="1" />
<rect x="272.2" y="182.0" width="38.5" height="1.6" fill="#8f90c8" stroke="none" stroke-width="1" />
<rect x="271.6" y="187.5" width="28.0" height="22.0" fill="#8a6cc0" stroke="none" stroke-width="1" opacity="0.35"/>
<rect x="273.0" y="214.4" width="24.0" height="18.0" fill="#8a6cc0" stroke="none" stroke-width="1" opacity="0.35"/>
<rect x="273.5" y="238.0" width="22.0" height="17.0" fill="#8a6cc0" stroke="none" stroke-width="1" opacity="0.35"/>
<rect x="273.5" y="262.9" width="22.0" height="17.0" fill="#8a6cc0" stroke="none" stroke-width="1" opacity="0.35"/>
<ellipse cx="285.6" cy="198.6" rx="12.0" ry="9.4" fill="#c6cea6" stroke="#98bc7c" stroke-width="1.1" filter="url(#bl05)"/>
<ellipse cx="288.2" cy="198.6" rx="7.2" ry="7.5" fill="#e2a4a4" filter="url(#bl1)"/>
<ellipse cx="279.6" cy="200.0" rx="3.4" ry="4.2" fill="#e6e8d4" filter="url(#bl05)"/>
<ellipse cx="289.2" cy="195.8" rx="2.4" ry="2.1" fill="#f0d0cc" filter="url(#bl05)"/>
<ellipse cx="285.2" cy="223.1" rx="9.2" ry="7.6" fill="#c6cea6" stroke="#98bc7c" stroke-width="1.1" filter="url(#bl05)"/>
<ellipse cx="287.2" cy="223.1" rx="5.5" ry="6.1" fill="#d0928a" filter="url(#bl1)"/>
<ellipse cx="280.6" cy="224.2" rx="2.6" ry="3.4" fill="#e6e8d4" filter="url(#bl05)"/>
<ellipse cx="288.0" cy="220.8" rx="1.8" ry="1.7" fill="#f0d0cc" filter="url(#bl05)"/>
<ellipse cx="285" cy="246.8" rx="8.6" ry="7.0" fill="#c6cea6" stroke="#98bc7c" stroke-width="1.1" filter="url(#bl05)"/>
<ellipse cx="286.9" cy="246.8" rx="5.2" ry="5.6" fill="#d0928a" filter="url(#bl1)"/>
<ellipse cx="280.7" cy="247.9" rx="2.4" ry="3.1" fill="#e6e8d4" filter="url(#bl05)"/>
<ellipse cx="287.6" cy="244.7" rx="1.7" ry="1.5" fill="#f0d0cc" filter="url(#bl05)"/>
<ellipse cx="284.5" cy="271.3" rx="8.6" ry="7.4" fill="#c6cea6" stroke="#98bc7c" stroke-width="1.1" filter="url(#bl05)"/>
<ellipse cx="286.4" cy="271.3" rx="5.2" ry="5.9" fill="#d0928a" filter="url(#bl1)"/>
<ellipse cx="280.2" cy="272.4" rx="2.4" ry="3.3" fill="#e6e8d4" filter="url(#bl05)"/>
<ellipse cx="287.1" cy="269.1" rx="1.7" ry="1.6" fill="#f0d0cc" filter="url(#bl05)"/>
<ellipse cx="283.6" cy="291.9" rx="4.3" ry="4.7" fill="#c6cea6" stroke="#98bc7c" stroke-width="1.1" filter="url(#bl05)"/>
<ellipse cx="284.5" cy="291.9" rx="2.6" ry="3.8" fill="#e0b0b0" filter="url(#bl1)"/>
<ellipse cx="281.5" cy="292.6" rx="1.2" ry="2.1" fill="#e6e8d4" filter="url(#bl05)"/>
<ellipse cx="284.9" cy="290.5" rx="0.9" ry="1.0" fill="#f0d0cc" filter="url(#bl05)"/>
<circle cx="283.5" cy="311.7" r="3.4" fill="none" stroke="#10203a" stroke-width="1.1" stroke-dasharray="1.6 1"/>
<text transform="translate(302.2 194.3) rotate(90)" font-size="8" font-weight="bold" fill="#10203a" font-family='"Liberation Sans", sans-serif'>1</text>
<text transform="translate(302.2 221.0) rotate(90)" font-size="8" font-weight="bold" fill="#10203a" font-family='"Liberation Sans", sans-serif'>2</text>
<text transform="translate(302.2 243.7) rotate(90)" font-size="8" font-weight="bold" fill="#10203a" font-family='"Liberation Sans", sans-serif'>3</text>
<text transform="translate(302.2 267.7) rotate(90)" font-size="8" font-weight="bold" fill="#10203a" font-family='"Liberation Sans", sans-serif'>4</text>
<text transform="translate(302.2 288.8) rotate(90)" font-size="8" font-weight="bold" fill="#10203a" font-family='"Liberation Sans", sans-serif'>5</text>
<text transform="translate(302.2 309.2) rotate(90)" font-size="8" font-weight="bold" fill="#10203a" font-family='"Liberation Sans", sans-serif'>6</text>
<text x="322.3" y="174.8" font-size="17.8" text-anchor="start" font-weight="normal" fill="#111" font-family='"Liberation Sans", sans-serif' stroke="#111" stroke-width="0.45">(f)</text>
<polyline points="375.9,289.5 391.2,295.1 406.5,295.1 421.7,295.1 437.0,295.1 452.3,295.1 467.6,295.1 482.9,295.1 498.1,295.1 513.4,295.1" fill="none" stroke="#3838d8" stroke-width="1.15" stroke-linejoin="round" />
<line x1="375.9" y1="287.2" x2="375.9" y2="291.7" stroke="#3838d8" stroke-width="0.7" />
<line x1="374.3" y1="287.2" x2="377.5" y2="287.2" stroke="#3838d8" stroke-width="0.7" />
<line x1="374.3" y1="291.7" x2="377.5" y2="291.7" stroke="#3838d8" stroke-width="0.7" />
<polygon points="375.9,287.0 378.2,291.4 373.6,291.4" fill="#3838d8" stroke="none" stroke-width="1" />
<polygon points="391.2,292.6 393.5,297.0 388.9,297.0" fill="#3838d8" stroke="none" stroke-width="1" />
<polygon points="406.5,292.6 408.7,297.0 404.2,297.0" fill="#3838d8" stroke="none" stroke-width="1" />
<polygon points="421.7,292.6 424.0,297.0 419.5,297.0" fill="#3838d8" stroke="none" stroke-width="1" />
<polygon points="437.0,292.6 439.3,297.0 434.7,297.0" fill="#3838d8" stroke="none" stroke-width="1" />
<polygon points="452.3,292.6 454.6,297.0 450.0,297.0" fill="#3838d8" stroke="none" stroke-width="1" />
<polygon points="467.6,292.6 469.9,297.0 465.3,297.0" fill="#3838d8" stroke="none" stroke-width="1" />
<polygon points="482.9,292.6 485.1,297.0 480.6,297.0" fill="#3838d8" stroke="none" stroke-width="1" />
<polygon points="498.1,292.6 500.4,297.0 495.9,297.0" fill="#3838d8" stroke="none" stroke-width="1" />
<polygon points="513.4,292.6 515.7,297.0 511.1,297.0" fill="#3838d8" stroke="none" stroke-width="1" />
<polyline points="375.9,289.5 391.2,295.1 406.5,295.1 421.7,295.1 437.0,295.1 452.3,295.1 467.6,295.1 482.9,295.1 498.1,288.5 513.4,271.0" fill="none" stroke="#3a9a78" stroke-width="1.15" stroke-linejoin="round" />
<line x1="375.9" y1="287.2" x2="375.9" y2="291.7" stroke="#3a9a78" stroke-width="0.7" />
<line x1="374.3" y1="287.2" x2="377.5" y2="287.2" stroke="#3a9a78" stroke-width="0.7" />
<line x1="374.3" y1="291.7" x2="377.5" y2="291.7" stroke="#3a9a78" stroke-width="0.7" />
<line x1="498.1" y1="281.2" x2="498.1" y2="295.8" stroke="#3a9a78" stroke-width="0.7" />
<line x1="496.5" y1="281.2" x2="499.7" y2="281.2" stroke="#3a9a78" stroke-width="0.7" />
<line x1="496.5" y1="295.8" x2="499.7" y2="295.8" stroke="#3a9a78" stroke-width="0.7" />
<line x1="513.4" y1="257.0" x2="513.4" y2="285.1" stroke="#3a9a78" stroke-width="0.7" />
<line x1="511.8" y1="257.0" x2="515.0" y2="257.0" stroke="#3a9a78" stroke-width="0.7" />
<line x1="511.8" y1="285.1" x2="515.0" y2="285.1" stroke="#3a9a78" stroke-width="0.7" />
<polygon points="375.9,291.9 378.2,287.6 373.6,287.6" fill="#3a9a78" stroke="none" stroke-width="1" />
<polygon points="391.2,297.6 393.5,293.2 388.9,293.2" fill="#3a9a78" stroke="none" stroke-width="1" />
<polygon points="406.5,297.6 408.7,293.2 404.2,293.2" fill="#3a9a78" stroke="none" stroke-width="1" />
<polygon points="421.7,297.6 424.0,293.2 419.5,293.2" fill="#3a9a78" stroke="none" stroke-width="1" />
<polygon points="437.0,297.6 439.3,293.2 434.7,293.2" fill="#3a9a78" stroke="none" stroke-width="1" />
<polygon points="452.3,297.6 454.6,293.2 450.0,293.2" fill="#3a9a78" stroke="none" stroke-width="1" />
<polygon points="467.6,297.6 469.9,293.2 465.3,293.2" fill="#3a9a78" stroke="none" stroke-width="1" />
<polygon points="482.9,297.6 485.1,293.2 480.6,293.2" fill="#3a9a78" stroke="none" stroke-width="1" />
<polygon points="498.1,291.0 500.4,286.6 495.9,286.6" fill="#3a9a78" stroke="none" stroke-width="1" />
<polygon points="513.4,273.5 515.7,269.1 511.1,269.1" fill="#3a9a78" stroke="none" stroke-width="1" />
<polyline points="375.9,290.6 391.2,291.2 406.5,291.4 421.7,291.2 437.0,290.3 452.3,290.0 467.6,283.3 482.9,273.3 498.1,260.8 513.4,244.4" fill="none" stroke="#c8b22a" stroke-width="1.15" stroke-linejoin="round" />
<line x1="375.9" y1="288.3" x2="375.9" y2="292.8" stroke="#c8b22a" stroke-width="0.7" />
<line x1="374.3" y1="288.3" x2="377.5" y2="288.3" stroke="#c8b22a" stroke-width="0.7" />
<line x1="374.3" y1="292.8" x2="377.5" y2="292.8" stroke="#c8b22a" stroke-width="0.7" />
<line x1="391.2" y1="289.5" x2="391.2" y2="292.8" stroke="#c8b22a" stroke-width="0.7" />
<line x1="389.6" y1="289.5" x2="392.8" y2="289.5" stroke="#c8b22a" stroke-width="0.7" />
<line x1="389.6" y1="292.8" x2="392.8" y2="292.8" stroke="#c8b22a" stroke-width="0.7" />
<line x1="406.5" y1="289.7" x2="406.5" y2="293.1" stroke="#c8b22a" stroke-width="0.7" />
<line x1="404.9" y1="289.7" x2="408.1" y2="289.7" stroke="#c8b22a" stroke-width="0.7" />
<line x1="404.9" y1="293.1" x2="408.1" y2="293.1" stroke="#c8b22a" stroke-width="0.7" />
<line x1="421.7" y1="289.5" x2="421.7" y2="292.8" stroke="#c8b22a" stroke-width="0.7" />
<line x1="420.1" y1="289.5" x2="423.3" y2="289.5" stroke="#c8b22a" stroke-width="0.7" />
<line x1="420.1" y1="292.8" x2="423.3" y2="292.8" stroke="#c8b22a" stroke-width="0.7" />
<line x1="437.0" y1="288.6" x2="437.0" y2="292.0" stroke="#c8b22a" stroke-width="0.7" />
<line x1="435.4" y1="288.6" x2="438.6" y2="288.6" stroke="#c8b22a" stroke-width="0.7" />
<line x1="435.4" y1="292.0" x2="438.6" y2="292.0" stroke="#c8b22a" stroke-width="0.7" />
<line x1="452.3" y1="288.3" x2="452.3" y2="291.7" stroke="#c8b22a" stroke-width="0.7" />
<line x1="450.7" y1="288.3" x2="453.9" y2="288.3" stroke="#c8b22a" stroke-width="0.7" />
<line x1="450.7" y1="291.7" x2="453.9" y2="291.7" stroke="#c8b22a" stroke-width="0.7" />
<line x1="467.6" y1="281.6" x2="467.6" y2="285.0" stroke="#c8b22a" stroke-width="0.7" />
<line x1="466.0" y1="281.6" x2="469.2" y2="281.6" stroke="#c8b22a" stroke-width="0.7" />
<line x1="466.0" y1="285.0" x2="469.2" y2="285.0" stroke="#c8b22a" stroke-width="0.7" />
<line x1="482.9" y1="268.3" x2="482.9" y2="278.4" stroke="#c8b22a" stroke-width="0.7" />
<line x1="481.3" y1="268.3" x2="484.5" y2="268.3" stroke="#c8b22a" stroke-width="0.7" />
<line x1="481.3" y1="278.4" x2="484.5" y2="278.4" stroke="#c8b22a" stroke-width="0.7" />
<line x1="498.1" y1="253.5" x2="498.1" y2="268.2" stroke="#c8b22a" stroke-width="0.7" />
<line x1="496.5" y1="253.5" x2="499.7" y2="253.5" stroke="#c8b22a" stroke-width="0.7" />
<line x1="496.5" y1="268.2" x2="499.7" y2="268.2" stroke="#c8b22a" stroke-width="0.7" />
<line x1="513.4" y1="235.9" x2="513.4" y2="252.8" stroke="#c8b22a" stroke-width="0.7" />
<line x1="511.8" y1="235.9" x2="515.0" y2="235.9" stroke="#c8b22a" stroke-width="0.7" />
<line x1="511.8" y1="252.8" x2="515.0" y2="252.8" stroke="#c8b22a" stroke-width="0.7" />
<polygon points="375.9,287.9 378.2,290.6 375.9,293.3 373.6,290.6" fill="#c8b22a" stroke="none" stroke-width="1" />
<polygon points="391.2,288.5 393.5,291.2 391.2,293.8 388.9,291.2" fill="#c8b22a" stroke="none" stroke-width="1" />
<polygon points="406.5,288.8 408.7,291.4 406.5,294.1 404.2,291.4" fill="#c8b22a" stroke="none" stroke-width="1" />
<polygon points="421.7,288.5 424.0,291.2 421.7,293.8 419.5,291.2" fill="#c8b22a" stroke="none" stroke-width="1" />
<polygon points="437.0,287.7 439.3,290.3 437.0,293.0 434.7,290.3" fill="#c8b22a" stroke="none" stroke-width="1" />
<polygon points="452.3,287.4 454.6,290.0 452.3,292.7 450.0,290.0" fill="#c8b22a" stroke="none" stroke-width="1" />
<polygon points="467.6,280.6 469.9,283.3 467.6,285.9 465.3,283.3" fill="#c8b22a" stroke="none" stroke-width="1" />
<polygon points="482.9,270.7 485.1,273.3 482.9,276.0 480.6,273.3" fill="#c8b22a" stroke="none" stroke-width="1" />
<polygon points="498.1,258.2 500.4,260.8 498.1,263.5 495.9,260.8" fill="#c8b22a" stroke="none" stroke-width="1" />
<polygon points="513.4,241.7 515.7,244.4 513.4,247.0 511.1,244.4" fill="#c8b22a" stroke="none" stroke-width="1" />
<polyline points="375.9,289.5 391.2,289.5 406.5,289.5 421.7,287.0 437.0,283.3 452.3,278.8 467.6,271.4 482.9,262.0 498.1,250.0 513.4,236.8" fill="none" stroke="#333333" stroke-width="1.15" stroke-linejoin="round" />
<line x1="375.9" y1="287.2" x2="375.9" y2="291.7" stroke="#333333" stroke-width="0.7" />
<line x1="374.3" y1="287.2" x2="377.5" y2="287.2" stroke="#333333" stroke-width="0.7" />
<line x1="374.3" y1="291.7" x2="377.5" y2="291.7" stroke="#333333" stroke-width="0.7" />
<line x1="391.2" y1="287.2" x2="391.2" y2="291.7" stroke="#333333" stroke-width="0.7" />
<line x1="389.6" y1="287.2" x2="392.8" y2="287.2" stroke="#333333" stroke-width="0.7" />
<line x1="389.6" y1="291.7" x2="392.8" y2="291.7" stroke="#333333" stroke-width="0.7" />
<line x1="406.5" y1="287.2" x2="406.5" y2="291.7" stroke="#333333" stroke-width="0.7" />
<line x1="404.9" y1="287.2" x2="408.1" y2="287.2" stroke="#333333" stroke-width="0.7" />
<line x1="404.9" y1="291.7" x2="408.1" y2="291.7" stroke="#333333" stroke-width="0.7" />
<line x1="421.7" y1="282.5" x2="421.7" y2="291.5" stroke="#333333" stroke-width="0.7" />
<line x1="420.1" y1="282.5" x2="423.3" y2="282.5" stroke="#333333" stroke-width="0.7" />
<line x1="420.1" y1="291.5" x2="423.3" y2="291.5" stroke="#333333" stroke-width="0.7" />
<line x1="437.0" y1="277.6" x2="437.0" y2="288.9" stroke="#333333" stroke-width="0.7" />
<line x1="435.4" y1="277.6" x2="438.6" y2="277.6" stroke="#333333" stroke-width="0.7" />
<line x1="435.4" y1="288.9" x2="438.6" y2="288.9" stroke="#333333" stroke-width="0.7" />
<line x1="452.3" y1="271.4" x2="452.3" y2="286.1" stroke="#333333" stroke-width="0.7" />
<line x1="450.7" y1="271.4" x2="453.9" y2="271.4" stroke="#333333" stroke-width="0.7" />
<line x1="450.7" y1="286.1" x2="453.9" y2="286.1" stroke="#333333" stroke-width="0.7" />
<line x1="467.6" y1="264.1" x2="467.6" y2="278.8" stroke="#333333" stroke-width="0.7" />
<line x1="466.0" y1="264.1" x2="469.2" y2="264.1" stroke="#333333" stroke-width="0.7" />
<line x1="466.0" y1="278.8" x2="469.2" y2="278.8" stroke="#333333" stroke-width="0.7" />
<line x1="482.9" y1="252.4" x2="482.9" y2="271.5" stroke="#333333" stroke-width="0.7" />
<line x1="481.3" y1="252.4" x2="484.5" y2="252.4" stroke="#333333" stroke-width="0.7" />
<line x1="481.3" y1="271.5" x2="484.5" y2="271.5" stroke="#333333" stroke-width="0.7" />
<line x1="498.1" y1="240.4" x2="498.1" y2="259.6" stroke="#333333" stroke-width="0.7" />
<line x1="496.5" y1="240.4" x2="499.7" y2="240.4" stroke="#333333" stroke-width="0.7" />
<line x1="496.5" y1="259.6" x2="499.7" y2="259.6" stroke="#333333" stroke-width="0.7" />
<line x1="513.4" y1="226.1" x2="513.4" y2="247.5" stroke="#333333" stroke-width="0.7" />
<line x1="511.8" y1="226.1" x2="515.0" y2="226.1" stroke="#333333" stroke-width="0.7" />
<line x1="511.8" y1="247.5" x2="515.0" y2="247.5" stroke="#333333" stroke-width="0.7" />
<rect x="374.0" y="287.6" width="3.8" height="3.8" fill="#333333" stroke="none" stroke-width="1" />
<rect x="389.3" y="287.6" width="3.8" height="3.8" fill="#333333" stroke="none" stroke-width="1" />
<rect x="404.6" y="287.6" width="3.8" height="3.8" fill="#333333" stroke="none" stroke-width="1" />
<rect x="419.8" y="285.1" width="3.8" height="3.8" fill="#333333" stroke="none" stroke-width="1" />
<rect x="435.1" y="281.4" width="3.8" height="3.8" fill="#333333" stroke="none" stroke-width="1" />
<rect x="450.4" y="276.9" width="3.8" height="3.8" fill="#333333" stroke="none" stroke-width="1" />
<rect x="465.7" y="269.5" width="3.8" height="3.8" fill="#333333" stroke="none" stroke-width="1" />
<rect x="481.0" y="260.1" width="3.8" height="3.8" fill="#333333" stroke="none" stroke-width="1" />
<rect x="496.2" y="248.1" width="3.8" height="3.8" fill="#333333" stroke="none" stroke-width="1" />
<rect x="511.5" y="234.9" width="3.8" height="3.8" fill="#333333" stroke="none" stroke-width="1" />
<polyline points="375.9,290.0 391.2,289.0 406.5,287.0 421.7,283.3 437.0,277.5 452.3,268.7 467.6,258.0 482.9,244.0 498.1,228.0 513.4,209.0" fill="none" stroke="#a867ea" stroke-width="1.15" stroke-linejoin="round" />
<line x1="375.9" y1="287.8" x2="375.9" y2="292.3" stroke="#a867ea" stroke-width="0.7" />
<line x1="374.3" y1="287.8" x2="377.5" y2="287.8" stroke="#a867ea" stroke-width="0.7" />
<line x1="374.3" y1="292.3" x2="377.5" y2="292.3" stroke="#a867ea" stroke-width="0.7" />
<line x1="391.2" y1="286.8" x2="391.2" y2="291.3" stroke="#a867ea" stroke-width="0.7" />
<line x1="389.6" y1="286.8" x2="392.8" y2="286.8" stroke="#a867ea" stroke-width="0.7" />
<line x1="389.6" y1="291.3" x2="392.8" y2="291.3" stroke="#a867ea" stroke-width="0.7" />
<line x1="406.5" y1="284.2" x2="406.5" y2="289.9" stroke="#a867ea" stroke-width="0.7" />
<line x1="404.9" y1="284.2" x2="408.1" y2="284.2" stroke="#a867ea" stroke-width="0.7" />
<line x1="404.9" y1="289.9" x2="408.1" y2="289.9" stroke="#a867ea" stroke-width="0.7" />
<line x1="421.7" y1="278.8" x2="421.7" y2="287.8" stroke="#a867ea" stroke-width="0.7" />
<line x1="420.1" y1="278.8" x2="423.3" y2="278.8" stroke="#a867ea" stroke-width="0.7" />
<line x1="420.1" y1="287.8" x2="423.3" y2="287.8" stroke="#a867ea" stroke-width="0.7" />
<line x1="437.0" y1="271.9" x2="437.0" y2="283.2" stroke="#a867ea" stroke-width="0.7" />
<line x1="435.4" y1="271.9" x2="438.6" y2="271.9" stroke="#a867ea" stroke-width="0.7" />
<line x1="435.4" y1="283.2" x2="438.6" y2="283.2" stroke="#a867ea" stroke-width="0.7" />
<line x1="452.3" y1="261.4" x2="452.3" y2="276.1" stroke="#a867ea" stroke-width="0.7" />
<line x1="450.7" y1="261.4" x2="453.9" y2="261.4" stroke="#a867ea" stroke-width="0.7" />
<line x1="450.7" y1="276.1" x2="453.9" y2="276.1" stroke="#a867ea" stroke-width="0.7" />
<line x1="467.6" y1="250.7" x2="467.6" y2="265.3" stroke="#a867ea" stroke-width="0.7" />
<line x1="466.0" y1="250.7" x2="469.2" y2="250.7" stroke="#a867ea" stroke-width="0.7" />
<line x1="466.0" y1="265.3" x2="469.2" y2="265.3" stroke="#a867ea" stroke-width="0.7" />
<line x1="482.9" y1="236.7" x2="482.9" y2="251.4" stroke="#a867ea" stroke-width="0.7" />
<line x1="481.3" y1="236.7" x2="484.5" y2="236.7" stroke="#a867ea" stroke-width="0.7" />
<line x1="481.3" y1="251.4" x2="484.5" y2="251.4" stroke="#a867ea" stroke-width="0.7" />
<line x1="498.1" y1="220.7" x2="498.1" y2="235.4" stroke="#a867ea" stroke-width="0.7" />
<line x1="496.5" y1="220.7" x2="499.7" y2="220.7" stroke="#a867ea" stroke-width="0.7" />
<line x1="496.5" y1="235.4" x2="499.7" y2="235.4" stroke="#a867ea" stroke-width="0.7" />
<line x1="513.4" y1="201.7" x2="513.4" y2="216.3" stroke="#a867ea" stroke-width="0.7" />
<line x1="511.8" y1="201.7" x2="515.0" y2="201.7" stroke="#a867ea" stroke-width="0.7" />
<line x1="511.8" y1="216.3" x2="515.0" y2="216.3" stroke="#a867ea" stroke-width="0.7" />
<polygon points="375.9,287.4 378.2,290.0 375.9,292.7 373.6,290.0" fill="#a867ea" stroke="none" stroke-width="1" />
<polygon points="391.2,286.4 393.5,289.0 391.2,291.7 388.9,289.0" fill="#a867ea" stroke="none" stroke-width="1" />
<polygon points="406.5,284.4 408.7,287.0 406.5,289.7 404.2,287.0" fill="#a867ea" stroke="none" stroke-width="1" />
<polygon points="421.7,280.6 424.0,283.3 421.7,285.9 419.5,283.3" fill="#a867ea" stroke="none" stroke-width="1" />
<polygon points="437.0,274.9 439.3,277.5 437.0,280.2 434.7,277.5" fill="#a867ea" stroke="none" stroke-width="1" />
<polygon points="452.3,266.1 454.6,268.7 452.3,271.4 450.0,268.7" fill="#a867ea" stroke="none" stroke-width="1" />
<polygon points="467.6,255.4 469.9,258.0 467.6,260.7 465.3,258.0" fill="#a867ea" stroke="none" stroke-width="1" />
<polygon points="482.9,241.4 485.1,244.0 482.9,246.7 480.6,244.0" fill="#a867ea" stroke="none" stroke-width="1" />
<polygon points="498.1,225.4 500.4,228.0 498.1,230.7 495.9,228.0" fill="#a867ea" stroke="none" stroke-width="1" />
<polygon points="513.4,206.3 515.7,209.0 513.4,211.7 511.1,209.0" fill="#a867ea" stroke="none" stroke-width="1" />
<polyline points="375.9,290.0 391.2,287.0 406.5,282.4 421.7,277.5 437.0,269.6 452.3,260.9 467.6,249.8 482.9,235.9 498.1,220.7 513.4,203.9" fill="none" stroke="#d2653a" stroke-width="1.15" stroke-linejoin="round" />
<line x1="375.9" y1="287.8" x2="375.9" y2="292.3" stroke="#d2653a" stroke-width="0.7" />
<line x1="374.3" y1="287.8" x2="377.5" y2="287.8" stroke="#d2653a" stroke-width="0.7" />
<line x1="374.3" y1="292.3" x2="377.5" y2="292.3" stroke="#d2653a" stroke-width="0.7" />
<line x1="391.2" y1="283.7" x2="391.2" y2="290.4" stroke="#d2653a" stroke-width="0.7" />
<line x1="389.6" y1="283.7" x2="392.8" y2="283.7" stroke="#d2653a" stroke-width="0.7" />
<line x1="389.6" y1="290.4" x2="392.8" y2="290.4" stroke="#d2653a" stroke-width="0.7" />
<line x1="406.5" y1="279.0" x2="406.5" y2="285.8" stroke="#d2653a" stroke-width="0.7" />
<line x1="404.9" y1="279.0" x2="408.1" y2="279.0" stroke="#d2653a" stroke-width="0.7" />
<line x1="404.9" y1="285.8" x2="408.1" y2="285.8" stroke="#d2653a" stroke-width="0.7" />
<line x1="421.7" y1="270.2" x2="421.7" y2="284.8" stroke="#d2653a" stroke-width="0.7" />
<line x1="420.1" y1="270.2" x2="423.3" y2="270.2" stroke="#d2653a" stroke-width="0.7" />
<line x1="420.1" y1="284.8" x2="423.3" y2="284.8" stroke="#d2653a" stroke-width="0.7" />
<line x1="437.0" y1="262.3" x2="437.0" y2="277.0" stroke="#d2653a" stroke-width="0.7" />
<line x1="435.4" y1="262.3" x2="438.6" y2="262.3" stroke="#d2653a" stroke-width="0.7" />
<line x1="435.4" y1="277.0" x2="438.6" y2="277.0" stroke="#d2653a" stroke-width="0.7" />
<line x1="452.3" y1="253.6" x2="452.3" y2="268.2" stroke="#d2653a" stroke-width="0.7" />
<line x1="450.7" y1="253.6" x2="453.9" y2="253.6" stroke="#d2653a" stroke-width="0.7" />
<line x1="450.7" y1="268.2" x2="453.9" y2="268.2" stroke="#d2653a" stroke-width="0.7" />
<line x1="467.6" y1="242.5" x2="467.6" y2="257.1" stroke="#d2653a" stroke-width="0.7" />
<line x1="466.0" y1="242.5" x2="469.2" y2="242.5" stroke="#d2653a" stroke-width="0.7" />
<line x1="466.0" y1="257.1" x2="469.2" y2="257.1" stroke="#d2653a" stroke-width="0.7" />
<line x1="482.9" y1="226.4" x2="482.9" y2="245.5" stroke="#d2653a" stroke-width="0.7" />
<line x1="481.3" y1="226.4" x2="484.5" y2="226.4" stroke="#d2653a" stroke-width="0.7" />
<line x1="481.3" y1="245.5" x2="484.5" y2="245.5" stroke="#d2653a" stroke-width="0.7" />
<line x1="498.1" y1="212.3" x2="498.1" y2="229.2" stroke="#d2653a" stroke-width="0.7" />
<line x1="496.5" y1="212.3" x2="499.7" y2="212.3" stroke="#d2653a" stroke-width="0.7" />
<line x1="496.5" y1="229.2" x2="499.7" y2="229.2" stroke="#d2653a" stroke-width="0.7" />
<line x1="513.4" y1="194.9" x2="513.4" y2="212.9" stroke="#d2653a" stroke-width="0.7" />
<line x1="511.8" y1="194.9" x2="515.0" y2="194.9" stroke="#d2653a" stroke-width="0.7" />
<line x1="511.8" y1="212.9" x2="515.0" y2="212.9" stroke="#d2653a" stroke-width="0.7" />
<circle cx="375.9" cy="290.0" r="1.9" fill="#d2653a" stroke="none" stroke-width="1" />
<circle cx="391.2" cy="287.0" r="1.9" fill="#d2653a" stroke="none" stroke-width="1" />
<circle cx="406.5" cy="282.4" r="1.9" fill="#d2653a" stroke="none" stroke-width="1" />
<circle cx="421.7" cy="277.5" r="1.9" fill="#d2653a" stroke="none" stroke-width="1" />
<circle cx="437.0" cy="269.6" r="1.9" fill="#d2653a" stroke="none" stroke-width="1" />
<circle cx="452.3" cy="260.9" r="1.9" fill="#d2653a" stroke="none" stroke-width="1" />
<circle cx="467.6" cy="249.8" r="1.9" fill="#d2653a" stroke="none" stroke-width="1" />
<circle cx="482.9" cy="235.9" r="1.9" fill="#d2653a" stroke="none" stroke-width="1" />
<circle cx="498.1" cy="220.7" r="1.9" fill="#d2653a" stroke="none" stroke-width="1" />
<circle cx="513.4" cy="203.9" r="1.9" fill="#d2653a" stroke="none" stroke-width="1" />
<rect x="360.6" y="182.2" width="167.4" height="124.5" fill="none" stroke="#333" stroke-width="1.1" />
<line x1="358.6" y1="306.4" x2="360.6" y2="306.4" stroke="#333" stroke-width="0.8" />
<text transform="translate(356.6 308.4) scale(0.92 1)" font-size="5.8" text-anchor="end" font-weight="bold" fill="#333" font-family='"Liberation Sans", sans-serif'>-200</text>
<line x1="358.6" y1="295.1" x2="360.6" y2="295.1" stroke="#333" stroke-width="0.8" />
<text transform="translate(356.6 297.1) scale(0.92 1)" font-size="5.8" text-anchor="end" font-weight="bold" fill="#333" font-family='"Liberation Sans", sans-serif'>0</text>
<line x1="358.6" y1="283.8" x2="360.6" y2="283.8" stroke="#333" stroke-width="0.8" />
<text transform="translate(356.6 285.8) scale(0.92 1)" font-size="5.8" text-anchor="end" font-weight="bold" fill="#333" font-family='"Liberation Sans", sans-serif'>200</text>
<line x1="358.6" y1="272.6" x2="360.6" y2="272.6" stroke="#333" stroke-width="0.8" />
<text transform="translate(356.6 274.6) scale(0.92 1)" font-size="5.8" text-anchor="end" font-weight="bold" fill="#333" font-family='"Liberation Sans", sans-serif'>400</text>
<line x1="358.6" y1="261.3" x2="360.6" y2="261.3" stroke="#333" stroke-width="0.8" />
<text transform="translate(356.6 263.3) scale(0.92 1)" font-size="5.8" text-anchor="end" font-weight="bold" fill="#333" font-family='"Liberation Sans", sans-serif'>600</text>
<line x1="358.6" y1="250.0" x2="360.6" y2="250.0" stroke="#333" stroke-width="0.8" />
<text transform="translate(356.6 252.0) scale(0.92 1)" font-size="5.8" text-anchor="end" font-weight="bold" fill="#333" font-family='"Liberation Sans", sans-serif'>800</text>
<line x1="358.6" y1="238.8" x2="360.6" y2="238.8" stroke="#333" stroke-width="0.8" />
<text transform="translate(356.6 240.8) scale(0.92 1)" font-size="5.8" text-anchor="end" font-weight="bold" fill="#333" font-family='"Liberation Sans", sans-serif'>1000</text>
<line x1="358.6" y1="227.5" x2="360.6" y2="227.5" stroke="#333" stroke-width="0.8" />
<text transform="translate(356.6 229.5) scale(0.92 1)" font-size="5.8" text-anchor="end" font-weight="bold" fill="#333" font-family='"Liberation Sans", sans-serif'>1200</text>
<line x1="358.6" y1="216.2" x2="360.6" y2="216.2" stroke="#333" stroke-width="0.8" />
<text transform="translate(356.6 218.2) scale(0.92 1)" font-size="5.8" text-anchor="end" font-weight="bold" fill="#333" font-family='"Liberation Sans", sans-serif'>1400</text>
<line x1="358.6" y1="204.9" x2="360.6" y2="204.9" stroke="#333" stroke-width="0.8" />
<text transform="translate(356.6 206.9) scale(0.92 1)" font-size="5.8" text-anchor="end" font-weight="bold" fill="#333" font-family='"Liberation Sans", sans-serif'>1600</text>
<line x1="358.6" y1="193.7" x2="360.6" y2="193.7" stroke="#333" stroke-width="0.8" />
<text transform="translate(356.6 195.7) scale(0.92 1)" font-size="5.8" text-anchor="end" font-weight="bold" fill="#333" font-family='"Liberation Sans", sans-serif'>1800</text>
<line x1="358.6" y1="182.4" x2="360.6" y2="182.4" stroke="#333" stroke-width="0.8" />
<text transform="translate(356.6 184.4) scale(0.92 1)" font-size="5.8" text-anchor="end" font-weight="bold" fill="#333" font-family='"Liberation Sans", sans-serif'>2000</text>
<line x1="360.6" y1="306.7" x2="360.6" y2="308.7" stroke="#333" stroke-width="0.8" />
<text transform="translate(360.6 315.3) scale(0.95 1)" font-size="6.0" text-anchor="middle" font-weight="bold" fill="#333" font-family='"Liberation Sans", sans-serif'>&#8722;2</text>
<line x1="375.9" y1="306.7" x2="375.9" y2="308.7" stroke="#333" stroke-width="0.8" />
<text transform="translate(375.9 315.3) scale(0.95 1)" font-size="6.0" text-anchor="middle" font-weight="bold" fill="#333" font-family='"Liberation Sans", sans-serif'>0</text>
<line x1="391.2" y1="306.7" x2="391.2" y2="308.7" stroke="#333" stroke-width="0.8" />
<text transform="translate(391.2 315.3) scale(0.95 1)" font-size="6.0" text-anchor="middle" font-weight="bold" fill="#333" font-family='"Liberation Sans", sans-serif'>2</text>
<line x1="406.5" y1="306.7" x2="406.5" y2="308.7" stroke="#333" stroke-width="0.8" />
<text transform="translate(406.5 315.3) scale(0.95 1)" font-size="6.0" text-anchor="middle" font-weight="bold" fill="#333" font-family='"Liberation Sans", sans-serif'>4</text>
<line x1="421.7" y1="306.7" x2="421.7" y2="308.7" stroke="#333" stroke-width="0.8" />
<text transform="translate(421.7 315.3) scale(0.95 1)" font-size="6.0" text-anchor="middle" font-weight="bold" fill="#333" font-family='"Liberation Sans", sans-serif'>6</text>
<line x1="437.0" y1="306.7" x2="437.0" y2="308.7" stroke="#333" stroke-width="0.8" />
<text transform="translate(437.0 315.3) scale(0.95 1)" font-size="6.0" text-anchor="middle" font-weight="bold" fill="#333" font-family='"Liberation Sans", sans-serif'>8</text>
<line x1="452.3" y1="306.7" x2="452.3" y2="308.7" stroke="#333" stroke-width="0.8" />
<text transform="translate(452.3 315.3) scale(0.95 1)" font-size="6.0" text-anchor="middle" font-weight="bold" fill="#333" font-family='"Liberation Sans", sans-serif'>10</text>
<line x1="467.6" y1="306.7" x2="467.6" y2="308.7" stroke="#333" stroke-width="0.8" />
<text transform="translate(467.6 315.3) scale(0.95 1)" font-size="6.0" text-anchor="middle" font-weight="bold" fill="#333" font-family='"Liberation Sans", sans-serif'>12</text>
<line x1="482.9" y1="306.7" x2="482.9" y2="308.7" stroke="#333" stroke-width="0.8" />
<text transform="translate(482.9 315.3) scale(0.95 1)" font-size="6.0" text-anchor="middle" font-weight="bold" fill="#333" font-family='"Liberation Sans", sans-serif'>14</text>
<line x1="498.1" y1="306.7" x2="498.1" y2="308.7" stroke="#333" stroke-width="0.8" />
<text transform="translate(498.1 315.3) scale(0.95 1)" font-size="6.0" text-anchor="middle" font-weight="bold" fill="#333" font-family='"Liberation Sans", sans-serif'>16</text>
<line x1="513.4" y1="306.7" x2="513.4" y2="308.7" stroke="#333" stroke-width="0.8" />
<text transform="translate(513.4 315.3) scale(0.95 1)" font-size="6.0" text-anchor="middle" font-weight="bold" fill="#333" font-family='"Liberation Sans", sans-serif'>18</text>
<line x1="528.7" y1="306.7" x2="528.7" y2="308.7" stroke="#333" stroke-width="0.8" />
<text transform="translate(528.7 315.3) scale(0.95 1)" font-size="6.0" text-anchor="middle" font-weight="bold" fill="#333" font-family='"Liberation Sans", sans-serif'>20</text>
<text x="445.5" y="322.4" font-size="7.3" text-anchor="middle" font-weight="bold" fill="#222" font-family='"Liberation Sans", sans-serif' >Time (day)</text>
<text transform="translate(342.2 244) rotate(-90)" font-size="7.0" font-weight="bold" text-anchor="middle" fill="#222" font-family='"Liberation Sans", sans-serif'>Tumor volume (mm<tspan font-size="4.5" dy="-2.6">3</tspan><tspan dy="2.6">)</tspan></text>
<line x1="392.5" y1="194.6" x2="408.5" y2="194.6" stroke="#d2653a" stroke-width="1.1" />
<circle cx="400.5" cy="194.6" r="1.5" fill="#d2653a" stroke="none" stroke-width="1" />
<text x="410.4" y="197.1" font-size="7.0" text-anchor="start" font-weight="bold" fill="#222" font-family='"Liberation Sans", sans-serif' >Saline</text>
<line x1="392.5" y1="202.6" x2="408.5" y2="202.6" stroke="#a867ea" stroke-width="1.1" />
<polygon points="400.5,200.5 402.3,202.6 400.5,204.7 398.7,202.6" fill="#a867ea" stroke="none" stroke-width="1" />
<text x="410.4" y="205.1" font-size="7.0" text-anchor="start" font-weight="bold" fill="#222" font-family='"Liberation Sans", sans-serif' >Saline+NIR</text>
<line x1="392.5" y1="210.6" x2="408.5" y2="210.6" stroke="#333333" stroke-width="1.1" />
<rect x="399.0" y="209.1" width="3.0" height="3.0" fill="#333333" stroke="none" stroke-width="1" />
<text x="410.4" y="213.1" font-size="7.0" text-anchor="start" font-weight="bold" fill="#222" font-family='"Liberation Sans", sans-serif' >Dox</text>
<line x1="392.5" y1="218.6" x2="408.5" y2="218.6" stroke="#c8b22a" stroke-width="1.1" />
<polygon points="400.5,216.5 402.3,218.6 400.5,220.7 398.7,218.6" fill="#c8b22a" stroke="none" stroke-width="1" />
<text x="410.4" y="221.1" font-size="7.0" text-anchor="start" font-weight="bold" fill="#222" font-family='"Liberation Sans", sans-serif' >PM-NPs</text>
<line x1="392.5" y1="226.6" x2="408.5" y2="226.6" stroke="#3a9a78" stroke-width="1.1" />
<polygon points="400.5,228.5 402.3,225.1 398.7,225.1" fill="#3a9a78" stroke="none" stroke-width="1" />
<text x="410.4" y="229.1" font-size="7.0" text-anchor="start" font-weight="bold" fill="#222" font-family='"Liberation Sans", sans-serif' >NPs+NIR</text>
<line x1="392.5" y1="234.6" x2="408.5" y2="234.6" stroke="#3838d8" stroke-width="1.1" />
<polygon points="400.5,232.7 402.3,236.1 398.7,236.1" fill="#3838d8" stroke="none" stroke-width="1" />
<text x="410.4" y="237.1" font-size="7.0" text-anchor="start" font-weight="bold" fill="#222" font-family='"Liberation Sans", sans-serif' >PM-NPs+NIR</text>
<polyline points="517.0,273.3 521.3,273.3 521.3,295.3 517.0,295.3" fill="none" stroke="#222" stroke-width="1.1" stroke-linejoin="round" />
<text x="526.3" y="288.5" font-size="8.5" text-anchor="middle" font-weight="bold" fill="#222" font-family='"Liberation Sans", sans-serif' >*</text>
<text x="2.4" y="351.3" font-size="17.8" text-anchor="start" font-weight="normal" fill="#111" font-family='"Liberation Sans", sans-serif' stroke="#111" stroke-width="0.45">(g)</text>
<rect x="23.0" y="347.6" width="189.7" height="155.2" fill="#f7f7f3" stroke="none" stroke-width="1" />
<polygon points="139.0,351.5 194.8,354.2 89.1,496.7 28.9,465.6" fill="#cdcdd1" stroke="none" stroke-width="1" />
<polygon points="28.9,465.6 89.1,496.7 89.1,498.6 28.9,467.6" fill="#7c7c82" stroke="none" stroke-width="1" />
<polygon points="89.1,496.7 194.8,354.2 195.3,355.6 89.6,498.6" fill="#a8a8ae" stroke="none" stroke-width="1" />
<polygon points="176.5,356.0 186.0,357.6 88.0,483.0 79.5,478.2" fill="#9a9cb4" stroke="none" stroke-width="1" />
<polygon points="176.5,356.0 181.0,356.8 83.6,480.6 79.5,478.2" fill="#c6c8dc" stroke="none" stroke-width="1" />
<polygon points="145.2,353.5 176.5,356.0 79.5,478.2 42.3,459.5" fill="#babeda" stroke="none" stroke-width="1" />
<polygon points="42.3,459.5 79.5,478.2 88.0,483.0 88.0,485.5 79.5,481.2 42.6,462.6" fill="#8c8ea8" stroke="none" stroke-width="1" />
<rect x="65.0" y="363.0" width="55.0" height="11.0" fill="#fdeaea" stroke="none" stroke-width="1" />
<text x="70.2" y="369.8" font-size="6.5" text-anchor="start" font-weight="bold" fill="#8a6040" font-family='"Liberation Sans", sans-serif' >Electroporation</text>
<rect x="51.0" y="446.0" width="11.0" height="12.0" fill="#62d6da" stroke="none" stroke-width="1" opacity="0.5"/>
<rect x="62.0" y="444.0" width="10.0" height="9.0" fill="#62d6da" stroke="none" stroke-width="1" opacity="0.5"/>
<rect x="72.0" y="441.0" width="10.0" height="9.0" fill="#62d6da" stroke="none" stroke-width="1" opacity="0.5"/>
<rect x="78.0" y="452.0" width="8.0" height="12.0" fill="#62d6da" stroke="none" stroke-width="1" opacity="0.5"/>
<rect x="80.0" y="436.0" width="9.0" height="10.0" fill="#62d6da" stroke="none" stroke-width="1" opacity="0.5"/>
<rect x="87.7" y="423.7" width="8.3" height="15.3" fill="#62d6da" stroke="none" stroke-width="1" opacity="0.5"/>
<rect x="96.0" y="416.0" width="8.4" height="15.4" fill="#62d6da" stroke="none" stroke-width="1" opacity="0.5"/>
<rect x="104.4" y="408.3" width="7.6" height="15.4" fill="#62d6da" stroke="none" stroke-width="1" opacity="0.5"/>
<rect x="112.0" y="400.0" width="8.4" height="16.0" fill="#62d6da" stroke="none" stroke-width="1" opacity="0.5"/>
<rect x="119.7" y="391.7" width="9.0" height="16.0" fill="#62d6da" stroke="none" stroke-width="1" opacity="0.5"/>
<rect x="128.0" y="384.0" width="8.4" height="8.3" fill="#62d6da" stroke="none" stroke-width="1" opacity="0.5"/>
<rect x="144.0" y="362.0" width="9.0" height="7.0" fill="#62d6da" stroke="none" stroke-width="1" opacity="0.5"/>
<path d="M79.5,447.3 C80.1,446.1 82.2,441.4 83.2,440.0 C84.2,438.6 84.6,440.3 85.8,439.1 C87.0,437.9 88.5,434.2 90.3,432.7 C92.1,431.2 95.2,431.2 96.7,430.1 C98.2,429.0 99.0,427.6 99.2,426.3 C99.4,425.0 97.5,423.6 97.9,422.4 C98.3,421.2 99.9,420.0 101.8,419.2 C103.7,418.4 108.0,418.2 109.5,417.3 C111.0,416.4 111.0,414.7 110.8,413.5 C110.6,412.3 108.0,411.3 108.2,410.3 C108.4,409.3 110.3,408.4 112.0,407.7 C113.7,406.9 117.0,406.6 118.5,405.8 C120.0,405.0 120.3,403.7 121.0,402.6 C121.7,401.5 121.6,400.6 122.5,399.0 C123.4,397.4 125.0,394.5 126.2,393.0 C127.4,391.5 128.0,391.4 129.5,390.0 C131.0,388.6 133.0,386.9 135.1,384.6 C137.2,382.3 139.7,378.9 142.0,376.0 C144.3,373.1 148.0,368.9 149.2,367.5" fill="none" stroke="#3584ae" stroke-width="3.3" stroke-linecap="round" stroke-linejoin="round"/>
<path d="M79.5,447.3 C80.1,446.1 82.2,441.4 83.2,440.0 C84.2,438.6 84.6,440.3 85.8,439.1 C87.0,437.9 88.5,434.2 90.3,432.7 C92.1,431.2 95.2,431.2 96.7,430.1 C98.2,429.0 99.0,427.6 99.2,426.3 C99.4,425.0 97.5,423.6 97.9,422.4 C98.3,421.2 99.9,420.0 101.8,419.2 C103.7,418.4 108.0,418.2 109.5,417.3 C111.0,416.4 111.0,414.7 110.8,413.5 C110.6,412.3 108.0,411.3 108.2,410.3 C108.4,409.3 110.3,408.4 112.0,407.7 C113.7,406.9 117.0,406.6 118.5,405.8 C120.0,405.0 120.3,403.7 121.0,402.6 C121.7,401.5 121.6,400.6 122.5,399.0 C123.4,397.4 125.0,394.5 126.2,393.0 C127.4,391.5 128.0,391.4 129.5,390.0 C131.0,388.6 133.0,386.9 135.1,384.6 C137.2,382.3 139.7,378.9 142.0,376.0 C144.3,373.1 148.0,368.9 149.2,367.5" fill="none" stroke="#55a5cc" stroke-width="1.4" stroke-linecap="round" stroke-linejoin="round"/>
<path d="M58.6,453.6 C59.5,453.4 62.0,452.9 64.0,452.5 C66.0,452.1 67.9,451.8 70.5,450.9 C73.1,450.0 78.0,447.9 79.5,447.3" fill="none" stroke="#3584ae" stroke-width="3.3" stroke-linecap="round"/>
<path d="M58.6,453.6 C59.5,453.4 62.0,452.9 64.0,452.5 C66.0,452.1 67.9,451.8 70.5,450.9 C73.1,450.0 78.0,447.9 79.5,447.3" fill="none" stroke="#55a5cc" stroke-width="1.4" stroke-linecap="round"/>
<path d="M82.3,462.7 C82.1,462.1 81.5,460.1 81.2,459.0 C80.9,457.9 80.8,458.3 80.5,456.4 C80.2,454.4 79.7,448.8 79.5,447.3" fill="none" stroke="#3584ae" stroke-width="3.3" stroke-linecap="round"/>
<path d="M82.3,462.7 C82.1,462.1 81.5,460.1 81.2,459.0 C80.9,457.9 80.8,458.3 80.5,456.4 C80.2,454.4 79.7,448.8 79.5,447.3" fill="none" stroke="#55a5cc" stroke-width="1.4" stroke-linecap="round"/>
<ellipse cx="124.2" cy="396.2" rx="4.0" ry="2.2" fill="#2f86b0" transform="rotate(-50 124.2 396.2)"/>
<ellipse cx="131.3" cy="388.5" rx="3.8" ry="2.2" fill="#2f86b0" transform="rotate(-50 131.3 388.5)"/>
<circle cx="58.6" cy="453.6" r="2.6" fill="#2f86b0" stroke="none" stroke-width="1" />
<circle cx="82.3" cy="462.7" r="2.6" fill="#2f86b0" stroke="none" stroke-width="1" />
<circle cx="149.2" cy="367.3" r="2.5" fill="#6ca0d8" stroke="none" stroke-width="1" />
<polygon points="130.0,375.4 172.9,380.7 172.9,382.4 130.0,377.3" fill="#1e1e1e" stroke="none" stroke-width="1" />
<polygon points="115.1,373.2 131.0,375.3 131.0,377.2 115.1,375.0" fill="#1e1e1e" stroke="none" stroke-width="1" />
<polygon points="115.1,371.8 172.9,379.2 172.9,381.0 115.1,373.6" fill="#ccdc3c" stroke="none" stroke-width="1" />
<polygon points="131.4,383.6 141.2,384.6 153.4,369.6 144.2,368.4" fill="#a4d444" stroke="none" stroke-width="1" />
<polygon points="135.6,384.0 137.4,384.2 149.4,369.1 147.6,368.9" fill="#6aa830" stroke="none" stroke-width="1" />
<polygon points="131.4,383.6 141.2,384.6 141.2,385.6 131.4,384.6" fill="#4a7a20" stroke="none" stroke-width="1" />
<text x="153.0" y="362.3" font-size="6.4" text-anchor="middle" font-weight="bold" fill="#24404a" font-family='"Liberation Sans", sans-serif' >Outlet</text>
<text x="74.5" y="465.0" font-size="6.6" text-anchor="middle" font-weight="bold" fill="#2a2a3a" font-family='"Liberation Sans", sans-serif' >Inlets</text>
<text x="40.3" y="414.0" font-size="6.5" text-anchor="middle" font-weight="bold" fill="#222" font-family='"Liberation Sans", sans-serif' >MNs</text>
<text x="158.8" y="431.3" font-size="6.5" text-anchor="middle" font-weight="bold" fill="#222" font-family='"Liberation Sans", sans-serif' >Microfluidic</text>
<text x="158.8" y="440.3" font-size="6.5" text-anchor="middle" font-weight="bold" fill="#222" font-family='"Liberation Sans", sans-serif' >chip</text>
<text x="196.0" y="410.0" font-size="6.5" text-anchor="middle" font-weight="bold" fill="#222" font-family='"Liberation Sans", sans-serif' >RBC-MNs</text>
<text x="133.3" y="498.0" font-size="6.5" text-anchor="middle" font-weight="bold" fill="#222" font-family='"Liberation Sans", sans-serif' >RBC-vesicles</text>
<circle cx="31.0" cy="422.6" r="4.9" fill="url(#sph)" stroke="none" stroke-width="1" />
<circle cx="47.5" cy="424.5" r="4.9" fill="url(#sph)" stroke="none" stroke-width="1" />
<circle cx="35.0" cy="436.7" r="4.9" fill="url(#sph)" stroke="none" stroke-width="1" />
<circle cx="197.5" cy="378.8" r="7.0" fill="#f6dccf" stroke="none" stroke-width="1" />
<circle cx="197.5" cy="378.8" r="5.6" fill="#efc6b4" stroke="none" stroke-width="1" />
<circle cx="197.5" cy="378.8" r="4.4" fill="url(#sph)" stroke="none" stroke-width="1" />
<circle cx="183.4" cy="393.1" r="7.0" fill="#f6dccf" stroke="none" stroke-width="1" />
<circle cx="183.4" cy="393.1" r="5.6" fill="#efc6b4" stroke="none" stroke-width="1" />
<circle cx="183.4" cy="393.1" r="4.4" fill="url(#sph)" stroke="none" stroke-width="1" />
<circle cx="203.4" cy="395.4" r="7.0" fill="#f6dccf" stroke="none" stroke-width="1" />
<circle cx="203.4" cy="395.4" r="5.6" fill="#efc6b4" stroke="none" stroke-width="1" />
<circle cx="203.4" cy="395.4" r="4.4" fill="url(#sph)" stroke="none" stroke-width="1" />
<circle cx="124.6" cy="469.0" r="5.1" fill="#fffaf6" stroke="#e0bca4" stroke-width="1.3" />
<circle cx="142.9" cy="470.3" r="5.1" fill="#fffaf6" stroke="#e0bca4" stroke-width="1.3" />
<circle cx="130.7" cy="484.2" r="5.1" fill="#fffaf6" stroke="#e0bca4" stroke-width="1.3" />
<path d="M44.7,432.4 Q55,436 58.2,445.5" fill="none" stroke="#333" stroke-width="0.8"/>
<polygon points="58.5,447.5 58.0,445.0 60.2,445.5" fill="#333" stroke="none" stroke-width="1" />
<path d="M112.5,477.5 Q100,473 89.2,465.3" fill="none" stroke="#333" stroke-width="0.8"/>
<polygon points="87.8,464.4 90.4,464.8 89.1,466.7" fill="#333" stroke="none" stroke-width="1" />
<path d="M158.9,366.5 Q174,364 180.5,376" fill="none" stroke="#333" stroke-width="0.8"/>
<polygon points="181.6,378.3 179.6,376.7 181.6,375.7" fill="#333" stroke="none" stroke-width="1" />
<text x="217.2" y="352.7" font-size="17.8" text-anchor="start" font-weight="normal" fill="#111" font-family='"Liberation Sans", sans-serif' stroke="#111" stroke-width="0.45">(h)</text>
<rect x="239.5" y="348.7" width="24.0" height="19.0" fill="#fcd2e6" stroke="none" stroke-width="1" />
<rect x="248.2" y="360.4" width="24.0" height="15.2" fill="#fcd2e6" stroke="none" stroke-width="1" />
<ellipse cx="245.3" cy="352.4" rx="4.4" ry="3.0" fill="#b81838"/>
<ellipse cx="245.3" cy="352.7" rx="2.6" ry="1.7" fill="#d84a66"/>
<ellipse cx="258.4" cy="354.5" rx="3.6" ry="3.0" fill="#b81838"/>
<ellipse cx="258.4" cy="354.8" rx="2.2" ry="1.7" fill="#d84a66"/>
<ellipse cx="246" cy="360.4" rx="4.4" ry="3.8" fill="#b81838"/>
<ellipse cx="246" cy="360.7" rx="2.6" ry="2.1" fill="#d84a66"/>
<circle cx="267.8" cy="368.4" r="5.0" fill="#e01c40" stroke="none" stroke-width="1" />
<ellipse cx="267.8" cy="367.4" rx="3.8" ry="2.2" fill="#ea4a66" opacity="0.7"/>
<circle cx="259.8" cy="369.1" r="5.6" fill="#e01c40" stroke="none" stroke-width="1" />
<ellipse cx="259.8" cy="368.1" rx="4.2" ry="2.5" fill="#ea4a66" opacity="0.7"/>
<circle cx="259.8" cy="369.1" r="5.6" fill="none" stroke="#a01030" stroke-width="0.6" />
<path d="M286,359 Q292,355 303,356 L312,358.5 Q315,360.5 312,362.5 L303,364.5 Q292,366 286,362 Z" fill="#ececea" stroke="#8a8a8a" stroke-width="0.6"/>
<path d="M303,357 L309,354 M303,364 L309,366.5 M286,360 Q280,359 279,362.5 M286,361.5 Q282,364 281,366 M287,362.5 Q290,368 297,371 Q300,373 302,373.5 M287,362 Q288,370 293,372" fill="none" stroke="#8a8a8a" stroke-width="0.6"/>
<text x="259.8" y="382.2" font-size="5.8" text-anchor="middle" font-weight="normal" fill="#2a2a2a" font-family='"Liberation Sans", sans-serif' >RBCs</text>
<text x="297.6" y="382.2" font-size="5.6" text-anchor="middle" font-weight="normal" fill="#2a2a2a" font-family='"Liberation Sans", sans-serif' >Cuttlefish</text>
<line x1="258.9" y1="384.5" x2="258.9" y2="389.5" stroke="#222" stroke-width="0.9" />
<polygon points="258.9,392.3 257.2,388.8 260.6,388.8" fill="#222" stroke="none" stroke-width="1" />
<line x1="296.2" y1="384.5" x2="296.2" y2="389.5" stroke="#222" stroke-width="0.9" />
<polygon points="296.2,392.3 294.5,388.8 297.9,388.8" fill="#222" stroke="none" stroke-width="1" />
<rect x="240.0" y="391.5" width="31.3" height="29.0" fill="#fdeaf0" stroke="none" stroke-width="1" />
<circle cx="250.9" cy="397.4" r="4.2" fill="#fffafa" stroke="#dcb0a6" stroke-width="2.1" />
<circle cx="263.3" cy="401.7" r="4.2" fill="#fffafa" stroke="#dcb0a6" stroke-width="2.1" />
<circle cx="250.9" cy="409.7" r="4.2" fill="#fffafa" stroke="#dcb0a6" stroke-width="2.1" />
<circle cx="262.5" cy="415.5" r="4.2" fill="#fffafa" stroke="#dcb0a6" stroke-width="2.1" />
<circle cx="292.4" cy="400.3" r="3.6" fill="url(#sph3)" stroke="none" stroke-width="1" />
<circle cx="301.1" cy="404.6" r="3.6" fill="url(#sph3)" stroke="none" stroke-width="1" />
<circle cx="290.9" cy="409.7" r="3.6" fill="url(#sph3)" stroke="none" stroke-width="1" />
<circle cx="298.9" cy="415.5" r="3.6" fill="url(#sph3)" stroke="none" stroke-width="1" />
<text x="263.3" y="427.8" font-size="5.5" text-anchor="middle" font-weight="normal" fill="#2a2a2a" font-family='"Liberation Sans", sans-serif' >RBC membrane</text>
<text x="263.3" y="432.9" font-size="5.5" text-anchor="middle" font-weight="normal" fill="#2a2a2a" font-family='"Liberation Sans", sans-serif' >vesicles</text>
<text x="296.7" y="427.8" font-size="5.5" text-anchor="middle" font-weight="normal" fill="#2a2a2a" font-family='"Liberation Sans", sans-serif' >Melanin</text>
<path d="M256.4,434.5 Q257,438.5 262,438.5 L272,438.5 Q276.5,438.5 277,442.5 Q277.5,438.5 282,438.5 L292,438.5 Q296.5,438.5 296.5,434.5" fill="none" stroke="#222" stroke-width="1.0"/>
<circle cx="269.6" cy="450.9" r="6.0" fill="#f9e0e0" stroke="none" stroke-width="1" />
<circle cx="269.6" cy="450.9" r="3.9" fill="#4a3040" stroke="none" stroke-width="1" />
<circle cx="269.3" cy="450.5" r="2.1" fill="#ead2dc" stroke="none" stroke-width="1" />
<circle cx="282.4" cy="456.0" r="6.0" fill="#f9e0e0" stroke="none" stroke-width="1" />
<circle cx="282.4" cy="456.0" r="3.9" fill="#4a3040" stroke="none" stroke-width="1" />
<circle cx="282.1" cy="455.6" r="2.1" fill="#ead2dc" stroke="none" stroke-width="1" />
<circle cx="270.9" cy="463.6" r="6.0" fill="#f9e0e0" stroke="none" stroke-width="1" />
<circle cx="270.9" cy="463.6" r="3.9" fill="#4a3040" stroke="none" stroke-width="1" />
<circle cx="270.6" cy="463.2" r="2.1" fill="#ead2dc" stroke="none" stroke-width="1" />
<circle cx="283.1" cy="468.2" r="6.0" fill="#f9e0e0" stroke="none" stroke-width="1" />
<circle cx="283.1" cy="468.2" r="3.9" fill="#4a3040" stroke="none" stroke-width="1" />
<circle cx="282.8" cy="467.8" r="2.1" fill="#ead2dc" stroke="none" stroke-width="1" />
<text x="273.7" y="482.0" font-size="5.3" text-anchor="middle" font-weight="normal" fill="#333" font-family='"Liberation Sans", sans-serif' >Melanin@RBC</text>
<rect x="311.8" y="440.0" width="16.4" height="41.8" fill="#fcd8e6" stroke="none" stroke-width="1" />
<path d="M303,480 Q305,471 316,470.5 Q327,469.5 333,474 Q337,473 339.5,476 Q343,478.5 345.5,483.5 Q341,485.5 337,485 L338,489.5 Q332,491.5 328,490 Q320,493 312,490 Q304,489.5 303,484 Z" fill="#f8eed6" stroke="#c4aa80" stroke-width="0.8"/>
<path d="M303.5,483 Q297.5,487 300.5,493.5 Q309,497 318,494" fill="none" stroke="#c4aa80" stroke-width="0.9"/>
<path d="M333,474 Q335,468.5 338.5,471 Q338,474.5 336,476" fill="#f8eed6" stroke="#c4aa80" stroke-width="0.6"/>
<path d="M314,489 L313,492.5 M322,490 L321.5,493 M330,489.5 L331,492.5" stroke="#a08060" stroke-width="0.8"/>
<circle cx="340.5" cy="480.5" r="0.7" fill="#333" stroke="none" stroke-width="1" />
<path d="M292.7,467.3 L300,479" stroke="#a8a8b0" stroke-width="2.0"/>
<path d="M296.4,473 L299.6,478.2" stroke="#8a3a28" stroke-width="1.9"/>
<polygon points="313.6,443.0 317.6,442.3 320.6,456.5 316.8,457.2" fill="#fff" stroke="#9a2a20" stroke-width="1.0" />
<polygon points="317.0,456.3 322.0,455.8 330.0,480.5 326.0,481.2" fill="#e0401c" stroke="none" stroke-width="1" />
<polygon points="318.6,457.5 320.6,457.3 328.7,480.0 327.2,480.3" fill="#8a1808" stroke="none" stroke-width="1" />
<text x="322.0" y="447.3" font-size="3.3" text-anchor="start" font-weight="normal" fill="#8a2020" font-family='"Liberation Sans", sans-serif' >NIR</text>
<path d="M378,348.5 L529.5,348.5 Q545.4,348.5 545.4,364.5 L545.4,484 Q545.4,499.5 529.5,499.5 L378,499.5 Q357.6,499.5 357.6,479 L357.6,369 Q357.6,348.5 378,348.5 Z" fill="#ffffff" stroke="#3a4680" stroke-width="1.0"/>
<line x1="328.2" y1="479.0" x2="357.6" y2="375.5" stroke="#3a4ac0" stroke-width="1.15" stroke-dasharray="2.4 1.5"/>
<line x1="330.0" y1="483.6" x2="372.0" y2="498.5" stroke="#3a4ac0" stroke-width="1.15" stroke-dasharray="2.4 1.5"/>
<rect x="362.5" y="356.0" width="4.0" height="141.0" fill="#fdeaf0" stroke="none" stroke-width="1" />
<path d="M365,356 L379,356 Q383,366 387,377 L389,388 Q396,372 407.7,356 L419.5,360 Q408,378 397,396 L396,497 L373.5,497 L373.5,417 Q371,390 365,356 Z" fill="#f6c4c8"/>
<path d="M365,356 Q369,385 373.6,417 L373.6,497" fill="none" stroke="#d4a088" stroke-width="3.8" stroke-dasharray="3.2 0.7"/>
<path d="M365,356 Q369,385 373.6,417 L373.6,497" fill="none" stroke="#fffaf4" stroke-width="1.9" stroke-dasharray="2.2 1.7"/>
<path d="M379,356 Q384,370 389,388 Q396,372 407.7,356" fill="none" stroke="#d4a088" stroke-width="3.8" stroke-dasharray="3.2 0.7"/>
<path d="M379,356 Q384,370 389,388 Q396,372 407.7,356" fill="none" stroke="#fffaf4" stroke-width="1.9" stroke-dasharray="2.2 1.7"/>
<path d="M419.5,360 Q407,378 396.5,396 L396,497" fill="none" stroke="#d4a088" stroke-width="3.8" stroke-dasharray="3.2 0.7"/>
<path d="M419.5,360 Q407,378 396.5,396 L396,497" fill="none" stroke="#fffaf4" stroke-width="1.9" stroke-dasharray="2.2 1.7"/>
<ellipse cx="373.9" cy="364.6" rx="2.8" ry="4.4" fill="#c01834" transform="rotate(-15 373.9 364.6)"/>
<ellipse cx="373.9" cy="364.6" rx="1.5" ry="2.6" fill="#e04058" transform="rotate(-15 373.9 364.6)"/>
<ellipse cx="399.4" cy="379.8" rx="3.2" ry="4.5" fill="#c01834" transform="rotate(20 399.4 379.8)"/>
<ellipse cx="399.4" cy="379.8" rx="1.8" ry="2.7" fill="#e04058" transform="rotate(20 399.4 379.8)"/>
<ellipse cx="386.3" cy="407.4" rx="3.5" ry="5.0" fill="#c01834" transform="rotate(15 386.3 407.4)"/>
<ellipse cx="386.3" cy="407.4" rx="1.9" ry="3.0" fill="#e04058" transform="rotate(15 386.3 407.4)"/>
<ellipse cx="384.6" cy="429.5" rx="3.6" ry="5.0" fill="#c01834" transform="rotate(-20 384.6 429.5)"/>
<ellipse cx="384.6" cy="429.5" rx="2.0" ry="3.0" fill="#e04058" transform="rotate(-20 384.6 429.5)"/>
<ellipse cx="386.4" cy="466.8" rx="3.6" ry="5.4" fill="#c01834" transform="rotate(15 386.4 466.8)"/>
<ellipse cx="386.4" cy="466.8" rx="2.0" ry="3.2" fill="#e04058" transform="rotate(15 386.4 466.8)"/>
<circle cx="378.0" cy="379.0" r="3.2" fill="#fff4ec" stroke="#e8c8b8" stroke-width="0.5" />
<circle cx="378.0" cy="379.0" r="1.9" fill="url(#sph2)" stroke="none" stroke-width="1" />
<circle cx="408.4" cy="366.6" r="3.2" fill="#fff4ec" stroke="#e8c8b8" stroke-width="0.5" />
<circle cx="408.4" cy="366.6" r="1.9" fill="url(#sph2)" stroke="none" stroke-width="1" />
<circle cx="389.8" cy="392.9" r="3.2" fill="#fff4ec" stroke="#e8c8b8" stroke-width="0.5" />
<circle cx="389.8" cy="392.9" r="1.9" fill="url(#sph2)" stroke="none" stroke-width="1" />
<circle cx="398.7" cy="410.8" r="3.2" fill="#fff4ec" stroke="#e8c8b8" stroke-width="0.5" />
<circle cx="398.7" cy="410.8" r="1.9" fill="url(#sph2)" stroke="none" stroke-width="1" />
<circle cx="394.4" cy="430.4" r="3.2" fill="#fff4ec" stroke="#e8c8b8" stroke-width="0.5" />
<circle cx="394.4" cy="430.4" r="1.9" fill="url(#sph2)" stroke="none" stroke-width="1" />
<circle cx="384.3" cy="449.4" r="3.2" fill="#fff4ec" stroke="#e8c8b8" stroke-width="0.5" />
<circle cx="384.3" cy="449.4" r="1.9" fill="url(#sph2)" stroke="none" stroke-width="1" />
<circle cx="383.4" cy="482.4" r="3.2" fill="#fff4ec" stroke="#e8c8b8" stroke-width="0.5" />
<circle cx="383.4" cy="482.4" r="1.9" fill="url(#sph2)" stroke="none" stroke-width="1" />
<circle cx="415.3" cy="433.6" r="3.6" fill="#cad2f6" stroke="#9eaee8" stroke-width="0.6" />
<circle cx="406.8" cy="431.4" r="3.6" fill="#cad2f6" stroke="#9eaee8" stroke-width="0.6" />
<circle cx="411.9" cy="421.6" r="3.6" fill="#cad2f6" stroke="#9eaee8" stroke-width="0.6" />
<circle cx="427.7" cy="425.0" r="3.6" fill="#cad2f6" stroke="#9eaee8" stroke-width="0.6" />
<circle cx="414.1" cy="430.3" r="3.6" fill="#cad2f6" stroke="#9eaee8" stroke-width="0.6" />
<circle cx="424.4" cy="423.8" r="3.6" fill="#cad2f6" stroke="#9eaee8" stroke-width="0.6" />
<circle cx="419.7" cy="416.3" r="3.6" fill="#cad2f6" stroke="#9eaee8" stroke-width="0.6" />
<circle cx="410.9" cy="420.1" r="3.6" fill="#cad2f6" stroke="#9eaee8" stroke-width="0.6" />
<circle cx="405.6" cy="414.9" r="3.6" fill="#cad2f6" stroke="#9eaee8" stroke-width="0.6" />
<circle cx="402.1" cy="422.4" r="3.6" fill="#cad2f6" stroke="#9eaee8" stroke-width="0.6" />
<circle cx="412.8" cy="421.1" r="3.6" fill="#cad2f6" stroke="#9eaee8" stroke-width="0.6" />
<circle cx="415.1" cy="414.0" r="3.6" fill="#cad2f6" stroke="#9eaee8" stroke-width="0.6" />
<circle cx="413.7" cy="426.2" r="3.6" fill="#cad2f6" stroke="#9eaee8" stroke-width="0.6" />
<circle cx="421.1" cy="417.3" r="3.6" fill="#cad2f6" stroke="#9eaee8" stroke-width="0.6" />
<circle cx="411.9" cy="412.0" r="3.6" fill="#cad2f6" stroke="#9eaee8" stroke-width="0.6" />
<circle cx="411.4" cy="411.8" r="3.6" fill="#cad2f6" stroke="#9eaee8" stroke-width="0.6" />
<circle cx="404.2" cy="431.1" r="3.6" fill="#cad2f6" stroke="#9eaee8" stroke-width="0.6" />
<circle cx="401.3" cy="428.3" r="3.6" fill="#cad2f6" stroke="#9eaee8" stroke-width="0.6" />
<circle cx="417.8" cy="421.2" r="3.6" fill="#cad2f6" stroke="#9eaee8" stroke-width="0.6" />
<circle cx="418.9" cy="428.6" r="3.6" fill="#cad2f6" stroke="#9eaee8" stroke-width="0.6" />
<circle cx="423.9" cy="422.2" r="3.6" fill="#cad2f6" stroke="#9eaee8" stroke-width="0.6" />
<circle cx="408.9" cy="418.9" r="3.6" fill="#cad2f6" stroke="#9eaee8" stroke-width="0.6" />
<circle cx="405.5" cy="423.6" r="3.6" fill="#cad2f6" stroke="#9eaee8" stroke-width="0.6" />
<circle cx="407.9" cy="432.0" r="3.6" fill="#cad2f6" stroke="#9eaee8" stroke-width="0.6" />
<circle cx="402.6" cy="417.8" r="3.6" fill="#cad2f6" stroke="#9eaee8" stroke-width="0.6" />
<circle cx="408.7" cy="412.6" r="3.6" fill="#cad2f6" stroke="#9eaee8" stroke-width="0.6" />
<circle cx="423.4" cy="413.8" r="3.6" fill="#cad2f6" stroke="#9eaee8" stroke-width="0.6" />
<circle cx="411.7" cy="419.4" r="3.6" fill="#cad2f6" stroke="#9eaee8" stroke-width="0.6" />
<circle cx="423.6" cy="414.2" r="3.6" fill="#cad2f6" stroke="#9eaee8" stroke-width="0.6" />
<circle cx="423.5" cy="418.5" r="3.6" fill="#cad2f6" stroke="#9eaee8" stroke-width="0.6" />
<circle cx="413.0" cy="418.2" r="3.6" fill="#cad2f6" stroke="#9eaee8" stroke-width="0.6" />
<circle cx="419.9" cy="415.4" r="3.6" fill="#cad2f6" stroke="#9eaee8" stroke-width="0.6" />
<circle cx="413.7" cy="427.2" r="3.6" fill="#cad2f6" stroke="#9eaee8" stroke-width="0.6" />
<circle cx="423.3" cy="413.7" r="3.6" fill="#cad2f6" stroke="#9eaee8" stroke-width="0.6" />
<circle cx="425.5" cy="430.1" r="3.6" fill="#cad2f6" stroke="#9eaee8" stroke-width="0.6" />
<circle cx="409.7" cy="426.7" r="3.6" fill="#cad2f6" stroke="#9eaee8" stroke-width="0.6" />
<circle cx="415.6" cy="433.8" r="0.8" fill="#5a6cd0" stroke="none" stroke-width="1" />
<circle cx="407.1" cy="431.6" r="0.8" fill="#5a6cd0" stroke="none" stroke-width="1" />
<circle cx="412.2" cy="421.8" r="0.8" fill="#5a6cd0" stroke="none" stroke-width="1" />
<circle cx="428.0" cy="425.2" r="0.8" fill="#5a6cd0" stroke="none" stroke-width="1" />
<circle cx="414.4" cy="430.5" r="0.8" fill="#5a6cd0" stroke="none" stroke-width="1" />
<circle cx="424.7" cy="424.0" r="0.8" fill="#5a6cd0" stroke="none" stroke-width="1" />
<circle cx="420.0" cy="416.5" r="0.8" fill="#5a6cd0" stroke="none" stroke-width="1" />
<circle cx="411.2" cy="420.3" r="0.8" fill="#5a6cd0" stroke="none" stroke-width="1" />
<circle cx="405.9" cy="415.1" r="0.8" fill="#5a6cd0" stroke="none" stroke-width="1" />
<circle cx="402.4" cy="422.6" r="0.8" fill="#5a6cd0" stroke="none" stroke-width="1" />
<circle cx="413.1" cy="421.3" r="0.8" fill="#5a6cd0" stroke="none" stroke-width="1" />
<circle cx="415.4" cy="414.2" r="0.8" fill="#5a6cd0" stroke="none" stroke-width="1" />
<circle cx="414.0" cy="426.4" r="0.8" fill="#5a6cd0" stroke="none" stroke-width="1" />
<circle cx="421.4" cy="417.5" r="0.8" fill="#5a6cd0" stroke="none" stroke-width="1" />
<circle cx="412.2" cy="412.2" r="0.8" fill="#5a6cd0" stroke="none" stroke-width="1" />
<circle cx="411.7" cy="412.0" r="0.8" fill="#5a6cd0" stroke="none" stroke-width="1" />
<circle cx="404.5" cy="431.3" r="0.8" fill="#5a6cd0" stroke="none" stroke-width="1" />
<circle cx="401.6" cy="428.5" r="0.8" fill="#5a6cd0" stroke="none" stroke-width="1" />
<circle cx="418.1" cy="421.4" r="0.8" fill="#5a6cd0" stroke="none" stroke-width="1" />
<circle cx="419.2" cy="428.8" r="0.8" fill="#5a6cd0" stroke="none" stroke-width="1" />
<circle cx="424.2" cy="422.4" r="0.8" fill="#5a6cd0" stroke="none" stroke-width="1" />
<circle cx="409.2" cy="419.1" r="0.8" fill="#5a6cd0" stroke="none" stroke-width="1" />
<circle cx="405.8" cy="423.8" r="0.8" fill="#5a6cd0" stroke="none" stroke-width="1" />
<circle cx="408.2" cy="432.2" r="0.8" fill="#5a6cd0" stroke="none" stroke-width="1" />
<circle cx="402.9" cy="418.0" r="0.8" fill="#5a6cd0" stroke="none" stroke-width="1" />
<circle cx="409.0" cy="412.8" r="0.8" fill="#5a6cd0" stroke="none" stroke-width="1" />
<circle cx="423.7" cy="414.0" r="0.8" fill="#5a6cd0" stroke="none" stroke-width="1" />
<circle cx="412.0" cy="419.6" r="0.8" fill="#5a6cd0" stroke="none" stroke-width="1" />
<circle cx="423.9" cy="414.4" r="0.8" fill="#5a6cd0" stroke="none" stroke-width="1" />
<circle cx="423.8" cy="418.7" r="0.8" fill="#5a6cd0" stroke="none" stroke-width="1" />
<circle cx="413.3" cy="418.4" r="0.8" fill="#5a6cd0" stroke="none" stroke-width="1" />
<circle cx="420.2" cy="415.6" r="0.8" fill="#5a6cd0" stroke="none" stroke-width="1" />
<circle cx="414.0" cy="427.4" r="0.8" fill="#5a6cd0" stroke="none" stroke-width="1" />
<circle cx="423.6" cy="413.9" r="0.8" fill="#5a6cd0" stroke="none" stroke-width="1" />
<circle cx="425.8" cy="430.3" r="0.8" fill="#5a6cd0" stroke="none" stroke-width="1" />
<circle cx="410.0" cy="426.9" r="0.8" fill="#5a6cd0" stroke="none" stroke-width="1" />
<circle cx="405.9" cy="414.4" r="1.7" fill="url(#sph2)" stroke="none" stroke-width="1" />
<circle cx="413.9" cy="412.7" r="1.7" fill="url(#sph2)" stroke="none" stroke-width="1" />
<circle cx="411.2" cy="421.5" r="1.7" fill="url(#sph2)" stroke="none" stroke-width="1" />
<circle cx="418.3" cy="418.0" r="1.7" fill="url(#sph2)" stroke="none" stroke-width="1" />
<circle cx="414.8" cy="427.7" r="1.7" fill="url(#sph2)" stroke="none" stroke-width="1" />
<circle cx="408.6" cy="431.3" r="1.7" fill="url(#sph2)" stroke="none" stroke-width="1" />
<text x="414.4" y="448.8" font-size="5.0" text-anchor="middle" font-weight="normal" fill="#222" font-family='"Liberation Sans", sans-serif' >EPR Effect</text>
<rect x="420.3" y="420.9" width="6.7" height="6.7" fill="#c8d0f4" stroke="#1a2040" stroke-width="1.2" />
<circle cx="423.6" cy="424.2" r="1.6" fill="url(#sph2)" stroke="none" stroke-width="1" />
<line x1="427.0" y1="420.9" x2="443.8" y2="361.4" stroke="#111" stroke-width="1.2" stroke-dasharray="2.2 1.3"/>
<line x1="427.0" y1="427.6" x2="443.8" y2="481.8" stroke="#111" stroke-width="1.2" stroke-dasharray="2.2 1.3"/>
<rect x="443.8" y="361.4" width="96.8" height="120.4" fill="#ffffff" stroke="#222" stroke-width="1.3" />
<rect x="448.5" y="440.5" width="14.5" height="16.3" fill="#d4f4f6" stroke="none" stroke-width="1" />
<rect x="463.0" y="456.8" width="16.0" height="21.8" fill="#dff6f4" stroke="none" stroke-width="1" />
<polygon points="470.0,434.0 507.0,436.0 512.0,446.0 512.0,468.0 480.0,468.0 472.0,452.0" fill="#fbe3d3" stroke="none" stroke-width="1" />
<polygon points="452.5,381.5 470.3,374.3 489.5,407.5 465.0,418.5" fill="url(#ptt)" stroke="none" stroke-width="1" />
<polygon points="452.5,381.5 470.3,374.3 471.0,376.2 454.0,383.2" fill="#788a24" stroke="none" stroke-width="1" opacity="0.75"/>
<text x="449.2" y="374.5" font-size="8.4" text-anchor="start" font-weight="normal" fill="#b05838" font-family='"Liberation Sans", sans-serif' >PTT</text>
<text x="480.0" y="374.5" font-size="8.2" text-anchor="start" font-weight="normal" fill="#3444b4" font-family='"Liberation Sans", sans-serif' >PAI</text>
<path d="M530.0,391.0 C527.0,391.4 517.4,392.6 512.0,393.6 C506.6,394.7 501.3,395.6 497.5,397.3 C493.7,399.0 490.9,401.0 489.4,403.6 C487.9,406.2 487.4,410.3 488.5,412.7 C489.6,415.1 493.0,416.7 495.7,418.2 C498.4,419.7 502.5,419.9 504.8,421.8 C507.1,423.7 509.4,427.0 509.4,429.5 C509.4,432.0 507.1,435.0 504.8,436.8 C502.5,438.6 499.0,440.5 495.7,440.5 C492.4,440.5 488.1,438.3 484.8,436.8 C481.5,435.3 478.7,432.8 475.7,431.4 C472.7,430.0 469.3,428.3 466.6,428.6 C463.9,428.9 461.4,430.9 459.4,433.2 C457.4,435.5 456.0,438.7 454.8,442.3 C453.6,445.9 452.7,450.5 452.1,455.0 C451.5,459.5 451.4,465.2 451.2,469.5 C451.0,473.8 451.2,479.1 451.2,481.0" fill="none" stroke="#a6ccf0" stroke-width="5.6"/>
<path d="M530.0,391.0 C527.0,391.4 517.4,392.6 512.0,393.6 C506.6,394.7 501.3,395.6 497.5,397.3 C493.7,399.0 490.9,401.0 489.4,403.6 C487.9,406.2 487.4,410.3 488.5,412.7 C489.6,415.1 493.0,416.7 495.7,418.2 C498.4,419.7 502.5,419.9 504.8,421.8 C507.1,423.7 509.4,427.0 509.4,429.5 C509.4,432.0 507.1,435.0 504.8,436.8 C502.5,438.6 499.0,440.5 495.7,440.5 C492.4,440.5 488.1,438.3 484.8,436.8 C481.5,435.3 478.7,432.8 475.7,431.4 C472.7,430.0 469.3,428.3 466.6,428.6 C463.9,428.9 461.4,430.9 459.4,433.2 C457.4,435.5 456.0,438.7 454.8,442.3 C453.6,445.9 452.7,450.5 452.1,455.0 C451.5,459.5 451.4,465.2 451.2,469.5 C451.0,473.8 451.2,479.1 451.2,481.0" fill="none" stroke="#eaf6fd" stroke-width="2.4" stroke-dasharray="1.1 0.9"/>
<rect x="528.5" y="386.0" width="7.0" height="8.0" fill="#46c8e6" stroke="none" stroke-width="1" />
<rect x="452.0" y="441.0" width="7.5" height="7.5" fill="#4ab8e8" stroke="none" stroke-width="1" />
<path d="M494.2,376.7 A31,31 0 0 1 538.2,376.7" fill="none" stroke="#2a36b8" stroke-width="1.6"/>
<path d="M503.4,381.7 A16.4,16.4 0 0 1 529.0,381.7" fill="none" stroke="#2a36b8" stroke-width="1.6"/>
<path d="M509.3,389.2 A9.1,9.1 0 0 1 523.9,389.2" fill="none" stroke="#2a36b8" stroke-width="1.5"/>
<path d="M514.7,395.9 A2.8,2.8 0 0 1 519.5,395.9" fill="none" stroke="#2a36b8" stroke-width="1.4"/>
<ellipse cx="523" cy="436.8" rx="12.7" ry="9" transform="rotate(-30 523 436.8)" fill="#f8ece0" stroke="#d6bca4" stroke-width="0.9"/>
<ellipse cx="532" cy="414.5" rx="5" ry="2.6" fill="#e6cdf0"/>
<ellipse cx="466.6" cy="446.8" rx="4" ry="2.5" fill="#ead4f2"/>
<ellipse cx="530" cy="417" rx="3" ry="1.6" fill="#e6cdf0"/>
<circle cx="517.5" cy="402.7" r="5.2" fill="#f6dcd6" stroke="none" stroke-width="1" />
<circle cx="517.5" cy="402.7" r="3.4" fill="#4a3038" stroke="none" stroke-width="1" />
<circle cx="517.1" cy="402.2" r="1.7" fill="#f2ecee" stroke="none" stroke-width="1" />
<circle cx="496.6" cy="427.7" r="5.2" fill="#f6dcd6" stroke="none" stroke-width="1" />
<circle cx="496.6" cy="427.7" r="3.4" fill="#4a3038" stroke="none" stroke-width="1" />
<circle cx="496.2" cy="427.2" r="1.7" fill="#f2ecee" stroke="none" stroke-width="1" />
<circle cx="518.5" cy="439.5" r="5.2" fill="#f6dcd6" stroke="none" stroke-width="1" />
<circle cx="518.5" cy="439.5" r="3.4" fill="#4a3038" stroke="none" stroke-width="1" />
<circle cx="518.1" cy="439.0" r="1.7" fill="#f2ecee" stroke="none" stroke-width="1" />
<circle cx="528.5" cy="433.2" r="5.2" fill="#f6dcd6" stroke="none" stroke-width="1" />
<circle cx="528.5" cy="433.2" r="3.4" fill="#4a3038" stroke="none" stroke-width="1" />
<circle cx="528.1" cy="432.7" r="1.7" fill="#f2ecee" stroke="none" stroke-width="1" />
<circle cx="486.6" cy="459.5" r="5.2" fill="#f6dcd6" stroke="none" stroke-width="1" />
<circle cx="486.6" cy="459.5" r="3.4" fill="#4a3038" stroke="none" stroke-width="1" />
<circle cx="486.2" cy="459.0" r="1.7" fill="#f2ecee" stroke="none" stroke-width="1" />
<ellipse cx="471.4" cy="467.5" rx="8.2" ry="10.4" transform="rotate(-35 471.4 467.5)" fill="#30be30" stroke="#22a022" stroke-width="0.7"/>
<path d="M465,470 Q467,464 470,468 Q472,462 475,466 Q477,461 478,464" fill="none" stroke="#d4f8d4" stroke-width="0.9"/>
<path d="M507.5,482 Q506.5,470 513,463 Q521,456.5 530,457 Q537,457.5 540.6,460 L540.6,482 Z" fill="#a898d8" filter="url(#bl05)"/>
<path d="M510.5,482 Q510,472 517,466 Q526,461 534,463 Q539,464.5 540.6,467 L540.6,482 Z" fill="#4a62c0"/>
<text x="527.5" y="477.8" font-size="4.8" text-anchor="middle" font-weight="normal" fill="#eef2ff" font-family='"Liberation Sans", sans-serif' >Nucleus</text>
<rect x="443.8" y="361.4" width="96.8" height="120.4" fill="none" stroke="#222" stroke-width="1.3" />
</svg>
</body></html>
